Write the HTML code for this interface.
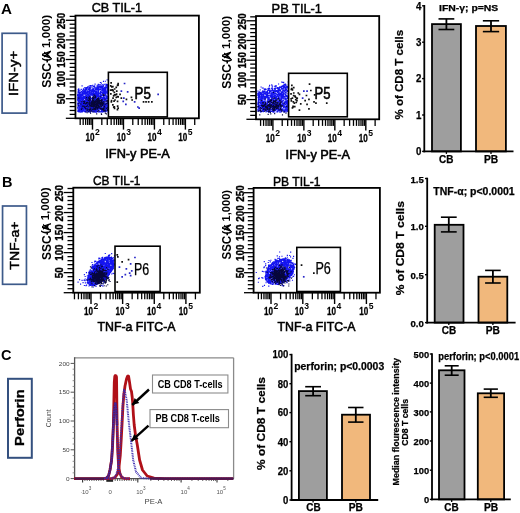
<!DOCTYPE html>
<html><head><meta charset="utf-8"><style>
html,body{margin:0;padding:0;background:#fff;}
body{width:520px;height:513px;overflow:hidden;}
svg{display:block;font-family:"Liberation Sans", sans-serif;filter:blur(0.3px);}
</style></head><body>
<svg width="520" height="513" viewBox="0 0 520 513">
<rect width="520" height="513" fill="#fff"/>
<text x="1.0" y="14.0" font-size="14" font-weight="bold" text-anchor="start" fill="#000" textLength="11" lengthAdjust="spacingAndGlyphs">A</text>
<text x="2.0" y="186.6" font-size="14" font-weight="bold" text-anchor="start" fill="#000" textLength="10.5" lengthAdjust="spacingAndGlyphs">B</text>
<text x="1.0" y="360.3" font-size="14" font-weight="bold" text-anchor="start" fill="#000" textLength="10.5" lengthAdjust="spacingAndGlyphs">C</text>
<rect x="2.10" y="33.30" width="24.50" height="79.80" stroke="#3d5a8a" stroke-width="1.7" fill="none"/>
<text transform="translate(18.1,73.4) rotate(-90)" x="0" y="0" font-size="12.6" font-weight="normal" text-anchor="middle" fill="#000" textLength="45.0" lengthAdjust="spacingAndGlyphs" stroke="#000" stroke-width="0.45">IFN-y+</text>
<rect x="2.55" y="206.00" width="23.90" height="78.30" stroke="#3d5a8a" stroke-width="1.7" fill="none"/>
<text transform="translate(19.3,245.6) rotate(-90)" x="0" y="0" font-size="12.6" font-weight="normal" text-anchor="middle" fill="#000" textLength="48.3" lengthAdjust="spacingAndGlyphs" stroke="#000" stroke-width="0.45">TNF-a+</text>
<rect x="8.00" y="378.80" width="23.80" height="79.00" stroke="#34507f" stroke-width="2" fill="none"/>
<text transform="translate(24.2,417.6) rotate(-90)" x="0" y="0" font-size="13.4" font-weight="bold" text-anchor="middle" fill="#000" textLength="56.6" lengthAdjust="spacingAndGlyphs" stroke="#000" stroke-width="0.3">Perforin</text>
<path d="M81.1 109.3h1.15M100.5 94.5h1.15M92.3 100.3h1.15M97.1 107.4h1.15M79.9 94.3h1.15M102.7 98.4h1.15M100.5 88.5h1.15M90.7 106.3h1.15M84.0 111.1h1.15M104.8 88.1h1.15M77.8 104.0h1.15M105.9 96.6h1.15M83.7 101.0h1.15M77.9 98.3h1.15M90.5 101.5h1.15M84.2 97.2h1.15M83.7 101.7h1.15M85.9 92.7h1.15M102.8 101.4h1.15M96.8 93.7h1.15M107.6 108.6h1.15M80.7 99.8h1.15M99.2 105.4h1.15M105.8 97.7h1.15M102.6 104.2h1.15M86.3 103.9h1.15M104.2 108.4h1.15M92.6 103.3h1.15M78.1 98.6h1.15M101.6 98.1h1.15M82.3 103.6h1.15M98.7 104.6h1.15M88.5 100.6h1.15M92.7 107.4h1.15M93.0 99.0h1.15M92.1 91.3h1.15M78.3 106.9h1.15M107.3 101.8h1.15M89.1 95.0h1.15M92.5 111.8h1.15M100.7 101.2h1.15M103.5 93.4h1.15M92.8 111.1h1.15M94.8 100.2h1.15M85.3 103.2h1.15M106.5 87.1h1.15M101.1 107.9h1.15M104.3 105.8h1.15M101.9 100.6h1.15M94.3 99.5h1.15M78.7 109.8h1.15M94.6 94.4h1.15M92.5 101.0h1.15M88.0 98.8h1.15M93.6 103.9h1.15M95.9 100.0h1.15M77.9 98.4h1.15M82.5 104.3h1.15M103.5 107.2h1.15M101.6 107.8h1.15M84.9 109.1h1.15M97.7 91.1h1.15M77.5 94.7h1.15M100.3 94.4h1.15M80.4 105.2h1.15M87.6 93.2h1.15M81.9 103.3h1.15M82.2 98.4h1.15M98.9 99.5h1.15M86.9 101.6h1.15M77.7 101.3h1.15M90.0 95.2h1.15M80.3 110.3h1.15M92.7 95.0h1.15M95.7 108.1h1.15M77.6 94.7h1.15M81.5 106.9h1.15M81.9 106.6h1.15M97.9 101.7h1.15M83.8 111.7h1.15M101.6 100.6h1.15M83.9 105.4h1.15M89.2 103.4h1.15M86.9 104.7h1.15M78.8 99.5h1.15M106.8 109.0h1.15M86.4 109.3h1.15M86.6 111.0h1.15M99.9 98.4h1.15M84.8 92.7h1.15M104.1 88.5h1.15M102.2 111.3h1.15M94.6 93.8h1.15M103.7 111.5h1.15M98.7 100.8h1.15M88.6 98.7h1.15M83.3 105.9h1.15M90.3 95.2h1.15M80.2 106.0h1.15M86.1 102.2h1.15M87.0 109.6h1.15M104.7 87.8h1.15M83.2 99.3h1.15M107.4 106.6h1.15M87.4 96.2h1.15M97.8 108.4h1.15M105.7 95.7h1.15M104.2 104.5h1.15M91.9 111.9h1.15M84.2 106.8h1.15M79.6 97.0h1.15M105.1 92.6h1.15M100.4 102.7h1.15M102.9 96.8h1.15M87.5 97.8h1.15M103.7 102.5h1.15M106.4 109.3h1.15M81.2 103.8h1.15M80.2 94.5h1.15M79.3 109.7h1.15M101.3 108.1h1.15M87.5 104.4h1.15M101.1 97.3h1.15M94.6 95.0h1.15M79.5 98.8h1.15M104.4 101.4h1.15M105.5 98.6h1.15M85.5 108.0h1.15M102.5 88.3h1.15M97.6 91.3h1.15M80.5 110.0h1.15M78.2 98.5h1.15M107.4 97.4h1.15M80.6 96.8h1.15M84.4 107.2h1.15M80.2 110.5h1.15M88.7 111.6h1.15M105.0 94.6h1.15M84.8 101.9h1.15M80.1 105.8h1.15M78.2 94.4h1.15M107.3 94.2h1.15M95.4 99.9h1.15M86.6 93.3h1.15M105.1 111.4h1.15M106.9 89.6h1.15M83.6 104.8h1.15M107.2 100.5h1.15M98.2 104.4h1.15M85.0 103.2h1.15M86.5 97.1h1.15M79.5 99.0h1.15M107.3 98.1h1.15M97.1 104.0h1.15M106.0 96.9h1.15M86.4 98.7h1.15M86.8 109.1h1.15M104.5 94.9h1.15M87.3 102.9h1.15M94.8 103.2h1.15M84.5 93.0h1.15M84.5 94.0h1.15M94.0 91.7h1.15M79.3 105.5h1.15M86.0 108.0h1.15M92.2 109.2h1.15M81.7 102.8h1.15M101.5 90.1h1.15M106.2 91.3h1.15M100.9 111.8h1.15M102.3 95.7h1.15M80.3 103.2h1.15M105.3 94.5h1.15M104.5 90.9h1.15M105.0 88.1h1.15M86.7 110.2h1.15M101.8 109.9h1.15M102.9 106.0h1.15M98.2 93.2h1.15M90.3 94.4h1.15M99.0 104.4h1.15M84.8 93.8h1.15M106.7 107.3h1.15M93.9 102.1h1.15M103.2 98.8h1.15M89.2 98.4h1.15M84.9 93.0h1.15M96.9 98.9h1.15M94.6 91.4h1.15M87.9 94.6h1.15M80.9 98.4h1.15M102.5 97.6h1.15M89.4 104.1h1.15M84.2 92.9h1.15M93.3 101.3h1.15M97.0 99.4h1.15M98.1 106.0h1.15M84.3 102.3h1.15M91.7 95.6h1.15M89.7 103.0h1.15M104.9 110.1h1.15M85.5 105.2h1.15M78.5 95.5h1.15M92.8 109.5h1.15M81.9 107.8h1.15M104.2 95.2h1.15M98.3 108.7h1.15M88.4 106.0h1.15M99.7 102.7h1.15M103.4 109.6h1.15M106.6 101.3h1.15M82.4 97.9h1.15M83.7 103.8h1.15M100.3 89.7h1.15M98.0 105.7h1.15M87.7 102.3h1.15M82.1 107.1h1.15M78.3 111.8h1.15M101.9 103.2h1.15M85.2 110.5h1.15M106.6 90.4h1.15M100.9 108.4h1.15M97.3 105.3h1.15M90.7 110.6h1.15M106.9 96.5h1.15M101.7 98.6h1.15M82.1 99.4h1.15M80.9 110.5h1.15M106.6 89.9h1.15M95.5 98.9h1.15M80.6 99.1h1.15M84.6 107.3h1.15M77.1 97.9h1.15M90.5 91.5h1.15M96.3 103.3h1.15M102.7 92.9h1.15M85.8 103.1h1.15M85.4 104.0h1.15M84.7 106.0h1.15M101.4 107.6h1.15M107.0 100.6h1.15M92.1 109.1h1.15M100.7 102.0h1.15M88.8 97.4h1.15M80.3 108.6h1.15M80.6 107.5h1.15M93.8 111.4h1.15M100.4 111.5h1.15M81.2 102.8h1.15M94.6 96.9h1.15M92.5 98.3h1.15M93.3 90.4h1.15M90.6 100.5h1.15M86.4 100.1h1.15M101.1 104.6h1.15M92.2 104.6h1.15M88.6 95.8h1.15M77.1 99.4h1.15M95.4 109.5h1.15M102.5 100.3h1.15M107.4 98.4h1.15M102.7 97.8h1.15M99.9 111.9h1.15M86.4 95.5h1.15M96.1 101.6h1.15M88.1 91.8h1.15M89.0 100.3h1.15M89.5 109.3h1.15M95.0 106.2h1.15M104.7 105.9h1.15M92.2 106.7h1.15M96.7 104.2h1.15M96.4 98.8h1.15M96.4 103.9h1.15M105.9 106.7h1.15M103.1 106.5h1.15M102.1 102.7h1.15M87.8 97.2h1.15M98.8 109.2h1.15M93.8 93.6h1.15M102.7 99.7h1.15M91.4 91.8h1.15M92.7 106.6h1.15M90.0 98.6h1.15M97.2 89.8h1.15M92.6 111.0h1.15M98.3 98.3h1.15M98.2 103.0h1.15M83.4 96.9h1.15M104.3 94.1h1.15M79.3 109.1h1.15M93.1 98.4h1.15M92.8 106.5h1.15M82.2 105.6h1.15M99.0 107.9h1.15M85.3 104.5h1.15M84.1 103.6h1.15M82.3 108.2h1.15M103.7 95.7h1.15M83.8 111.5h1.15M98.8 108.5h1.15M77.9 110.4h1.15M96.2 96.7h1.15M90.3 107.2h1.15M101.2 92.8h1.15M96.3 93.3h1.15M107.0 98.1h1.15M105.1 105.4h1.15M95.7 95.6h1.15M93.2 93.4h1.15M81.3 106.9h1.15M88.1 107.1h1.15M84.4 106.7h1.15M99.1 96.0h1.15M80.3 101.0h1.15M92.2 92.8h1.15M82.8 94.1h1.15M95.4 109.7h1.15M83.7 93.5h1.15M98.7 107.9h1.15M106.7 102.4h1.15M87.5 108.9h1.15M80.6 106.5h1.15M79.9 101.2h1.15M92.2 98.8h1.15M82.2 97.6h1.15M102.3 99.2h1.15M94.9 94.6h1.15M99.0 96.6h1.15M95.3 110.2h1.15M101.6 108.8h1.15M86.8 99.7h1.15M94.9 110.4h1.15M89.3 109.7h1.15M100.4 92.1h1.15M105.1 87.6h1.15M81.5 105.9h1.15M78.8 101.0h1.15M81.0 102.2h1.15M102.9 109.9h1.15M78.1 95.4h1.15M102.9 88.9h1.15M85.4 94.7h1.15M79.8 94.4h1.15M96.6 106.4h1.15M98.2 108.6h1.15M97.4 98.2h1.15M96.4 111.5h1.15M96.8 95.0h1.15M78.9 111.0h1.15M95.2 97.7h1.15M95.6 102.3h1.15M93.1 91.7h1.15M87.9 100.2h1.15M83.1 109.9h1.15M90.1 105.1h1.15M99.0 106.2h1.15M99.2 106.4h1.15M84.7 111.7h1.15M81.7 110.6h1.15M103.3 108.6h1.15M78.6 95.8h1.15M102.0 99.4h1.15M88.4 111.9h1.15M78.2 103.8h1.15M90.7 93.7h1.15M89.2 106.1h1.15M104.2 88.1h1.15M93.2 92.3h1.15M101.7 90.2h1.15M78.1 101.2h1.15M99.6 96.1h1.15M81.0 108.3h1.15M101.9 108.7h1.15M86.4 100.7h1.15M84.6 103.5h1.15M87.2 98.8h1.15M101.1 111.1h1.15M95.0 92.2h1.15M97.1 99.6h1.15M107.4 105.0h1.15M102.7 104.9h1.15M93.5 109.9h1.15M102.6 95.0h1.15M81.8 100.3h1.15M93.0 92.5h1.15M87.6 103.5h1.15M78.3 108.9h1.15M97.1 96.5h1.15M86.2 99.2h1.15M87.0 107.1h1.15M92.4 101.9h1.15M81.6 110.6h1.15M87.0 98.6h1.15M79.1 111.8h1.15M91.8 110.3h1.15M105.6 111.4h1.15M102.1 110.4h1.15M105.4 107.2h1.15M81.1 103.3h1.15M94.7 112.0h1.15M101.1 105.1h1.15M100.0 97.1h1.15M106.0 103.2h1.15M89.4 101.0h1.15M107.2 100.3h1.15M82.2 96.0h1.15M98.2 102.1h1.15M104.9 91.9h1.15M89.7 106.5h1.15M78.5 96.0h1.15M93.8 96.0h1.15M80.3 98.5h1.15M96.5 101.4h1.15M79.4 95.3h1.15M103.2 103.5h1.15M82.3 109.6h1.15M77.7 100.9h1.15M103.1 105.1h1.15M85.7 110.0h1.15M95.4 109.2h1.15M104.5 98.0h1.15M97.8 101.7h1.15M106.1 107.1h1.15M99.4 107.8h1.15M83.2 107.3h1.15M100.7 100.6h1.15M92.0 99.4h1.15M104.2 107.1h1.15M95.0 90.8h1.15M103.2 99.0h1.15M82.8 98.8h1.15M98.3 89.2h1.15M80.7 99.2h1.15M104.3 105.9h1.15M106.9 100.6h1.15M94.6 102.2h1.15M93.2 102.2h1.15M102.2 111.0h1.15M89.6 104.5h1.15M86.5 98.2h1.15M92.6 103.2h1.15M93.9 111.7h1.15M82.0 105.3h1.15M94.4 98.2h1.15M89.4 110.9h1.15M104.6 104.0h1.15M104.7 110.3h1.15M103.1 97.1h1.15M91.3 107.8h1.15M88.5 107.0h1.15M91.8 97.9h1.15M91.0 93.4h1.15M87.9 100.2h1.15M77.6 97.5h1.15M85.0 109.4h1.15M95.2 96.3h1.15M92.8 106.5h1.15M98.3 99.1h1.15M100.9 99.9h1.15M99.0 100.3h1.15M106.9 105.0h1.15M79.8 96.2h1.15M106.8 92.6h1.15M77.8 98.9h1.15M91.8 111.1h1.15M89.3 106.4h1.15M102.7 90.1h1.15M95.8 112.1h1.15M93.9 101.9h1.15M87.7 111.1h1.15M106.9 89.4h1.15M94.0 99.4h1.15M97.7 91.9h1.15M85.2 98.0h1.15M91.8 107.7h1.15M103.4 107.0h1.15M97.8 91.2h1.15M89.0 105.3h1.15M86.1 102.4h1.15M104.9 90.2h1.15M103.3 90.3h1.15M88.9 110.2h1.15M83.2 103.0h1.15M89.8 109.8h1.15M107.6 94.0h1.15M92.2 109.9h1.15M93.8 94.9h1.15M100.4 96.5h1.15M92.0 90.9h1.15M107.5 103.4h1.15M105.5 111.4h1.15M85.2 103.1h1.15M90.6 107.1h1.15M102.9 93.4h1.15M85.5 106.4h1.15M89.7 94.0h1.15M83.0 103.8h1.15M95.4 111.3h1.15M93.4 103.6h1.15M81.6 101.2h1.15M85.6 106.1h1.15M85.2 96.7h1.15M88.3 101.3h1.15M87.4 104.2h1.15M82.6 109.9h1.15M98.4 101.4h1.15M78.8 100.0h1.15M98.3 104.0h1.15M102.0 109.6h1.15M86.7 102.0h1.15M87.2 94.5h1.15M81.3 98.3h1.15M79.7 103.7h1.15M98.7 102.0h1.15M98.1 94.3h1.15M83.1 103.9h1.15M104.2 97.9h1.15M77.1 94.9h1.15M86.4 104.5h1.15M79.6 98.0h1.15M98.0 111.8h1.15M87.5 104.1h1.15M93.0 90.9h1.15M87.2 94.8h1.15M84.7 107.7h1.15M98.0 90.1h1.15M79.4 107.2h1.15M80.2 99.6h1.15M85.3 93.4h1.15M78.0 96.8h1.15M89.3 110.8h1.15M96.7 95.0h1.15M97.9 95.4h1.15M92.9 97.4h1.15M106.2 95.9h1.15M101.7 103.6h1.15M103.0 102.6h1.15M103.8 97.6h1.15M97.9 103.4h1.15M93.3 102.7h1.15M93.5 98.9h1.15M104.7 103.1h1.15M93.9 91.4h1.15M92.7 94.3h1.15M83.6 101.3h1.15M93.8 95.7h1.15M85.3 102.9h1.15M91.6 99.4h1.15M80.2 100.6h1.15M97.2 101.8h1.15M93.8 108.7h1.15M99.3 104.8h1.15M77.9 99.8h1.15M98.0 92.7h1.15M105.1 90.8h1.15M104.1 92.9h1.15M102.9 108.5h1.15M87.3 109.9h1.15M81.9 109.3h1.15M88.8 100.6h1.15M80.6 104.8h1.15M85.3 105.6h1.15M101.6 102.7h1.15M77.3 111.3h1.15M105.3 103.3h1.15M88.7 103.1h1.15M104.2 98.8h1.15M101.0 102.6h1.15M90.0 110.8h1.15M89.6 103.9h1.15M78.6 102.6h1.15M78.2 106.9h1.15M77.0 95.3h1.15M80.4 96.3h1.15M92.6 98.2h1.15M85.3 111.9h1.15M105.0 103.6h1.15M101.7 107.8h1.15M84.6 108.4h1.15M84.4 103.6h1.15M88.0 95.0h1.15M100.9 110.2h1.15M86.7 109.8h1.15M87.7 105.2h1.15M78.7 102.0h1.15M88.6 97.6h1.15M102.1 98.7h1.15M98.5 103.7h1.15M93.0 91.6h1.15M97.7 109.7h1.15M82.3 105.4h1.15M92.0 98.0h1.15M98.9 111.6h1.15M77.7 110.3h1.15M88.8 108.7h1.15M82.4 106.8h1.15M80.1 100.0h1.15M106.9 103.5h1.15M101.2 99.3h1.15M91.5 101.3h1.15M100.8 105.6h1.15M83.0 101.5h1.15M93.7 102.8h1.15M105.5 108.2h1.15M81.6 100.4h1.15M80.4 94.2h1.15M79.3 97.3h1.15M100.6 104.3h1.15M101.6 95.1h1.15M81.8 111.6h1.15M102.4 110.9h1.15M77.6 101.5h1.15M96.5 106.2h1.15M105.1 100.7h1.15M89.0 91.6h1.15M101.8 111.7h1.15M104.9 103.8h1.15M87.5 96.7h1.15M100.9 110.6h1.15M106.6 91.3h1.15M95.0 101.3h1.15M90.2 107.9h1.15M105.8 105.3h1.15M98.6 105.0h1.15M97.1 101.6h1.15M84.6 107.9h1.15M80.7 105.6h1.15M88.9 103.1h1.15M96.8 100.3h1.15M107.1 92.8h1.15M77.4 111.4h1.15M86.6 97.7h1.15M89.8 103.7h1.15M107.4 104.7h1.15M86.8 102.8h1.15M90.8 101.6h1.15M89.9 94.7h1.15M89.2 99.5h1.15M83.2 108.7h1.15M88.1 94.8h1.15M94.5 108.7h1.15M101.0 103.2h1.15M99.5 96.6h1.15M81.4 98.2h1.15M87.8 97.5h1.15M91.4 94.0h1.15M81.0 98.2h1.15M83.1 108.4h1.15M93.6 94.6h1.15M90.2 109.5h1.15M94.8 102.3h1.15M89.1 95.5h1.15M96.3 91.3h1.15M101.2 89.7h1.15M100.0 97.6h1.15M98.0 102.7h1.15M81.0 103.6h1.15M79.3 98.4h1.15M88.8 97.4h1.15M97.4 111.9h1.15M88.0 108.9h1.15M83.9 106.5h1.15M87.7 102.7h1.15M79.7 109.0h1.15M83.4 101.8h1.15M85.9 108.4h1.15M95.3 103.6h1.15M100.2 94.6h1.15M78.8 109.1h1.15M86.7 108.4h1.15M106.5 102.8h1.15M80.2 109.5h1.15M96.5 95.1h1.15M83.4 102.7h1.15M80.7 110.4h1.15M98.8 108.0h1.15M88.8 110.6h1.15M81.1 106.9h1.15M84.8 92.6h1.15M80.7 97.3h1.15M100.5 97.4h1.15M91.8 103.9h1.15M85.2 105.0h1.15M97.7 110.4h1.15M92.5 109.0h1.15M106.8 106.3h1.15M90.0 96.9h1.15M80.0 109.1h1.15M81.0 104.0h1.15M91.0 91.9h1.15M83.6 108.8h1.15M93.6 110.5h1.15M105.0 89.6h1.15M97.9 90.1h1.15M90.0 100.5h1.15M106.5 102.0h1.15M82.9 102.8h1.15M93.1 94.7h1.15M88.1 109.7h1.15M107.2 106.5h1.15M79.0 110.5h1.15M91.1 108.6h1.15M82.4 96.0h1.15M104.9 94.4h1.15M78.3 103.2h1.15M107.5 108.0h1.15M89.2 112.0h1.15M101.5 108.4h1.15M96.9 98.4h1.15M104.9 99.0h1.15M105.8 100.9h1.15M105.0 99.2h1.15M90.1 103.5h1.15M86.8 95.0h1.15M95.2 108.8h1.15M85.6 109.5h1.15M101.2 106.8h1.15M89.8 112.1h1.15M101.4 102.0h1.15M80.5 104.3h1.15M77.4 110.4h1.15M87.4 99.4h1.15M94.0 104.2h1.15M94.9 100.7h1.15M96.5 108.7h1.15M90.7 101.6h1.15M102.0 88.2h1.15M81.9 99.4h1.15M83.6 110.2h1.15M81.6 95.4h1.15M86.8 102.3h1.15M102.3 112.1h1.15M103.2 102.6h1.15M78.2 95.4h1.15M96.4 108.1h1.15M85.2 111.6h1.15M94.0 102.8h1.15M96.1 91.3h1.15M82.2 111.0h1.15M85.2 94.1h1.15M85.7 106.7h1.15M85.1 96.6h1.15M85.5 101.9h1.15M99.7 95.8h1.15M103.9 111.6h1.15M102.3 89.8h1.15M86.7 110.7h1.15M103.5 91.0h1.15M90.6 98.7h1.15M100.0 89.3h1.15M86.7 107.1h1.15M104.3 88.5h1.15M95.1 104.7h1.15M103.9 98.0h1.15M107.0 91.8h1.15M80.5 96.1h1.15M95.1 92.6h1.15M85.2 96.3h1.15M78.7 111.5h1.15M87.3 111.4h1.15M99.3 93.9h1.15M105.7 87.3h1.15M107.2 87.5h1.15M84.8 103.4h1.15M77.3 108.0h1.15M79.6 108.8h1.15M78.1 103.7h1.15M83.5 98.5h1.15M92.1 98.6h1.15M89.1 105.0h1.15M83.0 96.5h1.15M98.1 96.0h1.15M105.7 97.8h1.15M91.6 91.3h1.15M77.6 96.3h1.15M96.3 104.6h1.15M106.3 97.9h1.15M98.8 96.9h1.15M79.3 101.6h1.15M98.6 107.6h1.15M106.3 107.9h1.15M94.4 102.2h1.15M92.4 100.9h1.15M98.0 102.4h1.15M103.4 98.7h1.15M91.5 108.6h1.15M97.8 101.2h1.15M94.4 107.9h1.15M95.7 95.5h1.15M86.6 104.2h1.15M78.4 102.4h1.15M104.5 93.2h1.15M90.7 105.8h1.15M105.5 104.6h1.15M96.3 98.2h1.15M90.5 104.6h1.15M88.0 107.8h1.15M77.3 107.8h1.15M99.9 95.9h1.15M77.5 100.4h1.15M95.1 107.4h1.15M103.8 92.7h1.15M79.5 96.1h1.15M107.5 103.1h1.15M81.0 106.4h1.15M106.6 102.3h1.15M84.2 111.4h1.15M98.6 93.2h1.15M100.6 100.4h1.15M94.7 98.1h1.15M86.0 100.6h1.15M93.2 100.4h1.15M103.7 89.5h1.15M83.1 111.0h1.15M95.7 103.6h1.15M96.4 95.0h1.15M89.2 95.8h1.15M81.7 112.0h1.15M99.9 109.3h1.15M77.0 107.0h1.15M86.5 102.1h1.15M97.8 89.9h1.15M88.4 103.0h1.15M103.9 100.2h1.15M86.8 104.2h1.15M95.0 96.4h1.15M93.9 96.3h1.15M77.3 100.0h1.15M79.7 102.9h1.15M92.4 109.4h1.15M100.0 106.3h1.15M107.5 93.4h1.15M88.5 96.3h1.15M80.2 103.2h1.15M92.7 93.3h1.15M105.4 111.6h1.15M79.1 94.1h1.15M78.9 107.3h1.15M103.3 89.4h1.15M77.3 104.0h1.15M87.2 92.3h1.15M77.3 98.2h1.15M83.2 98.6h1.15M94.0 95.7h1.15M84.2 96.8h1.15M104.3 93.4h1.15M94.1 100.1h1.15M87.2 100.2h1.15M77.5 97.7h1.15M96.7 106.8h1.15M83.7 96.2h1.15M104.9 89.8h1.15M101.5 109.3h1.15M81.5 109.0h1.15M81.6 94.2h1.15M85.8 99.1h1.15M95.2 99.7h1.15M101.4 104.1h1.15M80.7 97.4h1.15M100.0 91.3h1.15M106.3 107.4h1.15M83.8 98.4h1.15M84.8 100.9h1.15M84.7 93.2h1.15M84.8 96.4h1.15M87.8 101.0h1.15M103.9 103.8h1.15M96.0 109.1h1.15M88.9 100.3h1.15M84.5 108.9h1.15M104.0 110.0h1.15M95.6 92.3h1.15M79.2 108.5h1.15M104.3 100.6h1.15M105.4 110.4h1.15M100.2 97.3h1.15M91.1 98.4h1.15M89.2 101.2h1.15M77.5 96.7h1.15M82.2 104.0h1.15M103.8 105.1h1.15M81.6 102.0h1.15M96.3 92.6h1.15M79.5 105.1h1.15M84.3 105.3h1.15M82.3 109.4h1.15M86.5 100.7h1.15M93.9 109.7h1.15M105.2 108.3h1.15M98.1 90.7h1.15M82.8 103.3h1.15M107.3 105.2h1.15M82.9 99.9h1.15M106.6 99.7h1.15M103.8 108.7h1.15M101.1 103.3h1.15M97.5 97.1h1.15M80.7 111.2h1.15M78.0 99.2h1.15M95.9 111.4h1.15M83.5 97.7h1.15M103.1 95.8h1.15M89.4 98.8h1.15M78.5 111.1h1.15M98.5 89.2h1.15M80.0 96.3h1.15M88.4 109.9h1.15M81.3 97.7h1.15M86.6 102.3h1.15M104.8 100.7h1.15M104.8 100.8h1.15M90.3 109.5h1.15M94.9 100.5h1.15M92.8 98.2h1.15M90.3 92.7h1.15M83.3 107.6h1.15M81.1 97.4h1.15M82.0 100.1h1.15M78.5 100.7h1.15M95.8 104.9h1.15M103.7 89.8h1.15M96.8 93.9h1.15M87.5 103.5h1.15M102.8 104.2h1.15M107.3 87.1h1.15M86.7 101.7h1.15M78.1 95.2h1.15M88.3 103.1h1.15M81.2 94.8h1.15M86.8 107.0h1.15M94.5 112.1h1.15M95.6 109.7h1.15M94.6 100.7h1.15M89.8 92.7h1.15M78.9 106.0h1.15M103.5 88.2h1.15M82.6 99.4h1.15M86.6 108.8h1.15M84.8 98.6h1.15M92.0 111.1h1.15M86.1 104.9h1.15M78.5 101.9h1.15M105.6 92.6h1.15M88.0 105.1h1.15M94.4 102.8h1.15M95.7 104.9h1.15M86.9 99.1h1.15M89.2 102.3h1.15M94.5 109.4h1.15M89.2 100.7h1.15M102.6 111.5h1.15M84.5 106.9h1.15M84.6 107.1h1.15M78.2 103.3h1.15M94.6 105.5h1.15M105.2 107.1h1.15M94.3 101.1h1.15M77.4 104.3h1.15M94.3 106.5h1.15M82.1 104.4h1.15M78.6 107.2h1.15M102.3 98.6h1.15M98.2 104.4h1.15M86.4 93.9h1.15M100.3 97.0h1.15M82.0 101.6h1.15M102.7 111.1h1.15M94.5 111.5h1.15M82.3 102.5h1.15M77.3 98.6h1.15M104.0 89.0h1.15M97.2 101.0h1.15M107.4 112.0h1.15M80.8 98.5h1.15M107.5 95.1h1.15M82.6 110.5h1.15M96.0 96.6h1.15M94.1 99.6h1.15M91.1 102.7h1.15M82.2 104.9h1.15M106.4 101.9h1.15M101.3 95.0h1.15M81.8 93.5h1.15M107.2 89.8h1.15M88.7 105.0h1.15M99.6 103.2h1.15M90.5 108.3h1.15M90.6 108.7h1.15M78.7 107.2h1.15M80.0 100.9h1.15M90.7 94.9h1.15M90.8 109.1h1.15M78.1 97.8h1.15M107.0 98.2h1.15M89.0 110.4h1.15M100.9 92.5h1.15M95.4 93.8h1.15M100.9 101.6h1.15M101.6 89.7h1.15M105.6 92.9h1.15M103.2 98.6h1.15M104.4 90.0h1.15M78.7 102.6h1.15M105.7 98.8h1.15M92.6 94.1h1.15M93.7 99.6h1.15M104.3 105.8h1.15M91.7 93.9h1.15M81.5 111.6h1.15M95.8 94.7h1.15M102.0 93.3h1.15M91.0 109.6h1.15M80.2 95.6h1.15M78.6 96.9h1.15M88.5 98.2h1.15M85.6 92.6h1.15M92.0 100.3h1.15M99.8 95.8h1.15M94.9 96.9h1.15M100.2 92.7h1.15M92.1 100.3h1.15M91.1 102.4h1.15M93.5 97.2h1.15M102.4 111.0h1.15M94.2 104.1h1.15M99.3 96.3h1.15M95.2 100.2h1.15M91.9 99.2h1.15M93.5 95.1h1.15M84.4 96.6h1.15M95.3 95.3h1.15M101.0 109.9h1.15M100.4 96.3h1.15M106.0 95.7h1.15M88.1 103.9h1.15M97.3 98.6h1.15M101.2 108.7h1.15M85.9 96.7h1.15M89.2 105.9h1.15M97.6 93.2h1.15M89.0 110.1h1.15M106.6 102.2h1.15M101.0 108.4h1.15M83.8 94.1h1.15M95.8 98.3h1.15M98.9 95.7h1.15M90.4 108.1h1.15M79.9 101.3h1.15M81.7 103.4h1.15M99.6 111.9h1.15M100.2 92.0h1.15M90.5 102.5h1.15M96.6 105.4h1.15M107.0 110.7h1.15M83.4 96.0h1.15M106.9 90.9h1.15M106.8 89.9h1.15M95.0 92.8h1.15M81.1 99.7h1.15M101.4 105.0h1.15M86.8 94.8h1.15M88.0 95.3h1.15M84.2 102.4h1.15M92.1 110.5h1.15M79.8 103.6h1.15M94.4 93.2h1.15M88.1 94.5h1.15M104.5 96.1h1.15M79.0 102.7h1.15M93.3 109.7h1.15M99.1 93.6h1.15M105.0 87.4h1.15M98.5 90.0h1.15M102.2 92.6h1.15M101.6 107.7h1.15M100.8 91.0h1.15M89.3 93.6h1.15M99.1 112.0h1.15M93.1 104.6h1.15M97.5 92.5h1.15M88.4 98.8h1.15M100.1 98.3h1.15M88.3 102.9h1.15M83.3 94.2h1.15M84.3 93.1h1.15M97.6 99.7h1.15M96.0 102.4h1.15M78.7 108.8h1.15M102.2 88.2h1.15M90.2 107.7h1.15M89.8 109.2h1.15M98.4 104.3h1.15M104.9 106.7h1.15M95.0 90.9h1.15M91.0 105.6h1.15M93.1 103.1h1.15M87.8 108.9h1.15M84.6 105.1h1.15M90.5 94.2h1.15M77.6 96.7h1.15M85.9 101.7h1.15M77.8 95.6h1.15M101.5 111.7h1.15M90.3 101.0h1.15M95.6 91.9h1.15M93.6 105.0h1.15M106.1 103.2h1.15M93.8 99.2h1.15M105.1 100.3h1.15M91.7 106.5h1.15M90.5 92.5h1.15M95.2 109.2h1.15M88.4 93.6h1.15M80.3 110.4h1.15M80.4 105.8h1.15M79.7 103.3h1.15M105.1 93.1h1.15M86.5 104.4h1.15M94.7 102.4h1.15M89.1 92.3h1.15M95.3 96.0h1.15M96.1 99.5h1.15M85.3 112.1h1.15M86.9 111.6h1.15M91.7 102.2h1.15M85.3 95.9h1.15M98.7 99.5h1.15M95.0 94.0h1.15M92.7 104.8h1.15M100.4 104.3h1.15M89.7 105.6h1.15M95.4 100.5h1.15M96.4 96.5h1.15M78.9 96.7h1.15M107.0 109.5h1.15M102.5 94.2h1.15M102.8 107.1h1.15M93.7 96.9h1.15M80.3 112.1h1.15M90.7 106.5h1.15M105.0 100.8h1.15M80.9 111.7h1.15M93.6 107.1h1.15M96.2 91.1h1.15M91.2 91.1h1.15M85.2 111.4h1.15M98.3 102.1h1.15M80.5 106.4h1.15M95.6 104.0h1.15M98.2 110.5h1.15M90.8 103.9h1.15M93.3 103.2h1.15M97.9 93.5h1.15M78.7 96.2h1.15M78.3 104.2h1.15M86.4 107.9h1.15M82.0 96.1h1.15M103.7 89.8h1.15M87.9 105.8h1.15M94.3 96.0h1.15M81.1 104.3h1.15M84.6 109.4h1.15M85.2 110.9h1.15M77.7 105.3h1.15M85.7 101.7h1.15M90.4 108.1h1.15M82.7 107.7h1.15M78.0 105.7h1.15M102.4 98.4h1.15M103.2 96.4h1.15M87.9 110.4h1.15M107.5 106.8h1.15M84.1 111.1h1.15M88.3 109.5h1.15M86.9 96.4h1.15M84.9 106.1h1.15M107.2 100.0h1.15M80.3 106.4h1.15M104.7 106.8h1.15M77.1 100.1h1.15M100.9 105.1h1.15M101.6 104.7h1.15M88.7 92.3h1.15M100.7 99.3h1.15M103.6 90.9h1.15M103.4 103.5h1.15M104.3 104.8h1.15M90.4 102.0h1.15M80.0 98.2h1.15M94.7 93.9h1.15M88.0 104.9h1.15M95.3 109.8h1.15M90.3 102.8h1.15M90.0 107.0h1.15M96.3 110.9h1.15M81.4 95.8h1.15M86.0 104.5h1.15M96.7 94.0h1.15M85.4 104.2h1.15M85.1 108.8h1.15M80.3 108.2h1.15M81.7 106.8h1.15M101.1 110.8h1.15M104.8 88.0h1.15M97.4 110.1h1.15M100.7 99.2h1.15M100.1 95.3h1.15M101.7 97.9h1.15M106.9 87.5h1.15M94.9 92.8h1.15M100.6 111.5h1.15M92.2 108.8h1.15M84.2 93.3h1.15M101.7 98.0h1.15M79.6 106.2h1.15M104.8 89.4h1.15M95.8 97.5h1.15M78.3 95.5h1.15M78.4 99.7h1.15M86.5 102.9h1.15M96.1 108.8h1.15M103.4 91.9h1.15M96.3 109.4h1.15M84.7 104.4h1.15M107.4 102.8h1.15M98.6 96.2h1.15M107.6 107.9h1.15M86.9 98.1h1.15M77.1 103.0h1.15M103.9 106.9h1.15M81.5 97.9h1.15M82.0 98.2h1.15M83.2 96.1h1.15M94.0 110.3h1.15M103.3 102.9h1.15M86.7 110.3h1.15M83.5 93.6h1.15M83.7 108.1h1.15M98.6 96.2h1.15M83.8 105.2h1.15M92.8 107.7h1.15M90.7 92.8h1.15M79.2 98.2h1.15M93.1 106.0h1.15M94.1 90.3h1.15M106.4 98.5h1.15M93.6 94.5h1.15M84.5 96.8h1.15M95.7 110.1h1.15M85.1 99.4h1.15M85.9 92.9h1.15M77.3 108.3h1.15M107.1 87.8h1.15M79.4 102.2h1.15M86.4 97.1h1.15M103.8 92.4h1.15M83.0 110.4h1.15M96.2 105.1h1.15M97.6 89.8h1.15M107.1 87.5h1.15M84.0 102.0h1.15M102.8 110.9h1.15M77.3 96.9h1.15M77.5 96.9h1.15M105.1 89.4h1.15M93.6 94.5h1.15M77.2 99.5h1.15M85.0 103.2h1.15M103.9 100.6h1.15M93.4 96.4h1.15M82.5 102.3h1.15M89.1 110.1h1.15M83.4 93.4h1.15M78.6 99.9h1.15M83.7 100.5h1.15M104.1 105.5h1.15M95.3 108.4h1.15M104.1 89.1h1.15M98.2 92.1h1.15M89.7 99.4h1.15M85.4 93.3h1.15M83.0 106.6h1.15M106.5 109.9h1.15M77.7 104.5h1.15M82.9 103.0h1.15M93.4 93.9h1.15M79.7 102.7h1.15M78.6 109.3h1.15M104.4 87.8h1.15M101.7 108.3h1.15M78.2 104.8h1.15M91.6 94.5h1.15M102.2 101.7h1.15M102.0 110.6h1.15M106.9 103.6h1.15M103.9 89.2h1.15M87.4 101.5h1.15M92.8 98.5h1.15M102.2 102.1h1.15M103.1 98.6h1.15M106.0 96.0h1.15M107.6 101.1h1.15M88.6 104.4h1.15M80.3 106.4h1.15M95.5 107.8h1.15M79.3 101.6h1.15M95.1 91.2h1.15M100.5 109.8h1.15M96.3 106.8h1.15M106.1 98.5h1.15M92.8 109.7h1.15M97.8 95.5h1.15M95.2 107.0h1.15M103.0 91.0h1.15M82.1 106.3h1.15M99.1 105.9h1.15M92.1 98.9h1.15M106.6 93.3h1.15M85.8 92.8h1.15M79.6 105.3h1.15M97.4 94.3h1.15M99.8 92.7h1.15M88.5 104.7h1.15M100.9 99.1h1.15M101.9 99.5h1.15M97.4 108.4h1.15M94.3 102.5h1.15M105.7 88.0h1.15M77.6 95.1h1.15M86.6 102.9h1.15M96.0 105.0h1.15M77.5 109.9h1.15M84.3 111.5h1.15M87.7 109.0h1.15M99.0 89.4h1.15M92.8 99.0h1.15M107.6 92.6h1.15M89.2 95.0h1.15M77.1 104.0h1.15M96.1 93.3h1.15M102.8 93.3h1.15M105.9 104.0h1.15M106.9 97.9h1.15M102.8 102.6h1.15M99.0 98.4h1.15M92.8 96.4h1.15M87.4 110.7h1.15M79.4 109.1h1.15M100.1 92.4h1.15M90.3 108.7h1.15M92.7 101.5h1.15M92.5 94.3h1.15M107.5 105.8h1.15M85.8 99.2h1.15M98.8 109.2h1.15M94.0 96.5h1.15M88.1 102.9h1.15M104.3 104.9h1.15M83.9 93.2h1.15M97.2 95.3h1.15M104.0 91.5h1.15M84.8 92.9h1.15M102.3 90.7h1.15M81.7 100.6h1.15M82.3 95.0h1.15M93.9 104.6h1.15M101.2 89.7h1.15M78.6 102.7h1.15M99.8 93.5h1.15M95.3 92.3h1.15M104.7 109.0h1.15M105.8 96.8h1.15M79.5 108.8h1.15M90.6 98.4h1.15M90.2 106.1h1.15M99.4 99.0h1.15M85.2 95.4h1.15M78.6 111.5h1.15M106.8 88.5h1.15M95.3 111.6h1.15M94.7 111.5h1.15M81.5 106.9h1.15M102.9 90.6h1.15M83.3 111.1h1.15M84.2 104.7h1.15M105.1 105.0h1.15M100.8 95.5h1.15M103.2 91.2h1.15M89.3 101.5h1.15M98.7 89.7h1.15M79.3 100.7h1.15M81.8 110.5h1.15M90.7 103.5h1.15M90.1 109.2h1.15M105.5 109.7h1.15M79.5 105.1h1.15M100.9 110.2h1.15M94.1 100.5h1.15M82.4 93.3h1.15M77.7 99.3h1.15M99.2 98.2h1.15M93.7 96.2h1.15M107.0 110.2h1.15M85.1 100.0h1.15M80.2 101.0h1.15M84.4 106.8h1.15M86.6 105.9h1.15M77.8 107.0h1.15M96.6 96.1h1.15M100.7 108.9h1.15M104.9 104.6h1.15M90.5 103.4h1.15M100.5 96.0h1.15M104.2 106.9h1.15M98.4 106.6h1.15M78.6 108.8h1.15M90.8 105.5h1.15M97.0 99.0h1.15M99.7 108.8h1.15M105.2 106.6h1.15M95.3 106.9h1.15M87.7 100.0h1.15M78.3 110.9h1.15M101.9 100.5h1.15M95.9 108.2h1.15M82.1 104.0h1.15M99.3 102.4h1.15M107.1 93.3h1.15M97.9 107.1h1.15M89.0 110.9h1.15M89.7 94.3h1.15M82.2 100.7h1.15M107.4 110.0h1.15M104.7 103.8h1.15M92.5 104.4h1.15M95.6 111.2h1.15M89.1 99.6h1.15M99.5 107.6h1.15M99.8 92.4h1.15M96.5 95.6h1.15M85.4 97.4h1.15M77.3 96.6h1.15M97.7 107.5h1.15M80.3 111.2h1.15M91.3 107.5h1.15M78.3 95.7h1.15M102.1 90.4h1.15M78.2 106.0h1.15M78.3 101.7h1.15M102.1 90.8h1.15M103.0 110.0h1.15M107.0 102.4h1.15M102.3 91.9h1.15M94.7 109.4h1.15M103.7 91.9h1.15M102.5 97.6h1.15M92.8 107.8h1.15M97.6 96.7h1.15M103.4 110.5h1.15M101.9 89.3h1.15M77.5 104.7h1.15M80.1 95.4h1.15M103.8 88.8h1.15M85.7 98.4h1.15M105.7 110.8h1.15M101.2 99.2h1.15M80.6 111.5h1.15M83.9 105.2h1.15M101.0 100.5h1.15M104.3 110.7h1.15M88.3 106.2h1.15M79.9 101.7h1.15M97.7 95.5h1.15M88.5 107.2h1.15M83.5 110.7h1.15M81.3 97.6h1.15M95.9 94.8h1.15M102.9 96.6h1.15M80.9 106.0h1.15M90.2 104.3h1.15M80.4 94.7h1.15M86.1 102.5h1.15M83.1 97.0h1.15M102.8 93.8h1.15M87.7 109.6h1.15M81.3 107.8h1.15M79.8 108.5h1.15M85.5 96.7h1.15M90.1 94.2h1.15M97.5 87.4h1.15M101.6 84.5h1.15M82.0 92.5h1.15M87.1 86.7h1.15M100.0 87.1h1.15M83.8 92.2h1.15M105.4 84.1h1.15M77.5 92.3h1.15M77.5 89.8h1.15M98.5 87.1h1.15M85.0 91.6h1.15M98.2 88.5h1.15M98.2 85.6h1.15M82.8 89.3h1.15M106.6 84.6h1.15M87.2 90.9h1.15M101.5 86.2h1.15M98.3 85.9h1.15M106.1 87.0h1.15M87.9 89.5h1.15M79.3 92.2h1.15M83.9 87.7h1.15M91.5 89.5h1.15M77.9 92.5h1.15M95.3 88.2h1.15M100.2 88.0h1.15M100.8 83.1h1.15M90.0 90.0h1.15M96.1 88.1h1.15M95.1 89.2h1.15M102.9 81.4h1.15M92.2 89.6h1.15M89.6 90.0h1.15M104.8 81.2h1.15M97.3 88.8h1.15M94.2 87.8h1.15M78.1 92.8h1.15M84.7 87.9h1.15M97.0 88.9h1.15M87.3 90.5h1.15M86.9 91.6h1.15M105.3 84.8h1.15M94.7 87.8h1.15M85.9 92.2h1.15M101.6 87.4h1.15M88.9 90.1h1.15M97.7 84.3h1.15M92.2 88.7h1.15M82.2 92.6h1.15M95.0 89.4h1.15M106.9 85.4h1.15M86.4 89.0h1.15M89.8 88.2h1.15M98.6 86.5h1.15M81.0 91.5h1.15M87.9 91.6h1.15M90.4 90.3h1.15M78.0 91.0h1.15M77.6 92.8h1.15M101.9 87.5h1.15M100.0 87.3h1.15M83.5 89.2h1.15M101.4 87.8h1.15M78.2 92.6h1.15M89.0 87.4h1.15M97.3 88.1h1.15M88.7 85.9h1.15M87.3 89.2h1.15M83.3 91.3h1.15M92.7 86.2h1.15M89.5 88.7h1.15M97.2 89.0h1.15M106.2 85.0h1.15M107.4 85.6h1.15M96.7 89.4h1.15M97.9 88.2h1.15M85.7 87.6h1.15M85.0 89.2h1.15M100.3 86.5h1.15M98.4 88.2h1.15M78.7 91.9h1.15M82.4 93.1h1.15M78.3 92.3h1.15M89.3 88.1h1.15M77.1 94.3h1.15M88.8 90.2h1.15M98.5 88.0h1.15M79.2 93.2h1.15M96.7 85.3h1.15M93.3 90.0h1.15M89.5 89.4h1.15M77.6 91.5h1.15M96.0 89.6h1.15M106.7 86.4h1.15M105.3 86.4h1.15M89.2 90.0h1.15M79.8 93.0h1.15M90.9 85.7h1.15M97.5 87.8h1.15M82.9 88.8h1.15M84.6 89.7h1.15M86.0 91.9h1.15M81.5 85.9h1.15M96.5 86.6h1.15M92.4 87.1h1.15M83.7 90.6h1.15M77.7 91.7h1.15M83.7 91.6h1.15M82.0 91.1h1.15M96.9 87.3h1.15M84.9 90.8h1.15M96.6 86.1h1.15M103.6 84.3h1.15M99.2 86.6h1.15M103.2 86.9h1.15M89.5 88.9h1.15M85.8 89.3h1.15M85.6 90.3h1.15M81.7 90.8h1.15M94.9 89.3h1.15M85.0 91.7h1.15M100.9 86.9h1.15M78.2 88.9h1.15M87.4 87.6h1.15M95.9 89.5h1.15M101.2 85.9h1.15M90.0 85.6h1.15M88.3 89.1h1.15M83.0 91.0h1.15M90.3 86.6h1.15M79.5 90.2h1.15M99.4 87.1h1.15M94.5 84.1h1.15M98.7 84.9h1.15M78.6 90.2h1.15M95.7 88.2h1.15M98.2 87.8h1.15M88.8 90.7h1.15M80.0 92.0h1.15M87.7 86.7h1.15M103.7 87.5h1.15M88.7 88.2h1.15M82.7 91.8h1.15M92.5 88.5h1.15M80.7 89.3h1.15M107.0 86.5h1.15M85.8 92.2h1.15M102.6 85.6h1.15M97.9 88.3h1.15M80.9 92.8h1.15M85.3 88.8h1.15M102.0 86.4h1.15M100.5 87.6h1.15M95.5 89.2h1.15M103.1 85.1h1.15M82.3 90.2h1.15M83.3 91.6h1.15M98.0 89.1h1.15M95.9 87.9h1.15M106.6 79.9h1.15M107.5 84.5h1.15M100.1 86.1h1.15M79.4 92.7h1.15M93.3 88.8h1.15M90.4 87.8h1.15M94.1 86.9h1.15M105.6 85.5h1.15M94.1 85.8h1.15M99.8 84.7h1.15M88.3 88.3h1.15M89.1 90.2h1.15M97.6 88.3h1.15M105.3 87.2h1.15M107.5 84.6h1.15M97.4 86.9h1.15M91.4 89.7h1.15M83.2 91.8h1.15M91.7 90.4h1.15M95.8 87.8h1.15M85.7 91.7h1.15M84.0 91.7h1.15M90.1 90.0h1.15M92.2 85.4h1.15M78.9 92.8h1.15M86.5 87.9h1.15M86.2 92.1h1.15M100.4 88.1h1.15M87.0 91.9h1.15M92.6 89.2h1.15M99.8 82.5h1.15M77.5 92.3h1.15M92.3 87.1h1.15M90.1 90.8h1.15M105.6 84.7h1.15M106.7 85.2h1.15M93.0 86.5h1.15M106.7 86.7h1.15M97.1 87.7h1.15M78.1 89.2h1.15" stroke="#1414f0" stroke-width="1.15" fill="none"/>
<path d="M97.0 102.4h1.15M97.2 102.1h1.15M98.0 106.4h1.15M85.0 103.9h1.15M92.5 104.0h1.15M106.7 101.7h1.15M93.8 104.9h1.15M80.9 109.3h1.15M98.8 103.4h1.15M100.8 113.9h1.15M89.7 109.1h1.15M106.0 101.0h1.15M98.0 99.1h1.15M96.7 101.5h1.15M98.7 102.6h1.15M103.0 108.6h1.15M105.9 103.7h1.15M93.0 102.9h1.15M91.0 103.7h1.15M88.5 103.1h1.15M100.2 107.7h1.15M97.7 98.3h1.15M104.7 111.0h1.15M100.6 102.6h1.15M99.2 103.7h1.15M84.9 108.3h1.15M100.6 106.0h1.15M99.5 104.2h1.15M87.4 109.7h1.15M93.0 102.9h1.15M98.2 97.9h1.15M93.6 106.3h1.15M93.5 95.2h1.15M96.1 107.4h1.15M86.6 112.7h1.15M96.2 104.3h1.15M98.0 107.9h1.15M96.7 103.9h1.15M97.3 99.6h1.15M94.0 101.3h1.15M95.8 103.8h1.15M101.7 103.8h1.15M93.3 111.9h1.15M88.6 104.1h1.15M92.7 107.8h1.15M95.1 108.7h1.15M90.3 105.2h1.15M98.7 104.2h1.15M97.0 98.2h1.15M98.3 103.1h1.15M107.2 100.5h1.15M85.5 111.7h1.15M107.5 103.3h1.15M82.7 101.4h1.15M97.0 105.7h1.15M101.4 108.6h1.15M99.1 103.5h1.15M103.8 110.1h1.15M97.4 102.7h1.15M100.1 104.7h1.15M94.9 104.5h1.15M102.5 109.8h1.15M101.6 105.7h1.15M92.9 98.2h1.15M93.7 106.0h1.15M89.5 105.7h1.15M89.9 105.1h1.15M77.6 105.7h1.15M99.7 104.2h1.15M99.5 100.4h1.15M95.6 102.6h1.15M95.5 104.1h1.15M96.1 101.3h1.15M92.2 97.4h1.15M93.4 94.7h1.15M97.2 111.4h1.15M91.9 102.4h1.15M95.6 105.7h1.15M99.8 102.1h1.15M93.1 105.7h1.15M97.7 99.5h1.15M98.3 110.6h1.15M83.8 102.5h1.15M93.1 100.2h1.15M86.5 110.4h1.15M96.3 105.7h1.15M101.3 99.6h1.15M103.0 101.7h1.15M101.9 104.1h1.15M103.9 106.3h1.15M94.9 107.9h1.15M91.1 106.6h1.15M86.3 103.5h1.15M107.4 107.5h1.15M88.9 109.2h1.15M93.1 105.6h1.15M92.8 106.5h1.15M91.8 109.4h1.15M93.2 101.8h1.15M92.5 99.0h1.15M99.5 108.3h1.15M104.0 106.0h1.15M94.1 109.1h1.15M104.4 101.8h1.15M87.1 102.3h1.15M95.1 108.3h1.15M102.1 105.6h1.15M102.5 103.2h1.15M94.5 95.9h1.15M91.9 103.3h1.15M102.7 103.8h1.15M92.9 104.7h1.15M92.9 96.8h1.15M90.9 103.6h1.15M93.9 101.7h1.15M92.2 106.4h1.15M85.7 103.1h1.15M91.4 103.3h1.15M95.4 106.7h1.15M78.3 103.4h1.15M87.8 97.8h1.15M96.2 104.5h1.15M90.5 103.3h1.15M89.8 109.4h1.15M106.1 108.4h1.15M87.6 106.7h1.15M97.2 104.4h1.15M94.2 103.1h1.15M91.3 101.6h1.15M90.0 113.1h1.15M98.6 101.6h1.15M90.9 106.2h1.15M106.7 110.5h1.15M89.0 99.2h1.15M91.1 105.3h1.15M91.7 102.0h1.15M99.4 103.5h1.15M91.3 111.3h1.15M86.9 105.1h1.15M94.0 101.5h1.15M92.4 104.4h1.15M93.4 98.9h1.15M96.5 107.1h1.15M85.8 97.4h1.15M85.1 108.6h1.15M94.4 101.4h1.15M96.0 103.8h1.15M94.1 108.5h1.15M100.6 102.7h1.15M103.0 107.9h1.15M93.4 102.4h1.15M92.6 100.6h1.15M81.4 108.4h1.15M103.8 95.0h1.15M93.1 100.5h1.15M92.5 105.6h1.15M102.1 106.0h1.15M99.6 108.3h1.15M96.8 108.4h1.15M100.8 101.5h1.15M99.9 102.6h1.15M101.7 108.5h1.15M86.2 106.4h1.15M88.9 102.1h1.15M92.0 106.1h1.15M99.4 103.9h1.15M81.7 106.0h1.15M102.5 94.2h1.15M91.2 101.9h1.15M96.6 103.0h1.15M101.6 102.6h1.15M89.3 96.7h1.15M83.0 103.2h1.15M99.1 100.2h1.15M99.2 102.6h1.15M100.6 109.0h1.15M98.0 100.6h1.15M101.8 104.8h1.15M95.4 105.5h1.15M99.5 108.5h1.15M86.6 108.7h1.15M96.7 109.2h1.15M94.4 107.2h1.15M101.3 109.1h1.15M93.1 109.6h1.15M91.9 99.6h1.15M89.8 99.2h1.15M104.2 107.8h1.15M83.1 103.3h1.15M96.7 104.9h1.15M91.6 101.5h1.15M100.5 103.8h1.15M89.3 105.1h1.15M90.8 103.1h1.15M100.0 103.3h1.15M88.7 110.0h1.15M96.4 103.5h1.15M101.3 103.4h1.15M88.8 109.9h1.15M95.8 104.9h1.15M96.2 103.9h1.15M89.5 100.3h1.15M84.3 107.5h1.15M95.6 103.3h1.15M85.5 99.0h1.15M92.4 105.3h1.15M93.9 103.8h1.15M89.3 107.1h1.15M96.9 109.0h1.15M98.4 100.3h1.15M90.9 103.4h1.15M102.3 104.3h1.15M95.0 109.4h1.15M100.8 106.5h1.15M83.7 103.4h1.15M103.3 111.1h1.15M100.2 96.7h1.15M97.4 103.4h1.15M89.4 108.0h1.15M90.3 108.9h1.15M98.0 102.2h1.15M89.6 111.1h1.15M93.7 105.4h1.15M94.9 100.9h1.15M92.9 103.4h1.15M84.1 101.3h1.15M89.2 105.3h1.15M96.0 99.5h1.15M91.0 104.4h1.15M89.7 97.6h1.15M100.6 104.1h1.15M92.9 102.3h1.15M97.2 102.5h1.15M95.3 108.3h1.15M104.1 110.4h1.15M88.5 103.9h1.15M86.7 100.0h1.15M86.0 102.6h1.15M92.1 100.4h1.15M94.4 106.0h1.15M91.7 100.9h1.15M100.0 103.2h1.15M96.4 100.1h1.15M98.6 107.2h1.15M88.2 100.0h1.15M92.3 106.3h1.15M99.8 108.3h1.15M89.0 96.7h1.15M89.2 104.3h1.15M97.8 98.9h1.15M94.6 102.7h1.15M97.9 100.7h1.15M93.8 102.8h1.15M96.6 104.1h1.15M97.5 104.8h1.15M100.3 100.4h1.15M86.1 106.5h1.15M91.8 101.0h1.15M102.8 95.3h1.15M89.9 106.0h1.15M84.1 107.4h1.15M92.0 104.1h1.15M104.5 104.4h1.15M101.6 109.3h1.15M91.4 102.5h1.15M103.8 106.4h1.15M104.8 113.1h1.15M89.2 103.8h1.15M98.0 99.1h1.15M88.8 98.4h1.15M93.1 104.4h1.15M105.8 113.9h1.15M94.0 103.5h1.15M96.8 105.5h1.15M94.6 109.6h1.15M102.6 101.9h1.15M80.3 104.1h1.15M104.5 110.0h1.15M92.0 101.9h1.15M95.4 101.7h1.15M89.0 101.8h1.15M106.9 109.7h1.15M97.1 107.5h1.15M91.6 101.8h1.15M99.5 105.9h1.15M86.6 108.9h1.15M80.9 101.7h1.15M102.8 109.5h1.15M94.1 105.7h1.15M95.6 100.0h1.15M93.1 102.7h1.15M101.4 103.2h1.15M95.8 104.0h1.15M93.0 108.2h1.15M92.0 106.0h1.15M103.1 103.5h1.15M102.3 102.3h1.15M97.1 98.8h1.15M101.5 108.6h1.15M94.8 98.0h1.15M93.0 104.1h1.15M103.2 95.3h1.15M96.8 104.5h1.15M85.3 106.7h1.15M83.6 106.3h1.15M101.4 100.6h1.15M88.0 100.4h1.15M92.0 105.9h1.15M99.3 102.5h1.15M98.6 100.0h1.15M94.2 97.4h1.15M104.2 99.2h1.15M89.2 110.4h1.15M101.3 100.1h1.15M101.0 114.5h1.15M96.9 100.5h1.15M91.1 110.7h1.15M91.6 101.0h1.15M89.7 97.6h1.15M90.4 102.2h1.15M98.0 98.4h1.15M99.4 101.7h1.15M104.3 101.9h1.15M95.0 96.8h1.15M83.1 106.1h1.15M93.1 103.3h1.15M95.2 106.6h1.15M99.0 106.9h1.15M78.3 98.1h1.15M83.8 102.1h1.15M97.9 100.9h1.15M91.9 98.1h1.15M88.0 111.7h1.15M95.7 103.7h1.15M98.9 101.1h1.15M97.2 103.7h1.15M99.3 100.3h1.15M93.7 108.4h1.15M98.5 100.6h1.15M82.0 106.2h1.15M97.5 101.8h1.15M88.4 103.8h1.15M96.6 106.5h1.15M98.0 105.6h1.15M90.6 105.4h1.15M94.6 102.4h1.15M96.1 113.8h1.15M91.3 103.0h1.15M95.5 103.4h1.15" stroke="#06063a" stroke-width="1.15" fill="none"/>
<path d="M123.7 83.5h1.7M120.5 91.1h1.7M126.8 91.8h1.7M123.0 98.1h1.7M122.4 101.3h1.7M125.0 104.4h1.7M133.8 101.8h1.7M137.0 107.0h1.7M138.3 108.2h1.7M157.3 94.3h1.7" stroke="#2828c8" stroke-width="1.7" fill="none"/>
<path d="M110.3 82.8h1.7M111.6 89.8h1.7M113.5 92.4h1.7M115.4 87.3h1.7M116.7 85.4h1.7M114.8 94.8h1.7M112.2 98.1h1.7M114.2 100.0h1.7M116.7 101.3h1.7M113.5 106.8h1.7M117.3 108.2h1.7M120.5 98.1h1.7M125.6 99.4h1.7M130.6 97.4h1.7M131.3 100.0h1.7M119.2 94.3h1.7M117.3 96.8h1.7M110.0 93.8h1.7M110.5 101.8h1.7M111.0 86.8h1.7M112.0 104.8h1.7M142.7 101.8h1.7M145.2 101.8h1.7M147.8 101.8h1.7M151.0 101.8h1.7M112.0 86.7h1.7M112.8 95.9h1.7M116.7 96.7h1.7M116.6 109.7h1.7M109.9 85.8h1.7M115.9 91.1h1.7M113.2 101.2h1.7M112.9 107.1h1.7M109.8 90.2h1.7M110.1 90.1h1.7M117.3 83.7h1.7M113.8 89.0h1.7M115.4 87.4h1.7M115.4 97.4h1.7M117.1 85.1h1.7M113.7 108.3h1.7M113.7 94.8h1.7M116.8 106.1h1.7M115.7 94.2h1.7M112.2 90.7h1.7M117.2 85.0h1.7M110.7 100.6h1.7" stroke="#101010" stroke-width="1.7" fill="none"/>
<rect x="75.45" y="15.6" width="123.45" height="102.70" fill="none" stroke="#000" stroke-width="1.8"/>
<line x1="65.85" y1="118.30" x2="75.45" y2="118.30" stroke="#000" stroke-width="1.3"/>
<line x1="69.65" y1="114.38" x2="75.45" y2="114.38" stroke="#000" stroke-width="1.3"/>
<line x1="69.65" y1="110.46" x2="75.45" y2="110.46" stroke="#000" stroke-width="1.3"/>
<line x1="69.65" y1="106.54" x2="75.45" y2="106.54" stroke="#000" stroke-width="1.3"/>
<line x1="69.65" y1="102.62" x2="75.45" y2="102.62" stroke="#000" stroke-width="1.3"/>
<line x1="65.85" y1="98.70" x2="75.45" y2="98.70" stroke="#000" stroke-width="1.3"/>
<line x1="69.65" y1="94.78" x2="75.45" y2="94.78" stroke="#000" stroke-width="1.3"/>
<line x1="69.65" y1="90.86" x2="75.45" y2="90.86" stroke="#000" stroke-width="1.3"/>
<line x1="69.65" y1="86.94" x2="75.45" y2="86.94" stroke="#000" stroke-width="1.3"/>
<line x1="69.65" y1="83.02" x2="75.45" y2="83.02" stroke="#000" stroke-width="1.3"/>
<line x1="65.85" y1="79.10" x2="75.45" y2="79.10" stroke="#000" stroke-width="1.3"/>
<line x1="69.65" y1="75.18" x2="75.45" y2="75.18" stroke="#000" stroke-width="1.3"/>
<line x1="69.65" y1="71.26" x2="75.45" y2="71.26" stroke="#000" stroke-width="1.3"/>
<line x1="69.65" y1="67.34" x2="75.45" y2="67.34" stroke="#000" stroke-width="1.3"/>
<line x1="69.65" y1="63.42" x2="75.45" y2="63.42" stroke="#000" stroke-width="1.3"/>
<line x1="65.85" y1="59.50" x2="75.45" y2="59.50" stroke="#000" stroke-width="1.3"/>
<line x1="69.65" y1="55.58" x2="75.45" y2="55.58" stroke="#000" stroke-width="1.3"/>
<line x1="69.65" y1="51.66" x2="75.45" y2="51.66" stroke="#000" stroke-width="1.3"/>
<line x1="69.65" y1="47.74" x2="75.45" y2="47.74" stroke="#000" stroke-width="1.3"/>
<line x1="69.65" y1="43.82" x2="75.45" y2="43.82" stroke="#000" stroke-width="1.3"/>
<line x1="65.85" y1="39.90" x2="75.45" y2="39.90" stroke="#000" stroke-width="1.3"/>
<line x1="69.65" y1="35.98" x2="75.45" y2="35.98" stroke="#000" stroke-width="1.3"/>
<line x1="69.65" y1="32.06" x2="75.45" y2="32.06" stroke="#000" stroke-width="1.3"/>
<line x1="69.65" y1="28.14" x2="75.45" y2="28.14" stroke="#000" stroke-width="1.3"/>
<line x1="69.65" y1="24.22" x2="75.45" y2="24.22" stroke="#000" stroke-width="1.3"/>
<line x1="65.85" y1="20.30" x2="75.45" y2="20.30" stroke="#000" stroke-width="1.3"/>
<line x1="69.65" y1="16.38" x2="75.45" y2="16.38" stroke="#000" stroke-width="1.3"/>
<text transform="translate(65.45,98.70076335877863) rotate(-90)" x="0" y="0" font-size="10.3" font-weight="bold" text-anchor="middle" fill="#000" textLength="11" lengthAdjust="spacingAndGlyphs" stroke="#000" stroke-width="0.35">50</text>
<text transform="translate(65.45,79.10152671755725) rotate(-90)" x="0" y="0" font-size="10.3" font-weight="bold" text-anchor="middle" fill="#000" textLength="16.4" lengthAdjust="spacingAndGlyphs" stroke="#000" stroke-width="0.35">100</text>
<text transform="translate(65.45,59.502290076335875) rotate(-90)" x="0" y="0" font-size="10.3" font-weight="bold" text-anchor="middle" fill="#000" textLength="16.4" lengthAdjust="spacingAndGlyphs" stroke="#000" stroke-width="0.35">150</text>
<text transform="translate(65.45,40.7030534351145) rotate(-90)" x="0" y="0" font-size="10.3" font-weight="bold" text-anchor="middle" fill="#000" textLength="16.4" lengthAdjust="spacingAndGlyphs" stroke="#000" stroke-width="0.35">200</text>
<text transform="translate(65.45,21.103816793893134) rotate(-90)" x="0" y="0" font-size="10.3" font-weight="bold" text-anchor="middle" fill="#000" textLength="16.4" lengthAdjust="spacingAndGlyphs" stroke="#000" stroke-width="0.35">250</text>
<text transform="translate(51.3,87.8) rotate(-90)" x="0" y="0" font-size="12.0" font-weight="bold" text-anchor="start" fill="#000" textLength="37.49" lengthAdjust="spacingAndGlyphs">SSC-A</text>
<text transform="translate(50.099999999999994,15) rotate(-90)" x="0" y="0" font-size="10.0" font-weight="bold" text-anchor="end" fill="#000" textLength="46.59" lengthAdjust="spacingAndGlyphs">(x 1,000)</text>
<line x1="80.18" y1="118.30" x2="80.18" y2="124.90" stroke="#000" stroke-width="1.3"/>
<line x1="83.18" y1="118.30" x2="83.18" y2="124.90" stroke="#000" stroke-width="1.3"/>
<line x1="85.63" y1="118.30" x2="85.63" y2="124.90" stroke="#000" stroke-width="1.3"/>
<line x1="87.70" y1="118.30" x2="87.70" y2="124.90" stroke="#000" stroke-width="1.3"/>
<line x1="89.50" y1="118.30" x2="89.50" y2="124.90" stroke="#000" stroke-width="1.3"/>
<line x1="91.08" y1="118.30" x2="91.08" y2="124.90" stroke="#000" stroke-width="1.3"/>
<line x1="92.50" y1="118.30" x2="92.50" y2="129.60" stroke="#000" stroke-width="1.4"/>
<line x1="101.82" y1="118.30" x2="101.82" y2="124.90" stroke="#000" stroke-width="1.3"/>
<line x1="107.27" y1="118.30" x2="107.27" y2="124.90" stroke="#000" stroke-width="1.3"/>
<line x1="111.14" y1="118.30" x2="111.14" y2="124.90" stroke="#000" stroke-width="1.3"/>
<line x1="114.14" y1="118.30" x2="114.14" y2="124.90" stroke="#000" stroke-width="1.3"/>
<line x1="116.60" y1="118.30" x2="116.60" y2="124.90" stroke="#000" stroke-width="1.3"/>
<line x1="118.67" y1="118.30" x2="118.67" y2="124.90" stroke="#000" stroke-width="1.3"/>
<line x1="120.47" y1="118.30" x2="120.47" y2="124.90" stroke="#000" stroke-width="1.3"/>
<line x1="122.05" y1="118.30" x2="122.05" y2="124.90" stroke="#000" stroke-width="1.3"/>
<line x1="123.47" y1="118.30" x2="123.47" y2="129.60" stroke="#000" stroke-width="1.4"/>
<line x1="132.79" y1="118.30" x2="132.79" y2="124.90" stroke="#000" stroke-width="1.3"/>
<line x1="138.24" y1="118.30" x2="138.24" y2="124.90" stroke="#000" stroke-width="1.3"/>
<line x1="142.11" y1="118.30" x2="142.11" y2="124.90" stroke="#000" stroke-width="1.3"/>
<line x1="145.11" y1="118.30" x2="145.11" y2="124.90" stroke="#000" stroke-width="1.3"/>
<line x1="147.56" y1="118.30" x2="147.56" y2="124.90" stroke="#000" stroke-width="1.3"/>
<line x1="149.64" y1="118.30" x2="149.64" y2="124.90" stroke="#000" stroke-width="1.3"/>
<line x1="151.43" y1="118.30" x2="151.43" y2="124.90" stroke="#000" stroke-width="1.3"/>
<line x1="153.02" y1="118.30" x2="153.02" y2="124.90" stroke="#000" stroke-width="1.3"/>
<line x1="154.43" y1="118.30" x2="154.43" y2="129.60" stroke="#000" stroke-width="1.4"/>
<line x1="163.76" y1="118.30" x2="163.76" y2="124.90" stroke="#000" stroke-width="1.3"/>
<line x1="169.21" y1="118.30" x2="169.21" y2="124.90" stroke="#000" stroke-width="1.3"/>
<line x1="173.08" y1="118.30" x2="173.08" y2="124.90" stroke="#000" stroke-width="1.3"/>
<line x1="176.08" y1="118.30" x2="176.08" y2="124.90" stroke="#000" stroke-width="1.3"/>
<line x1="178.53" y1="118.30" x2="178.53" y2="124.90" stroke="#000" stroke-width="1.3"/>
<line x1="180.60" y1="118.30" x2="180.60" y2="124.90" stroke="#000" stroke-width="1.3"/>
<line x1="182.40" y1="118.30" x2="182.40" y2="124.90" stroke="#000" stroke-width="1.3"/>
<line x1="183.98" y1="118.30" x2="183.98" y2="124.90" stroke="#000" stroke-width="1.3"/>
<line x1="185.40" y1="118.30" x2="185.40" y2="129.60" stroke="#000" stroke-width="1.4"/>
<line x1="194.72" y1="118.30" x2="194.72" y2="124.90" stroke="#000" stroke-width="1.3"/>
<text x="94.4" y="140.9" font-size="10.4" font-weight="bold" text-anchor="end" fill="#000" textLength="9.0" lengthAdjust="spacingAndGlyphs" stroke="#000" stroke-width="0.3">10</text>
<text x="94.9" y="134.7" font-size="8.4" font-weight="bold" text-anchor="start" fill="#000" textLength="4.8" lengthAdjust="spacingAndGlyphs">2</text>
<text x="125.80000000000001" y="140.9" font-size="10.4" font-weight="bold" text-anchor="end" fill="#000" textLength="9.0" lengthAdjust="spacingAndGlyphs" stroke="#000" stroke-width="0.3">10</text>
<text x="126.30000000000001" y="134.7" font-size="8.4" font-weight="bold" text-anchor="start" fill="#000" textLength="4.8" lengthAdjust="spacingAndGlyphs">3</text>
<text x="156.4" y="140.9" font-size="10.4" font-weight="bold" text-anchor="end" fill="#000" textLength="9.0" lengthAdjust="spacingAndGlyphs" stroke="#000" stroke-width="0.3">10</text>
<text x="156.9" y="134.7" font-size="8.4" font-weight="bold" text-anchor="start" fill="#000" textLength="4.8" lengthAdjust="spacingAndGlyphs">4</text>
<text x="187.3" y="140.9" font-size="10.4" font-weight="bold" text-anchor="end" fill="#000" textLength="9.0" lengthAdjust="spacingAndGlyphs" stroke="#000" stroke-width="0.3">10</text>
<text x="187.8" y="134.7" font-size="8.4" font-weight="bold" text-anchor="start" fill="#000" textLength="4.8" lengthAdjust="spacingAndGlyphs">5</text>
<text x="91.7" y="12.2" font-size="12.8" font-weight="normal" text-anchor="start" fill="#000" textLength="50.4" lengthAdjust="spacingAndGlyphs" stroke="#000" stroke-width="0.45">CB TIL-1</text>
<text x="105.3" y="158.2" font-size="12.4" font-weight="normal" text-anchor="start" fill="#000" textLength="64.5" lengthAdjust="spacingAndGlyphs" stroke="#000" stroke-width="0.55">IFN-y PE-A</text>
<rect x="108.4" y="72.3" width="58.90" height="44.60" fill="none" stroke="#000" stroke-width="1.6"/>
<text x="134.6" y="98.7" font-size="16.2" font-weight="normal" text-anchor="start" fill="#000" textLength="16.3" lengthAdjust="spacingAndGlyphs" stroke="#000" stroke-width="0.6">P5</text>
<path d="M286.4 110.9h1.15M258.7 95.7h1.15M282.7 105.9h1.15M277.6 96.5h1.15M275.7 103.5h1.15M274.9 93.7h1.15M270.3 99.5h1.15M279.3 112.1h1.15M286.2 100.9h1.15M270.7 96.9h1.15M258.1 94.8h1.15M271.3 97.8h1.15M268.7 110.0h1.15M273.2 102.7h1.15M264.3 93.3h1.15M267.0 94.9h1.15M272.7 112.1h1.15M277.8 93.6h1.15M284.5 107.2h1.15M279.6 110.0h1.15M280.5 107.3h1.15M267.9 111.8h1.15M286.6 91.4h1.15M280.2 105.6h1.15M271.2 102.3h1.15M272.1 110.6h1.15M272.4 108.6h1.15M267.9 109.8h1.15M284.7 99.1h1.15M274.5 110.4h1.15M279.3 100.4h1.15M263.8 99.2h1.15M278.5 93.1h1.15M285.0 94.3h1.15M285.1 95.3h1.15M286.5 104.9h1.15M272.5 101.9h1.15M277.1 102.9h1.15M266.6 96.4h1.15M272.8 110.8h1.15M276.2 91.6h1.15M282.3 105.7h1.15M285.0 92.4h1.15M279.9 90.4h1.15M277.1 95.8h1.15M264.0 109.8h1.15M260.3 103.4h1.15M283.3 94.0h1.15M263.5 109.9h1.15M270.0 106.3h1.15M258.0 100.8h1.15M262.3 106.0h1.15M259.6 111.3h1.15M257.8 107.4h1.15M257.7 99.0h1.15M282.1 92.2h1.15M262.7 106.3h1.15M268.9 92.6h1.15M287.5 90.9h1.15M258.1 100.5h1.15M275.9 106.5h1.15M260.5 99.9h1.15M257.9 102.3h1.15M280.6 106.1h1.15M284.8 106.2h1.15M283.6 105.1h1.15M271.6 95.8h1.15M277.4 96.8h1.15M260.1 102.0h1.15M283.9 91.1h1.15M275.0 98.8h1.15M272.9 93.8h1.15M286.6 93.8h1.15M275.7 99.3h1.15M257.6 104.3h1.15M261.3 94.6h1.15M258.0 97.2h1.15M260.0 105.5h1.15M272.7 111.8h1.15M285.8 112.0h1.15M264.2 101.4h1.15M264.7 104.2h1.15M276.2 107.7h1.15M278.9 95.1h1.15M270.0 102.3h1.15M269.6 93.8h1.15M279.3 94.7h1.15M260.1 97.2h1.15M264.1 97.0h1.15M273.0 100.7h1.15M266.5 105.0h1.15M263.5 110.4h1.15M286.7 105.4h1.15M270.4 102.0h1.15M274.9 91.3h1.15M269.9 102.3h1.15M262.6 95.0h1.15M281.7 97.2h1.15M273.0 110.5h1.15M275.8 96.4h1.15M287.3 96.5h1.15M257.6 106.6h1.15M260.1 99.4h1.15M282.9 104.3h1.15M257.5 102.5h1.15M269.6 101.5h1.15M263.4 104.3h1.15M259.3 99.2h1.15M268.5 110.9h1.15M259.4 107.7h1.15M262.9 104.0h1.15M269.1 101.2h1.15M280.2 98.1h1.15M260.7 95.9h1.15M259.5 109.4h1.15M276.7 111.3h1.15M278.3 89.9h1.15M277.3 107.2h1.15M279.3 100.6h1.15M268.0 101.2h1.15M281.6 94.9h1.15M273.2 100.9h1.15M286.4 107.3h1.15M285.7 108.1h1.15M266.1 96.9h1.15M272.1 96.4h1.15M270.2 105.5h1.15M285.3 102.0h1.15M282.2 90.7h1.15M268.0 112.1h1.15M261.5 101.3h1.15M259.1 95.6h1.15M284.6 111.9h1.15M277.0 92.6h1.15M266.1 96.9h1.15M277.7 105.0h1.15M270.5 102.2h1.15M260.5 103.7h1.15M286.3 106.1h1.15M260.0 103.3h1.15M279.0 95.1h1.15M284.6 99.1h1.15M278.7 98.5h1.15M287.7 106.7h1.15M274.7 93.4h1.15M270.6 91.9h1.15M275.3 109.6h1.15M262.6 102.9h1.15M271.9 99.5h1.15M278.9 110.7h1.15M278.7 100.1h1.15M286.6 95.6h1.15M280.0 104.3h1.15M280.5 108.7h1.15M263.9 104.9h1.15M269.4 105.3h1.15M287.1 103.1h1.15M257.4 102.7h1.15M278.9 109.5h1.15M277.0 108.0h1.15M257.5 111.2h1.15M279.5 103.1h1.15M284.9 109.4h1.15M260.1 108.8h1.15M280.6 93.5h1.15M279.9 102.6h1.15M262.9 108.4h1.15M261.2 105.0h1.15M270.4 96.6h1.15M274.4 100.5h1.15M263.3 111.5h1.15M259.2 94.1h1.15M272.0 108.7h1.15M277.3 106.6h1.15M271.9 105.3h1.15M267.3 97.4h1.15M272.5 91.4h1.15M259.5 107.7h1.15M262.3 107.5h1.15M281.2 98.2h1.15M277.8 107.4h1.15M283.6 91.3h1.15M262.0 100.5h1.15M271.3 97.3h1.15M257.3 104.4h1.15M286.8 96.4h1.15M273.6 98.8h1.15M270.6 109.5h1.15M266.5 105.2h1.15M271.9 102.4h1.15M285.2 89.6h1.15M282.4 95.6h1.15M276.9 107.6h1.15M277.1 98.5h1.15M282.9 90.5h1.15M276.5 98.6h1.15M273.3 109.0h1.15M281.6 103.4h1.15M266.5 96.9h1.15M271.1 96.0h1.15M265.5 111.3h1.15M260.4 108.8h1.15M268.7 99.2h1.15M266.8 93.7h1.15M271.1 94.6h1.15M270.6 97.4h1.15M284.6 110.3h1.15M270.6 104.6h1.15M285.6 95.6h1.15M260.1 98.2h1.15M262.8 106.1h1.15M268.5 99.0h1.15M281.5 94.1h1.15M281.9 103.5h1.15M269.3 108.5h1.15M267.5 109.7h1.15M285.5 100.0h1.15M278.3 111.0h1.15M279.9 106.4h1.15M283.8 110.6h1.15M280.2 111.7h1.15M266.0 104.7h1.15M277.7 97.9h1.15M269.2 95.2h1.15M286.5 96.2h1.15M271.7 109.9h1.15M262.7 111.4h1.15M260.9 94.1h1.15M267.8 99.2h1.15M285.3 109.3h1.15M280.5 99.0h1.15M273.7 95.6h1.15M282.7 97.6h1.15M265.8 105.0h1.15M261.6 99.4h1.15M285.5 90.0h1.15M261.4 97.3h1.15M264.7 100.9h1.15M264.7 99.4h1.15M264.6 97.4h1.15M275.8 97.5h1.15M268.5 107.4h1.15M258.9 96.7h1.15M283.2 98.5h1.15M281.0 91.8h1.15M273.1 108.8h1.15M267.4 107.5h1.15M275.8 98.7h1.15M287.7 96.9h1.15M271.6 104.1h1.15M266.8 108.9h1.15M275.4 103.1h1.15M273.6 111.8h1.15M287.5 108.2h1.15M271.0 99.8h1.15M273.2 91.6h1.15M260.3 112.1h1.15M260.9 111.0h1.15M277.9 110.2h1.15M259.4 99.6h1.15M281.6 88.8h1.15M260.3 100.2h1.15M262.3 96.1h1.15M277.6 91.6h1.15M286.9 103.4h1.15M258.5 110.4h1.15M264.4 102.1h1.15M274.2 93.4h1.15M272.5 92.1h1.15M263.1 110.6h1.15M282.3 100.8h1.15M278.0 109.3h1.15M261.3 102.7h1.15M261.1 95.8h1.15M260.3 97.7h1.15M258.6 98.0h1.15M268.7 104.5h1.15M283.4 109.9h1.15M279.1 100.8h1.15M285.2 91.7h1.15M260.2 108.8h1.15M276.3 94.6h1.15M268.6 97.8h1.15M270.3 100.3h1.15M269.3 108.0h1.15M282.0 101.8h1.15M271.6 97.0h1.15M280.6 111.9h1.15M264.1 106.4h1.15M278.5 104.4h1.15M257.9 104.2h1.15M263.2 96.8h1.15M274.9 104.4h1.15M276.3 106.4h1.15M278.6 100.2h1.15M258.5 108.1h1.15M282.4 108.3h1.15M275.4 90.9h1.15M263.0 95.2h1.15M276.6 102.0h1.15M262.7 111.3h1.15M287.1 109.7h1.15M271.3 97.2h1.15M263.4 108.8h1.15M278.6 95.7h1.15M284.8 101.7h1.15M269.7 100.1h1.15M279.2 99.6h1.15M277.3 92.4h1.15M278.6 95.5h1.15M285.0 93.0h1.15M267.3 102.9h1.15M269.1 102.4h1.15M285.5 92.6h1.15M280.8 105.0h1.15M281.2 99.2h1.15M271.0 98.4h1.15M271.6 96.4h1.15M262.9 102.2h1.15M262.9 102.1h1.15M274.7 97.1h1.15M262.2 104.7h1.15M283.5 93.5h1.15M276.0 104.6h1.15M284.3 104.5h1.15M266.5 96.4h1.15M282.8 95.4h1.15M257.4 109.9h1.15M263.1 99.1h1.15M266.8 97.3h1.15M279.3 97.0h1.15M270.6 100.0h1.15M282.7 88.8h1.15M274.9 93.1h1.15M261.6 104.8h1.15M268.6 93.1h1.15M275.1 110.3h1.15M276.9 100.9h1.15M281.7 110.2h1.15M261.7 99.0h1.15M286.7 110.3h1.15M263.2 106.5h1.15M283.9 102.3h1.15M278.6 101.3h1.15M264.2 96.9h1.15M258.9 106.1h1.15M261.3 105.1h1.15M269.1 100.6h1.15M286.9 97.0h1.15M271.6 99.1h1.15M263.6 97.3h1.15M273.4 108.2h1.15M259.8 111.2h1.15M277.8 90.7h1.15M278.8 98.5h1.15M272.9 92.9h1.15M272.7 101.9h1.15M281.1 102.3h1.15M278.7 106.1h1.15M263.8 93.4h1.15M271.7 93.7h1.15M261.4 99.5h1.15M273.6 103.9h1.15M276.9 110.9h1.15M260.1 104.1h1.15M259.7 106.2h1.15M270.5 94.2h1.15M266.6 105.4h1.15M271.6 111.0h1.15M267.9 98.8h1.15M285.4 102.5h1.15M260.3 108.2h1.15M268.2 111.1h1.15M276.6 107.8h1.15M284.6 100.2h1.15M286.8 88.0h1.15M267.5 108.9h1.15M257.3 106.4h1.15M287.8 105.0h1.15M283.6 90.0h1.15M273.6 103.7h1.15M270.4 100.1h1.15M281.3 92.5h1.15M258.4 104.9h1.15M286.8 107.9h1.15M277.7 96.2h1.15M284.9 88.8h1.15M264.6 108.1h1.15M284.6 97.7h1.15M285.0 90.5h1.15M275.4 91.6h1.15M264.2 96.5h1.15M272.4 96.8h1.15M277.1 90.9h1.15M272.9 102.0h1.15M269.4 110.4h1.15M260.9 101.5h1.15M271.2 99.0h1.15M287.0 101.5h1.15M272.9 100.1h1.15M270.5 111.2h1.15M281.6 103.9h1.15M262.0 104.5h1.15M260.9 100.1h1.15M257.7 106.9h1.15M287.1 103.1h1.15M274.5 95.8h1.15M270.6 101.0h1.15M270.0 97.0h1.15M263.8 107.4h1.15M286.3 107.8h1.15M276.1 90.5h1.15M266.3 109.0h1.15M287.0 100.9h1.15M274.5 105.3h1.15M264.6 106.6h1.15M268.2 109.1h1.15M271.2 105.1h1.15M274.1 102.0h1.15M271.2 111.2h1.15M280.2 98.7h1.15M272.6 110.0h1.15M280.0 104.1h1.15M286.5 90.3h1.15M275.4 103.9h1.15M271.0 111.4h1.15M286.8 97.0h1.15M276.0 107.0h1.15M278.4 97.6h1.15M281.6 96.8h1.15M261.5 105.9h1.15M277.0 98.9h1.15M272.4 111.9h1.15M281.9 98.1h1.15M285.1 101.7h1.15M269.5 104.9h1.15M281.1 109.7h1.15M277.6 104.6h1.15M269.3 92.4h1.15M271.0 93.6h1.15M286.0 96.4h1.15M275.6 106.3h1.15M262.5 109.0h1.15M267.0 93.7h1.15M275.5 99.0h1.15M285.3 98.6h1.15M259.9 94.2h1.15M257.9 103.1h1.15M279.0 90.4h1.15M267.2 101.7h1.15M284.6 111.5h1.15M284.0 103.4h1.15M274.7 95.1h1.15M275.9 93.7h1.15M266.3 108.8h1.15M274.5 106.2h1.15M271.3 97.0h1.15M272.5 103.1h1.15M264.4 109.2h1.15M287.2 91.7h1.15M264.5 108.5h1.15M279.2 94.3h1.15M275.0 95.4h1.15M283.6 102.2h1.15M272.7 94.2h1.15M269.5 101.3h1.15M268.1 95.5h1.15M263.1 106.5h1.15M285.5 108.3h1.15M275.9 107.5h1.15M261.1 97.5h1.15M278.7 89.3h1.15M259.6 108.1h1.15M263.1 96.6h1.15M269.2 108.8h1.15M257.3 110.0h1.15M266.4 103.6h1.15M271.6 93.6h1.15M286.5 91.7h1.15M281.8 109.3h1.15M271.0 111.3h1.15M258.9 96.8h1.15M271.9 92.5h1.15M281.9 101.0h1.15M281.6 95.3h1.15M257.8 110.2h1.15M263.4 101.0h1.15M260.9 104.5h1.15M271.3 95.3h1.15M258.2 100.3h1.15M281.1 92.3h1.15M264.0 104.8h1.15M276.6 107.8h1.15M276.9 108.8h1.15M261.8 110.7h1.15M257.9 96.5h1.15M260.2 108.0h1.15M272.5 110.5h1.15M287.0 111.0h1.15M275.9 97.8h1.15M286.5 105.5h1.15M263.0 103.7h1.15M257.6 94.7h1.15M276.7 105.9h1.15M283.5 106.2h1.15M261.2 107.3h1.15M287.2 104.1h1.15M271.8 97.2h1.15M259.0 105.4h1.15M286.6 90.2h1.15M282.3 109.7h1.15M267.8 109.1h1.15M261.8 99.0h1.15M274.4 109.5h1.15M273.5 92.5h1.15M285.6 101.6h1.15M281.0 94.1h1.15M267.3 93.9h1.15M262.8 101.5h1.15M269.7 105.1h1.15M282.7 96.3h1.15M285.5 103.7h1.15M267.6 95.7h1.15M286.4 103.7h1.15M258.3 106.5h1.15M268.6 100.3h1.15M280.6 94.0h1.15M265.3 103.2h1.15M284.9 89.9h1.15M282.7 105.5h1.15M262.5 105.8h1.15M276.1 105.7h1.15M273.5 97.3h1.15M272.5 95.9h1.15M271.0 99.7h1.15M260.3 98.0h1.15M267.6 99.9h1.15M274.3 106.6h1.15M265.0 103.5h1.15M267.4 96.6h1.15M261.3 111.4h1.15M285.7 108.0h1.15M262.3 96.1h1.15M260.2 99.3h1.15M270.1 91.5h1.15M270.0 105.7h1.15M282.7 92.8h1.15M268.7 98.1h1.15M261.8 98.4h1.15M265.2 97.6h1.15M264.2 102.8h1.15M282.0 95.8h1.15M269.8 101.5h1.15M282.9 106.6h1.15M287.4 91.5h1.15M281.8 95.5h1.15M274.8 101.8h1.15M274.7 97.3h1.15M259.2 94.2h1.15M285.6 109.4h1.15M271.2 93.0h1.15M282.8 100.3h1.15M271.5 104.5h1.15M261.9 97.5h1.15M282.1 105.9h1.15M287.3 98.0h1.15M286.9 109.4h1.15M272.6 109.9h1.15M262.0 94.7h1.15M282.1 91.8h1.15M272.9 106.5h1.15M277.9 94.5h1.15M281.2 89.7h1.15M274.3 109.9h1.15M273.8 97.0h1.15M287.7 105.3h1.15M281.4 109.7h1.15M285.8 101.7h1.15M282.4 100.3h1.15M264.9 98.1h1.15M265.1 93.1h1.15M276.1 98.8h1.15M285.0 89.0h1.15M281.1 93.3h1.15M267.0 98.0h1.15M286.5 103.4h1.15M271.4 95.0h1.15M258.5 100.8h1.15M287.0 98.3h1.15M277.8 109.5h1.15M258.5 100.0h1.15M269.9 96.1h1.15M268.8 105.7h1.15M261.1 106.5h1.15M266.1 105.4h1.15M262.3 108.2h1.15M269.9 108.7h1.15M286.8 101.8h1.15M257.7 100.9h1.15M287.1 103.5h1.15M280.4 100.0h1.15M286.0 109.9h1.15M275.9 103.1h1.15M260.2 93.9h1.15M263.3 106.8h1.15M283.1 106.7h1.15M284.3 88.7h1.15M257.9 98.9h1.15M257.6 104.8h1.15M285.6 109.7h1.15M260.3 106.0h1.15M277.7 104.4h1.15M269.7 96.4h1.15M284.3 109.8h1.15M279.1 101.7h1.15M258.0 99.3h1.15M264.4 97.5h1.15M263.7 105.8h1.15M277.9 93.5h1.15M284.8 87.8h1.15M286.4 101.8h1.15M276.9 96.1h1.15M278.3 109.4h1.15M263.3 95.6h1.15M281.3 94.5h1.15M260.3 102.8h1.15M262.8 97.2h1.15M265.7 94.1h1.15M282.2 101.9h1.15M277.1 96.2h1.15M280.9 111.3h1.15M287.8 88.1h1.15M266.6 94.0h1.15M271.6 104.9h1.15M275.7 97.9h1.15M286.7 102.8h1.15M287.7 97.8h1.15M276.9 92.0h1.15M273.5 104.5h1.15M264.2 104.9h1.15M261.1 102.2h1.15M275.7 100.7h1.15M261.7 97.0h1.15M268.5 105.1h1.15M270.3 95.5h1.15M267.4 98.3h1.15M261.2 104.5h1.15M271.5 97.9h1.15M258.4 96.3h1.15M266.0 108.0h1.15M285.8 106.2h1.15M263.4 109.1h1.15M258.0 96.3h1.15M260.4 104.1h1.15M275.3 103.9h1.15M286.2 106.1h1.15M279.9 93.0h1.15M285.0 110.2h1.15M282.5 90.3h1.15M279.0 101.1h1.15M273.5 96.3h1.15M280.8 107.7h1.15M280.7 95.9h1.15M279.7 91.1h1.15M278.0 90.2h1.15M277.1 111.8h1.15M271.4 104.7h1.15M275.1 108.7h1.15M286.9 107.6h1.15M267.2 93.5h1.15M284.5 94.7h1.15M280.4 109.0h1.15M262.2 97.0h1.15M270.0 108.9h1.15M283.2 112.0h1.15M265.4 104.8h1.15M283.9 97.1h1.15M275.1 95.1h1.15M283.4 98.8h1.15M272.0 104.9h1.15M266.8 108.4h1.15M271.1 100.2h1.15M279.4 104.5h1.15M278.9 109.3h1.15M281.9 98.2h1.15M276.8 109.1h1.15M258.7 106.0h1.15M273.2 99.3h1.15M260.7 99.0h1.15M280.1 109.5h1.15M287.4 106.0h1.15M284.1 108.0h1.15M262.1 106.3h1.15M283.8 106.2h1.15M265.5 106.3h1.15M269.0 100.5h1.15M279.5 104.7h1.15M261.2 105.5h1.15M258.8 97.9h1.15M282.4 110.1h1.15M264.8 107.6h1.15M262.6 102.7h1.15M267.7 93.7h1.15M270.3 102.8h1.15M283.2 90.7h1.15M265.9 92.5h1.15M263.4 98.1h1.15M282.3 110.7h1.15M263.6 102.2h1.15M273.1 101.2h1.15M286.5 110.9h1.15M258.2 101.6h1.15M273.3 104.6h1.15M273.3 108.3h1.15M260.0 102.3h1.15M282.6 92.4h1.15M262.3 104.9h1.15M261.5 103.7h1.15M260.8 97.1h1.15M267.3 107.8h1.15M275.8 103.5h1.15M276.3 98.7h1.15M287.1 102.1h1.15M276.4 91.4h1.15M264.7 104.1h1.15M286.4 104.8h1.15M258.7 108.7h1.15M263.5 104.4h1.15M262.9 94.3h1.15M280.8 100.1h1.15M275.6 105.6h1.15M275.3 99.3h1.15M266.9 102.8h1.15M264.6 97.8h1.15M282.0 96.6h1.15M279.2 104.8h1.15M271.3 107.7h1.15M267.2 92.2h1.15M283.1 106.2h1.15M279.7 110.3h1.15M269.6 100.3h1.15M275.9 109.3h1.15M265.7 107.4h1.15M286.5 93.7h1.15M257.5 97.3h1.15M276.9 94.6h1.15M286.2 89.7h1.15M284.6 96.5h1.15M285.3 96.0h1.15M260.4 106.2h1.15M266.2 111.0h1.15M282.3 94.5h1.15M272.1 102.6h1.15M280.8 95.0h1.15M274.4 101.7h1.15M275.1 102.4h1.15M270.3 99.4h1.15M269.2 112.1h1.15M273.1 92.9h1.15M269.1 107.4h1.15M278.0 91.3h1.15M269.7 100.8h1.15M283.0 94.6h1.15M285.2 107.6h1.15M257.6 103.3h1.15M273.4 104.2h1.15M284.3 92.8h1.15M282.5 88.6h1.15M282.7 94.6h1.15M257.8 108.8h1.15M286.9 103.7h1.15M281.0 98.0h1.15M264.6 105.6h1.15M281.9 94.9h1.15M268.6 97.3h1.15M265.2 109.6h1.15M257.2 94.9h1.15M262.7 108.1h1.15M274.6 106.9h1.15M278.4 109.6h1.15M275.1 90.7h1.15M260.2 101.4h1.15M260.6 99.4h1.15M265.5 111.8h1.15M286.7 104.1h1.15M270.0 100.0h1.15M259.2 102.3h1.15M261.4 103.4h1.15M282.1 98.0h1.15M278.8 107.9h1.15M285.2 98.2h1.15M264.3 110.0h1.15M272.4 96.7h1.15M278.0 109.1h1.15M287.3 96.6h1.15M265.2 97.5h1.15M266.2 96.7h1.15M285.3 103.2h1.15M258.5 95.9h1.15M262.7 111.6h1.15M267.5 108.3h1.15M263.9 96.7h1.15M286.0 89.4h1.15M272.4 102.1h1.15M267.4 107.3h1.15M283.3 93.7h1.15M266.3 102.0h1.15M271.8 104.4h1.15M280.8 96.7h1.15M286.0 98.8h1.15M257.9 101.9h1.15M273.3 94.5h1.15M284.1 102.4h1.15M273.0 96.8h1.15M261.1 98.7h1.15M276.8 105.1h1.15M278.0 90.2h1.15M281.0 105.0h1.15M278.0 101.3h1.15M283.3 111.3h1.15M275.0 99.7h1.15M273.7 107.9h1.15M277.8 107.1h1.15M266.5 104.2h1.15M264.3 104.0h1.15M257.5 103.9h1.15M279.4 110.1h1.15M271.9 109.5h1.15M263.2 93.3h1.15M274.0 97.9h1.15M269.2 103.9h1.15M280.3 109.0h1.15M267.0 103.8h1.15M276.4 105.1h1.15M275.0 100.4h1.15M281.9 89.0h1.15M281.2 92.6h1.15M262.6 105.9h1.15M271.0 98.4h1.15M259.4 94.9h1.15M265.2 94.5h1.15M278.5 93.9h1.15M268.7 100.3h1.15M278.7 108.0h1.15M276.5 94.7h1.15M261.2 104.0h1.15M268.3 106.6h1.15M263.7 106.2h1.15M268.0 97.6h1.15M262.6 107.5h1.15M272.5 102.4h1.15M282.6 89.0h1.15M273.8 97.6h1.15M264.5 108.8h1.15M264.5 100.7h1.15M270.4 94.2h1.15M266.5 92.3h1.15M272.4 104.2h1.15M287.8 111.2h1.15M267.2 111.4h1.15M260.2 96.5h1.15M273.3 105.3h1.15M275.3 90.9h1.15M269.6 101.7h1.15M268.9 107.3h1.15M279.9 91.0h1.15M271.3 105.8h1.15M281.3 104.3h1.15M287.1 105.7h1.15M269.1 108.8h1.15M275.9 103.2h1.15M275.3 106.7h1.15M278.8 99.8h1.15M281.3 98.6h1.15M279.8 110.2h1.15M273.3 93.8h1.15M284.9 93.0h1.15M263.5 93.9h1.15M269.9 99.7h1.15M282.2 92.5h1.15M268.6 107.5h1.15M257.7 101.7h1.15M261.6 107.9h1.15M266.2 95.1h1.15M260.5 97.6h1.15M278.7 92.0h1.15M258.2 98.6h1.15M258.3 107.4h1.15M280.4 101.3h1.15M267.3 92.9h1.15M279.0 94.8h1.15M273.9 111.9h1.15M264.4 106.1h1.15M270.5 102.4h1.15M269.5 106.0h1.15M273.0 91.4h1.15M282.3 94.1h1.15M267.8 101.6h1.15M275.3 106.8h1.15M260.7 100.8h1.15M276.1 100.4h1.15M264.5 108.2h1.15M286.7 103.4h1.15M273.5 93.9h1.15M271.7 107.6h1.15M266.7 100.9h1.15M270.8 97.7h1.15M276.0 96.5h1.15M285.4 108.2h1.15M266.5 93.6h1.15M257.7 108.9h1.15M270.0 93.9h1.15M258.5 108.2h1.15M263.3 110.7h1.15M268.0 104.6h1.15M267.7 105.2h1.15M261.3 98.5h1.15M260.8 94.8h1.15M274.3 112.0h1.15M257.2 110.0h1.15M265.8 95.6h1.15M258.0 100.6h1.15M259.7 103.0h1.15M271.1 94.7h1.15M284.2 102.1h1.15M280.4 94.5h1.15M279.2 105.2h1.15M280.8 93.1h1.15M286.2 98.7h1.15M259.5 110.8h1.15M266.4 110.1h1.15M263.4 94.4h1.15M272.8 102.5h1.15M277.8 104.0h1.15M268.1 107.3h1.15M272.9 93.8h1.15M275.0 97.9h1.15M273.8 93.9h1.15M264.8 97.8h1.15M277.4 90.1h1.15M269.8 99.8h1.15M283.9 91.0h1.15M272.8 108.1h1.15M269.6 111.3h1.15M264.8 102.3h1.15M266.4 97.9h1.15M259.2 108.1h1.15M277.1 108.5h1.15M271.7 94.9h1.15M277.3 110.7h1.15M274.2 96.1h1.15M273.1 109.0h1.15M282.2 103.3h1.15M279.8 89.8h1.15M261.2 93.8h1.15M270.9 101.5h1.15M257.5 109.0h1.15M273.9 106.3h1.15M286.8 106.3h1.15M280.0 103.8h1.15M273.2 107.2h1.15M281.1 95.7h1.15M281.8 92.1h1.15M273.4 110.5h1.15M263.7 110.1h1.15M271.9 106.4h1.15M261.7 94.4h1.15M264.7 104.3h1.15M284.5 101.6h1.15M273.1 98.8h1.15M272.4 106.1h1.15M283.7 96.4h1.15M277.8 97.4h1.15M264.8 93.7h1.15M269.5 104.1h1.15M272.7 100.4h1.15M280.7 99.4h1.15M278.3 102.1h1.15M286.3 95.7h1.15M270.6 107.3h1.15M266.1 108.1h1.15M267.0 95.2h1.15M273.8 102.6h1.15M266.4 97.7h1.15M287.7 99.7h1.15M278.9 98.9h1.15M273.9 96.7h1.15M262.2 109.0h1.15M278.0 96.4h1.15M269.5 103.1h1.15M259.0 105.2h1.15M287.6 104.3h1.15M271.4 93.6h1.15M273.6 103.1h1.15M278.5 109.5h1.15M265.3 94.6h1.15M286.9 100.6h1.15M284.3 102.6h1.15M284.8 102.5h1.15M279.4 103.7h1.15M286.4 106.0h1.15M287.0 97.6h1.15M263.3 96.9h1.15M271.1 102.9h1.15M278.2 100.0h1.15M286.7 97.4h1.15M257.3 103.8h1.15M277.3 95.1h1.15M279.9 93.6h1.15M284.8 98.7h1.15M286.3 102.6h1.15M279.3 93.9h1.15M284.1 111.9h1.15M261.6 104.3h1.15M261.9 109.9h1.15M283.6 110.0h1.15M280.7 97.9h1.15M276.5 91.1h1.15M260.3 104.0h1.15M279.8 95.8h1.15M257.4 95.3h1.15M267.2 99.6h1.15M284.9 104.6h1.15M284.2 106.3h1.15M278.6 106.8h1.15M263.8 107.5h1.15M274.9 104.4h1.15M272.3 100.4h1.15M283.0 107.4h1.15M262.9 109.5h1.15M273.6 91.9h1.15M281.3 109.4h1.15M270.4 100.3h1.15M265.3 96.4h1.15M273.5 100.0h1.15M277.1 104.5h1.15M263.0 107.8h1.15M270.9 99.7h1.15M262.7 104.8h1.15M277.9 107.2h1.15M282.3 96.7h1.15M273.8 103.8h1.15M269.0 91.9h1.15M279.4 109.9h1.15M271.6 110.5h1.15M258.6 104.7h1.15M269.2 104.7h1.15M268.1 106.5h1.15M263.2 98.5h1.15M269.7 100.1h1.15M269.8 111.0h1.15M272.8 102.8h1.15M261.0 103.5h1.15M280.4 105.2h1.15M286.5 102.2h1.15M268.4 109.5h1.15M287.2 111.5h1.15M260.5 106.2h1.15M261.9 98.4h1.15M280.9 109.2h1.15M275.2 97.2h1.15M272.0 97.5h1.15M265.2 96.6h1.15M286.2 110.5h1.15M262.7 109.3h1.15M280.1 105.8h1.15M264.9 103.0h1.15M282.1 105.1h1.15M285.8 88.9h1.15M267.2 99.5h1.15M269.8 111.9h1.15M286.8 108.0h1.15M277.2 107.1h1.15M283.1 93.3h1.15M276.3 111.8h1.15M262.1 101.7h1.15M268.3 109.2h1.15M271.3 94.0h1.15M268.5 105.0h1.15M273.8 91.1h1.15M282.1 95.2h1.15M258.1 105.5h1.15M277.7 103.3h1.15M259.8 94.3h1.15M279.3 100.9h1.15M257.3 104.4h1.15M259.6 102.6h1.15M278.9 94.4h1.15M269.5 106.4h1.15M265.5 104.7h1.15M258.7 106.8h1.15M264.3 101.2h1.15M287.6 106.6h1.15M262.7 108.3h1.15M269.3 101.8h1.15M265.6 89.2h1.15M269.0 85.4h1.15M263.4 92.7h1.15M269.7 90.4h1.15M260.5 87.0h1.15M272.0 89.4h1.15M277.1 88.3h1.15M258.8 92.3h1.15M283.0 82.6h1.15M286.6 87.1h1.15M263.1 92.7h1.15M257.8 92.9h1.15M271.6 86.1h1.15M271.9 90.2h1.15M262.4 92.0h1.15M258.0 93.7h1.15M268.9 91.2h1.15M287.0 86.4h1.15M282.9 85.0h1.15M266.5 92.1h1.15M280.7 87.1h1.15M282.6 86.0h1.15M273.5 90.4h1.15M283.5 86.6h1.15M261.6 91.8h1.15M285.3 84.9h1.15M260.7 92.9h1.15M264.6 88.7h1.15M269.1 88.5h1.15M281.2 82.0h1.15M268.7 86.7h1.15M266.9 92.0h1.15M259.3 93.3h1.15M265.2 89.3h1.15M257.3 93.2h1.15M278.0 84.0h1.15M277.6 88.9h1.15M284.1 86.2h1.15M271.5 88.1h1.15M278.0 88.0h1.15M283.9 84.3h1.15M286.1 87.1h1.15M269.7 90.7h1.15M268.4 90.1h1.15M284.6 87.0h1.15M259.8 92.3h1.15M279.2 86.9h1.15M261.7 92.4h1.15M280.5 87.4h1.15M271.6 89.0h1.15M268.5 88.3h1.15M285.5 86.9h1.15M267.3 88.9h1.15M271.1 90.4h1.15M283.0 88.0h1.15M285.1 84.7h1.15M282.7 86.4h1.15M276.9 87.5h1.15M281.0 88.5h1.15M281.7 82.4h1.15M272.0 86.2h1.15M257.4 91.1h1.15M265.4 92.0h1.15M278.5 88.8h1.15M266.2 92.3h1.15M265.8 91.7h1.15M268.3 89.3h1.15M275.5 86.5h1.15M261.7 88.0h1.15M264.2 92.0h1.15M278.5 89.0h1.15M273.7 88.5h1.15M282.7 86.8h1.15M274.7 89.9h1.15M258.6 93.8h1.15M267.3 89.0h1.15M276.3 88.1h1.15M275.1 88.0h1.15M281.6 86.4h1.15M283.1 82.4h1.15M262.8 91.6h1.15M283.1 87.2h1.15M263.6 89.9h1.15M274.2 86.7h1.15M277.9 89.4h1.15M267.3 88.7h1.15M280.7 86.4h1.15M283.5 86.4h1.15M268.1 88.4h1.15M266.8 91.0h1.15M281.3 88.2h1.15M269.3 90.0h1.15M284.2 87.3h1.15M281.9 88.4h1.15M262.6 88.1h1.15M280.6 87.8h1.15M279.9 87.2h1.15M260.5 93.5h1.15M287.2 86.9h1.15M279.0 87.8h1.15M281.1 88.1h1.15M284.4 85.0h1.15M275.5 85.6h1.15M257.2 93.5h1.15M287.6 84.2h1.15M264.3 91.2h1.15M283.5 86.1h1.15M258.8 91.7h1.15M277.7 87.7h1.15M281.9 85.7h1.15M274.5 86.0h1.15M262.7 91.6h1.15M269.1 90.3h1.15M285.0 84.0h1.15M279.5 87.5h1.15M264.0 89.9h1.15M280.8 88.0h1.15M268.5 90.2h1.15M270.3 91.2h1.15M260.8 92.7h1.15M285.4 87.4h1.15M262.2 90.9h1.15M259.6 89.8h1.15M283.2 86.3h1.15M264.0 89.0h1.15M278.7 88.9h1.15M264.4 89.9h1.15M272.3 90.6h1.15M271.2 84.8h1.15M274.6 89.2h1.15M284.7 85.5h1.15M284.3 85.1h1.15M287.5 82.0h1.15M257.5 94.2h1.15M282.8 87.3h1.15M261.5 93.1h1.15M263.2 91.6h1.15M267.0 90.7h1.15M262.8 92.0h1.15M281.1 88.5h1.15M271.7 87.8h1.15M278.8 87.6h1.15M261.0 93.5h1.15M282.9 88.0h1.15M274.8 88.4h1.15M286.2 86.1h1.15M267.5 90.4h1.15M271.1 88.4h1.15M273.9 88.8h1.15" stroke="#1414f0" stroke-width="1.15" fill="none"/>
<path d="M268.7 108.5h1.15M259.8 107.5h1.15M280.8 101.9h1.15M274.1 113.6h1.15M269.1 108.5h1.15M268.0 105.9h1.15M283.6 111.8h1.15M266.8 107.0h1.15M268.2 105.2h1.15M265.5 110.7h1.15M267.8 111.0h1.15M268.8 111.3h1.15M269.4 101.1h1.15M266.5 106.2h1.15M277.2 108.1h1.15M264.0 111.2h1.15M273.1 106.6h1.15M266.8 109.4h1.15M270.3 100.6h1.15M270.9 107.0h1.15M269.4 104.1h1.15M273.0 100.8h1.15M276.7 103.4h1.15M262.0 106.8h1.15M281.0 109.8h1.15M262.7 102.6h1.15M275.8 106.8h1.15M274.4 108.1h1.15M259.9 111.0h1.15M262.8 106.5h1.15M265.1 107.3h1.15M279.9 107.8h1.15M266.6 105.8h1.15M271.0 104.9h1.15M277.0 102.7h1.15M274.9 102.0h1.15M276.0 108.5h1.15M272.7 109.9h1.15M280.9 105.9h1.15M273.3 101.3h1.15M265.3 109.8h1.15M257.7 111.2h1.15M276.7 103.5h1.15M272.6 103.1h1.15M279.7 103.3h1.15M280.3 105.6h1.15M264.2 109.0h1.15M275.5 107.7h1.15M278.8 103.9h1.15M261.3 105.3h1.15M273.6 106.8h1.15M266.0 107.4h1.15M262.9 106.4h1.15M275.7 107.0h1.15M275.3 100.2h1.15M269.6 104.8h1.15M269.5 104.3h1.15M272.3 108.2h1.15M277.0 105.3h1.15M269.9 107.1h1.15M261.0 108.6h1.15M267.2 108.6h1.15M273.9 106.9h1.15M280.5 109.8h1.15M275.3 102.4h1.15M265.2 104.0h1.15M269.3 103.3h1.15M264.9 110.1h1.15M259.2 114.9h1.15M271.0 105.6h1.15M258.0 106.2h1.15M274.1 109.0h1.15M258.5 103.0h1.15M281.3 106.1h1.15M279.9 108.3h1.15M279.6 103.7h1.15M276.2 106.0h1.15M257.3 106.9h1.15M266.5 106.6h1.15M270.8 99.9h1.15M280.0 105.1h1.15M272.5 98.4h1.15M271.6 106.5h1.15M274.9 101.1h1.15M279.6 100.7h1.15M274.7 107.5h1.15M275.9 102.0h1.15M274.2 98.1h1.15M275.9 105.8h1.15M275.2 106.7h1.15M260.0 110.6h1.15M272.5 109.6h1.15M268.0 102.3h1.15M275.3 107.0h1.15M285.4 113.2h1.15M269.9 107.7h1.15M274.7 106.0h1.15M264.7 103.2h1.15M262.0 102.8h1.15M274.2 110.0h1.15M267.1 106.8h1.15M272.5 111.0h1.15M272.9 102.8h1.15M277.8 98.3h1.15M268.9 106.6h1.15M275.4 104.4h1.15M277.5 105.4h1.15M263.9 105.6h1.15M276.5 107.0h1.15M277.4 107.7h1.15M277.7 108.7h1.15M274.8 101.2h1.15M272.8 102.2h1.15M274.4 101.1h1.15M277.4 99.3h1.15M264.3 99.0h1.15M286.1 106.3h1.15M263.3 105.9h1.15M271.6 108.6h1.15M265.2 104.4h1.15M276.9 105.7h1.15M281.9 114.8h1.15M279.7 108.6h1.15M273.0 92.5h1.15M270.0 100.0h1.15M260.8 100.5h1.15M275.3 102.1h1.15M279.3 104.6h1.15M266.4 107.1h1.15M265.1 102.5h1.15M268.2 109.2h1.15M259.6 109.1h1.15M272.8 106.5h1.15M262.8 105.4h1.15M277.9 106.3h1.15M273.9 107.2h1.15M271.2 104.9h1.15M273.0 109.5h1.15M275.9 100.1h1.15M263.3 105.2h1.15M274.0 101.5h1.15M272.5 101.9h1.15M281.4 111.1h1.15M272.9 110.0h1.15M267.6 101.9h1.15M269.5 106.5h1.15M268.6 106.1h1.15M264.2 104.6h1.15M276.5 107.0h1.15M266.1 106.5h1.15M276.2 104.7h1.15M272.6 106.0h1.15M277.4 107.0h1.15M278.0 106.2h1.15M275.5 104.3h1.15M268.7 101.4h1.15M274.2 108.9h1.15M277.9 106.0h1.15M273.6 106.6h1.15M264.9 106.5h1.15M272.5 107.4h1.15M267.6 114.3h1.15M276.4 104.9h1.15M278.4 106.2h1.15M274.7 103.9h1.15M277.8 105.4h1.15M270.7 107.0h1.15M269.3 109.8h1.15M269.4 108.9h1.15M269.7 101.5h1.15M273.5 106.3h1.15M273.6 103.9h1.15M263.2 108.9h1.15M278.8 104.9h1.15M270.9 100.7h1.15M273.3 101.8h1.15M272.7 109.9h1.15M268.3 104.2h1.15M264.9 103.5h1.15M265.5 108.3h1.15M266.9 108.1h1.15M276.7 105.3h1.15M270.4 105.6h1.15M267.9 111.7h1.15M261.1 105.4h1.15M279.5 102.8h1.15M283.3 103.4h1.15M273.5 110.3h1.15M280.2 106.3h1.15M279.6 102.3h1.15M277.4 102.6h1.15M271.8 103.1h1.15M270.4 107.0h1.15M278.6 110.0h1.15M279.9 109.2h1.15M269.8 112.3h1.15M272.9 105.4h1.15M262.5 103.2h1.15M269.6 105.8h1.15M260.9 105.6h1.15M267.2 105.3h1.15M269.6 105.4h1.15M273.6 108.4h1.15M264.8 106.0h1.15M270.2 113.8h1.15M274.1 106.8h1.15M270.9 102.5h1.15M279.1 100.4h1.15M261.8 105.4h1.15M263.1 109.5h1.15M280.0 104.7h1.15M261.1 111.3h1.15M281.9 105.8h1.15M275.5 104.8h1.15M269.0 104.3h1.15M258.6 110.7h1.15" stroke="#06063a" stroke-width="1.15" fill="none"/>
<path d="M303.0 91.1h1.7M306.2 91.1h1.7M301.8 98.1h1.7" stroke="#2828c8" stroke-width="1.7" fill="none"/>
<path d="M291.0 85.4h1.7M291.6 89.8h1.7M292.9 93.0h1.7M294.2 96.2h1.7M296.0 98.1h1.7M291.6 98.1h1.7M293.5 103.2h1.7M295.4 102.5h1.7M292.2 106.3h1.7M298.6 94.3h1.7M299.9 103.8h1.7M298.6 110.1h1.7M308.7 84.1h1.7M310.0 90.5h1.7M305.6 95.5h1.7M308.1 99.4h1.7M304.3 100.6h1.7M306.2 104.4h1.7M308.1 108.8h1.7M313.2 101.8h1.7M315.1 103.2h1.7M325.9 103.2h1.7M313.8 94.9h1.7M290.2 93.8h1.7M290.5 100.8h1.7M290.5 89.4h1.7M291.0 88.6h1.7M291.6 107.8h1.7M294.6 97.1h1.7M296.1 100.6h1.7M297.4 93.0h1.7M293.9 106.6h1.7M292.2 107.0h1.7M292.8 95.7h1.7M292.9 87.7h1.7M292.5 101.8h1.7M296.4 98.3h1.7M290.3 98.9h1.7M294.9 99.7h1.7" stroke="#101010" stroke-width="1.7" fill="none"/>
<rect x="256.0" y="16.05" width="123.20" height="103.25" fill="none" stroke="#000" stroke-width="1.8"/>
<line x1="246.40" y1="119.30" x2="256.00" y2="119.30" stroke="#000" stroke-width="1.3"/>
<line x1="250.20" y1="115.36" x2="256.00" y2="115.36" stroke="#000" stroke-width="1.3"/>
<line x1="250.20" y1="111.42" x2="256.00" y2="111.42" stroke="#000" stroke-width="1.3"/>
<line x1="250.20" y1="107.48" x2="256.00" y2="107.48" stroke="#000" stroke-width="1.3"/>
<line x1="250.20" y1="103.54" x2="256.00" y2="103.54" stroke="#000" stroke-width="1.3"/>
<line x1="246.40" y1="99.60" x2="256.00" y2="99.60" stroke="#000" stroke-width="1.3"/>
<line x1="250.20" y1="95.65" x2="256.00" y2="95.65" stroke="#000" stroke-width="1.3"/>
<line x1="250.20" y1="91.71" x2="256.00" y2="91.71" stroke="#000" stroke-width="1.3"/>
<line x1="250.20" y1="87.77" x2="256.00" y2="87.77" stroke="#000" stroke-width="1.3"/>
<line x1="250.20" y1="83.83" x2="256.00" y2="83.83" stroke="#000" stroke-width="1.3"/>
<line x1="246.40" y1="79.89" x2="256.00" y2="79.89" stroke="#000" stroke-width="1.3"/>
<line x1="250.20" y1="75.95" x2="256.00" y2="75.95" stroke="#000" stroke-width="1.3"/>
<line x1="250.20" y1="72.01" x2="256.00" y2="72.01" stroke="#000" stroke-width="1.3"/>
<line x1="250.20" y1="68.07" x2="256.00" y2="68.07" stroke="#000" stroke-width="1.3"/>
<line x1="250.20" y1="64.13" x2="256.00" y2="64.13" stroke="#000" stroke-width="1.3"/>
<line x1="246.40" y1="60.19" x2="256.00" y2="60.19" stroke="#000" stroke-width="1.3"/>
<line x1="250.20" y1="56.25" x2="256.00" y2="56.25" stroke="#000" stroke-width="1.3"/>
<line x1="250.20" y1="52.31" x2="256.00" y2="52.31" stroke="#000" stroke-width="1.3"/>
<line x1="250.20" y1="48.36" x2="256.00" y2="48.36" stroke="#000" stroke-width="1.3"/>
<line x1="250.20" y1="44.42" x2="256.00" y2="44.42" stroke="#000" stroke-width="1.3"/>
<line x1="246.40" y1="40.48" x2="256.00" y2="40.48" stroke="#000" stroke-width="1.3"/>
<line x1="250.20" y1="36.54" x2="256.00" y2="36.54" stroke="#000" stroke-width="1.3"/>
<line x1="250.20" y1="32.60" x2="256.00" y2="32.60" stroke="#000" stroke-width="1.3"/>
<line x1="250.20" y1="28.66" x2="256.00" y2="28.66" stroke="#000" stroke-width="1.3"/>
<line x1="250.20" y1="24.72" x2="256.00" y2="24.72" stroke="#000" stroke-width="1.3"/>
<line x1="246.40" y1="20.78" x2="256.00" y2="20.78" stroke="#000" stroke-width="1.3"/>
<line x1="250.20" y1="16.84" x2="256.00" y2="16.84" stroke="#000" stroke-width="1.3"/>
<text transform="translate(246.0,99.59580152671755) rotate(-90)" x="0" y="0" font-size="10.3" font-weight="bold" text-anchor="middle" fill="#000" textLength="11" lengthAdjust="spacingAndGlyphs" stroke="#000" stroke-width="0.35">50</text>
<text transform="translate(246.0,79.89160305343512) rotate(-90)" x="0" y="0" font-size="10.3" font-weight="bold" text-anchor="middle" fill="#000" textLength="16.4" lengthAdjust="spacingAndGlyphs" stroke="#000" stroke-width="0.35">100</text>
<text transform="translate(246.0,60.18740458015267) rotate(-90)" x="0" y="0" font-size="10.3" font-weight="bold" text-anchor="middle" fill="#000" textLength="16.4" lengthAdjust="spacingAndGlyphs" stroke="#000" stroke-width="0.35">150</text>
<text transform="translate(246.0,41.283206106870225) rotate(-90)" x="0" y="0" font-size="10.3" font-weight="bold" text-anchor="middle" fill="#000" textLength="16.4" lengthAdjust="spacingAndGlyphs" stroke="#000" stroke-width="0.35">200</text>
<text transform="translate(246.0,21.579007633587796) rotate(-90)" x="0" y="0" font-size="10.3" font-weight="bold" text-anchor="middle" fill="#000" textLength="16.4" lengthAdjust="spacingAndGlyphs" stroke="#000" stroke-width="0.35">250</text>
<text transform="translate(231.3,88.8) rotate(-90)" x="0" y="0" font-size="12.0" font-weight="bold" text-anchor="start" fill="#000" textLength="37.49" lengthAdjust="spacingAndGlyphs">SSC-A</text>
<text transform="translate(230.10000000000002,16) rotate(-90)" x="0" y="0" font-size="10.0" font-weight="bold" text-anchor="end" fill="#000" textLength="46.59" lengthAdjust="spacingAndGlyphs">(x 1,000)</text>
<line x1="260.58" y1="119.30" x2="260.58" y2="125.90" stroke="#000" stroke-width="1.3"/>
<line x1="263.58" y1="119.30" x2="263.58" y2="125.90" stroke="#000" stroke-width="1.3"/>
<line x1="266.03" y1="119.30" x2="266.03" y2="125.90" stroke="#000" stroke-width="1.3"/>
<line x1="268.10" y1="119.30" x2="268.10" y2="125.90" stroke="#000" stroke-width="1.3"/>
<line x1="269.90" y1="119.30" x2="269.90" y2="125.90" stroke="#000" stroke-width="1.3"/>
<line x1="271.48" y1="119.30" x2="271.48" y2="125.90" stroke="#000" stroke-width="1.3"/>
<line x1="272.90" y1="119.30" x2="272.90" y2="130.60" stroke="#000" stroke-width="1.4"/>
<line x1="282.22" y1="119.30" x2="282.22" y2="125.90" stroke="#000" stroke-width="1.3"/>
<line x1="287.67" y1="119.30" x2="287.67" y2="125.90" stroke="#000" stroke-width="1.3"/>
<line x1="291.54" y1="119.30" x2="291.54" y2="125.90" stroke="#000" stroke-width="1.3"/>
<line x1="294.54" y1="119.30" x2="294.54" y2="125.90" stroke="#000" stroke-width="1.3"/>
<line x1="297.00" y1="119.30" x2="297.00" y2="125.90" stroke="#000" stroke-width="1.3"/>
<line x1="299.07" y1="119.30" x2="299.07" y2="125.90" stroke="#000" stroke-width="1.3"/>
<line x1="300.87" y1="119.30" x2="300.87" y2="125.90" stroke="#000" stroke-width="1.3"/>
<line x1="302.45" y1="119.30" x2="302.45" y2="125.90" stroke="#000" stroke-width="1.3"/>
<line x1="303.87" y1="119.30" x2="303.87" y2="130.60" stroke="#000" stroke-width="1.4"/>
<line x1="313.19" y1="119.30" x2="313.19" y2="125.90" stroke="#000" stroke-width="1.3"/>
<line x1="318.64" y1="119.30" x2="318.64" y2="125.90" stroke="#000" stroke-width="1.3"/>
<line x1="322.51" y1="119.30" x2="322.51" y2="125.90" stroke="#000" stroke-width="1.3"/>
<line x1="325.51" y1="119.30" x2="325.51" y2="125.90" stroke="#000" stroke-width="1.3"/>
<line x1="327.96" y1="119.30" x2="327.96" y2="125.90" stroke="#000" stroke-width="1.3"/>
<line x1="330.04" y1="119.30" x2="330.04" y2="125.90" stroke="#000" stroke-width="1.3"/>
<line x1="331.83" y1="119.30" x2="331.83" y2="125.90" stroke="#000" stroke-width="1.3"/>
<line x1="333.42" y1="119.30" x2="333.42" y2="125.90" stroke="#000" stroke-width="1.3"/>
<line x1="334.83" y1="119.30" x2="334.83" y2="130.60" stroke="#000" stroke-width="1.4"/>
<line x1="344.16" y1="119.30" x2="344.16" y2="125.90" stroke="#000" stroke-width="1.3"/>
<line x1="349.61" y1="119.30" x2="349.61" y2="125.90" stroke="#000" stroke-width="1.3"/>
<line x1="353.48" y1="119.30" x2="353.48" y2="125.90" stroke="#000" stroke-width="1.3"/>
<line x1="356.48" y1="119.30" x2="356.48" y2="125.90" stroke="#000" stroke-width="1.3"/>
<line x1="358.93" y1="119.30" x2="358.93" y2="125.90" stroke="#000" stroke-width="1.3"/>
<line x1="361.00" y1="119.30" x2="361.00" y2="125.90" stroke="#000" stroke-width="1.3"/>
<line x1="362.80" y1="119.30" x2="362.80" y2="125.90" stroke="#000" stroke-width="1.3"/>
<line x1="364.38" y1="119.30" x2="364.38" y2="125.90" stroke="#000" stroke-width="1.3"/>
<line x1="365.80" y1="119.30" x2="365.80" y2="130.60" stroke="#000" stroke-width="1.4"/>
<line x1="375.12" y1="119.30" x2="375.12" y2="125.90" stroke="#000" stroke-width="1.3"/>
<text x="274.79999999999995" y="141.9" font-size="10.4" font-weight="bold" text-anchor="end" fill="#000" textLength="9.0" lengthAdjust="spacingAndGlyphs" stroke="#000" stroke-width="0.3">10</text>
<text x="275.29999999999995" y="135.7" font-size="8.4" font-weight="bold" text-anchor="start" fill="#000" textLength="4.8" lengthAdjust="spacingAndGlyphs">2</text>
<text x="306.2" y="141.9" font-size="10.4" font-weight="bold" text-anchor="end" fill="#000" textLength="9.0" lengthAdjust="spacingAndGlyphs" stroke="#000" stroke-width="0.3">10</text>
<text x="306.7" y="135.7" font-size="8.4" font-weight="bold" text-anchor="start" fill="#000" textLength="4.8" lengthAdjust="spacingAndGlyphs">3</text>
<text x="336.79999999999995" y="141.9" font-size="10.4" font-weight="bold" text-anchor="end" fill="#000" textLength="9.0" lengthAdjust="spacingAndGlyphs" stroke="#000" stroke-width="0.3">10</text>
<text x="337.29999999999995" y="135.7" font-size="8.4" font-weight="bold" text-anchor="start" fill="#000" textLength="4.8" lengthAdjust="spacingAndGlyphs">4</text>
<text x="367.7" y="141.9" font-size="10.4" font-weight="bold" text-anchor="end" fill="#000" textLength="9.0" lengthAdjust="spacingAndGlyphs" stroke="#000" stroke-width="0.3">10</text>
<text x="368.2" y="135.7" font-size="8.4" font-weight="bold" text-anchor="start" fill="#000" textLength="4.8" lengthAdjust="spacingAndGlyphs">5</text>
<text x="271.6" y="12.6" font-size="12.8" font-weight="normal" text-anchor="start" fill="#000" textLength="50.4" lengthAdjust="spacingAndGlyphs" stroke="#000" stroke-width="0.45">PB TIL-1</text>
<text x="285.6" y="158.6" font-size="12.4" font-weight="normal" text-anchor="start" fill="#000" textLength="64.5" lengthAdjust="spacingAndGlyphs" stroke="#000" stroke-width="0.55">IFN-y PE-A</text>
<rect x="288.6" y="73.3" width="58.70" height="43.50" fill="none" stroke="#000" stroke-width="1.6"/>
<text x="314.6" y="99.3" font-size="16.2" font-weight="normal" text-anchor="start" fill="#000" textLength="16.0" lengthAdjust="spacingAndGlyphs" stroke="#000" stroke-width="0.6">P5</text>
<path d="M93.4 276.4h1.15M91.6 275.2h1.15M111.0 263.5h1.15M100.1 269.7h1.15M104.0 273.5h1.15M89.2 285.1h1.15M89.8 283.8h1.15M110.0 268.9h1.15M102.7 260.4h1.15M94.8 267.2h1.15M111.4 263.1h1.15M87.9 277.8h1.15M107.3 264.6h1.15M89.8 284.1h1.15M103.7 259.4h1.15M106.5 258.8h1.15M98.5 264.8h1.15M105.8 261.4h1.15M113.0 264.3h1.15M103.3 272.3h1.15M91.4 285.3h1.15M101.9 279.0h1.15M96.5 281.0h1.15M91.8 275.9h1.15M104.9 260.1h1.15M106.8 259.1h1.15M111.0 258.6h1.15M109.8 269.8h1.15M109.8 257.9h1.15M86.8 280.0h1.15M107.9 273.4h1.15M87.3 279.3h1.15M107.4 265.9h1.15M110.9 258.6h1.15M99.3 268.1h1.15M108.0 269.3h1.15M97.2 266.9h1.15M112.7 260.8h1.15M110.7 262.5h1.15M99.8 281.1h1.15M110.7 258.1h1.15M108.7 261.7h1.15M107.8 266.2h1.15M110.3 262.0h1.15M97.0 277.5h1.15M109.6 269.3h1.15M100.7 268.3h1.15M105.7 263.1h1.15M96.0 284.1h1.15M91.2 279.4h1.15M88.9 277.0h1.15M89.9 275.1h1.15M87.8 283.6h1.15M94.3 268.7h1.15M101.2 275.9h1.15M87.1 283.2h1.15M109.4 261.7h1.15M91.0 276.6h1.15M98.1 271.9h1.15M111.0 263.1h1.15M91.6 282.3h1.15M98.3 281.6h1.15M93.7 266.8h1.15M102.1 269.6h1.15M108.6 259.4h1.15M95.0 278.3h1.15M100.6 279.7h1.15M100.8 277.5h1.15M91.6 275.6h1.15M97.7 278.6h1.15M111.6 260.6h1.15M94.2 267.4h1.15M104.8 273.2h1.15M106.7 275.7h1.15M96.2 277.4h1.15M111.5 265.3h1.15M99.7 277.8h1.15M91.9 284.3h1.15M110.8 270.1h1.15M92.7 272.7h1.15M90.9 284.6h1.15M106.4 268.6h1.15M107.7 271.8h1.15M100.8 260.2h1.15M101.8 274.7h1.15M88.5 274.2h1.15M98.7 282.3h1.15M101.1 274.4h1.15M104.4 278.1h1.15M95.7 279.6h1.15M95.6 280.4h1.15M111.8 268.9h1.15M100.6 270.1h1.15M111.0 258.3h1.15M106.4 261.6h1.15M108.3 274.7h1.15M100.6 260.7h1.15M89.4 281.1h1.15M99.4 277.7h1.15M106.6 266.6h1.15M102.7 278.0h1.15M112.3 261.2h1.15M90.1 269.9h1.15M105.6 257.4h1.15M86.8 279.4h1.15M99.2 270.4h1.15M101.0 275.2h1.15M89.3 280.9h1.15M105.7 261.7h1.15M99.1 280.7h1.15M101.5 264.4h1.15M97.3 265.1h1.15M106.1 272.0h1.15M99.3 263.1h1.15M98.7 267.2h1.15M98.1 261.2h1.15M111.4 259.4h1.15M102.4 260.6h1.15M101.1 272.8h1.15M93.1 277.3h1.15M92.9 280.2h1.15M110.9 259.5h1.15M103.1 269.9h1.15M104.9 267.8h1.15M102.2 258.3h1.15M96.4 274.9h1.15M100.7 277.2h1.15M92.5 272.9h1.15M97.8 281.1h1.15M100.0 276.2h1.15M95.2 274.7h1.15M96.2 282.8h1.15M103.2 271.0h1.15M91.6 275.2h1.15M96.1 283.3h1.15M88.0 275.7h1.15M97.5 280.0h1.15M93.0 269.6h1.15M93.3 270.3h1.15M104.7 275.0h1.15M92.4 270.1h1.15M97.9 275.0h1.15M102.9 262.1h1.15M96.2 284.3h1.15M96.9 262.3h1.15M94.6 278.3h1.15M99.5 267.3h1.15M104.1 259.7h1.15M89.5 272.1h1.15M88.1 279.4h1.15M95.5 273.6h1.15M100.9 270.8h1.15M112.0 261.4h1.15M104.2 268.9h1.15M110.5 271.0h1.15M100.2 269.2h1.15M100.5 266.7h1.15M100.6 261.2h1.15M86.4 279.5h1.15M112.0 260.9h1.15M88.9 282.2h1.15M111.6 265.6h1.15M107.5 258.5h1.15M100.1 273.9h1.15M100.0 262.4h1.15M105.5 271.0h1.15M93.2 273.9h1.15M95.2 283.3h1.15M96.5 279.7h1.15M95.6 279.6h1.15M96.5 274.9h1.15M93.0 285.3h1.15M110.5 269.5h1.15M94.9 265.6h1.15M89.4 281.3h1.15M91.1 273.4h1.15M111.9 268.4h1.15M97.9 269.2h1.15M87.6 283.0h1.15M94.1 268.8h1.15M102.2 274.3h1.15M93.8 274.7h1.15M104.4 273.7h1.15M108.2 259.1h1.15M94.7 269.9h1.15M101.4 262.8h1.15M104.0 276.8h1.15M106.1 265.4h1.15M96.8 280.7h1.15M98.8 276.5h1.15M97.4 266.5h1.15M104.5 266.0h1.15M90.4 276.0h1.15M100.4 262.9h1.15M87.5 280.3h1.15M94.0 268.6h1.15M94.4 284.3h1.15M108.8 258.9h1.15M105.5 274.1h1.15M95.7 269.4h1.15M108.4 259.3h1.15M106.6 276.1h1.15M102.6 274.1h1.15M95.8 270.1h1.15M105.6 257.9h1.15M101.6 264.4h1.15M95.6 279.2h1.15M111.9 264.1h1.15M100.1 267.4h1.15M98.7 278.1h1.15M91.3 271.4h1.15M100.0 272.1h1.15M92.3 280.1h1.15M93.6 274.8h1.15M94.8 284.8h1.15M109.9 267.0h1.15M93.8 271.8h1.15M101.7 266.4h1.15M113.2 264.1h1.15M96.2 284.3h1.15M94.7 265.2h1.15M93.8 271.3h1.15M98.4 262.7h1.15M96.8 267.7h1.15M88.7 271.8h1.15M110.0 266.7h1.15M98.5 280.1h1.15M90.5 271.2h1.15M108.3 271.2h1.15M89.4 274.7h1.15M102.2 265.1h1.15M110.8 266.9h1.15M112.4 267.7h1.15M95.0 269.0h1.15M89.3 279.0h1.15M91.9 282.6h1.15M106.4 270.9h1.15M97.6 270.2h1.15M88.2 280.7h1.15M97.7 282.3h1.15M97.6 278.2h1.15M112.7 260.7h1.15M104.8 275.3h1.15M98.0 282.4h1.15M96.4 279.3h1.15M96.4 265.3h1.15M101.0 263.6h1.15M101.7 273.7h1.15M104.3 269.2h1.15M92.7 267.4h1.15M104.6 271.4h1.15M95.4 267.5h1.15M94.0 265.6h1.15M109.7 268.7h1.15M106.6 271.8h1.15M89.9 277.9h1.15M103.0 273.8h1.15M111.8 260.7h1.15M104.8 258.5h1.15M95.4 284.6h1.15M89.6 277.3h1.15M108.9 260.0h1.15M102.1 279.3h1.15M89.3 283.8h1.15M93.6 267.8h1.15M99.8 270.7h1.15M90.3 282.0h1.15M92.6 281.4h1.15M94.2 276.3h1.15M97.6 273.6h1.15M92.5 282.7h1.15M107.7 260.3h1.15M112.3 267.2h1.15M88.1 275.6h1.15M99.4 274.0h1.15M106.7 266.9h1.15M106.1 260.4h1.15M102.1 263.4h1.15M110.9 267.6h1.15M87.2 277.5h1.15M91.3 268.0h1.15M98.9 281.7h1.15M107.6 258.0h1.15M91.8 284.5h1.15M89.9 283.0h1.15M104.5 267.4h1.15M102.8 271.6h1.15M95.1 276.4h1.15M88.7 280.6h1.15M91.8 272.9h1.15M94.2 278.9h1.15M94.6 283.5h1.15M102.6 265.0h1.15M97.2 282.4h1.15M91.9 278.3h1.15M106.6 274.1h1.15M100.5 271.2h1.15M111.3 268.1h1.15M107.0 272.0h1.15M105.3 270.7h1.15M107.5 270.4h1.15M102.3 270.0h1.15M95.1 276.6h1.15M103.2 268.1h1.15M95.5 280.7h1.15M111.5 262.2h1.15M96.3 280.1h1.15M101.7 268.8h1.15M106.5 267.6h1.15M108.2 270.1h1.15M98.8 281.0h1.15M104.8 267.4h1.15M103.9 278.0h1.15M90.6 283.7h1.15M102.3 280.7h1.15M102.7 274.8h1.15M88.1 275.2h1.15M108.1 266.6h1.15M108.9 259.4h1.15M109.6 261.1h1.15M102.4 269.7h1.15M105.6 266.4h1.15M97.1 271.6h1.15M109.5 272.8h1.15M89.0 284.8h1.15M106.6 258.1h1.15M113.0 259.9h1.15M92.4 274.7h1.15M113.5 263.3h1.15M101.0 264.2h1.15M98.2 275.8h1.15M93.5 271.1h1.15M111.0 270.6h1.15M93.3 267.0h1.15M87.4 280.6h1.15M97.1 283.8h1.15M105.2 273.9h1.15M89.9 283.3h1.15M106.1 270.6h1.15M88.3 276.7h1.15M95.8 282.9h1.15M108.6 269.4h1.15M111.0 260.8h1.15M96.0 266.4h1.15M111.4 265.1h1.15M100.7 265.0h1.15M103.5 260.0h1.15M91.0 284.5h1.15M92.6 266.6h1.15M97.9 278.9h1.15M98.4 274.9h1.15M113.4 264.6h1.15M110.3 266.4h1.15M96.4 271.9h1.15M106.7 265.8h1.15M95.0 272.3h1.15M109.7 261.4h1.15M105.1 264.3h1.15M93.5 275.7h1.15M97.4 265.5h1.15M97.3 264.0h1.15M107.9 271.6h1.15M105.9 267.4h1.15M112.4 265.6h1.15M101.6 268.9h1.15M102.5 264.8h1.15M96.9 275.2h1.15M100.0 265.6h1.15M89.9 273.8h1.15M103.3 259.3h1.15M91.9 275.1h1.15M109.1 267.0h1.15M87.3 277.9h1.15M108.7 273.2h1.15M92.3 281.5h1.15M111.9 263.6h1.15M93.2 279.1h1.15M96.3 273.9h1.15M93.3 283.5h1.15M89.0 276.4h1.15M99.1 277.0h1.15M99.4 283.0h1.15M109.1 265.6h1.15M105.6 270.4h1.15M92.0 267.1h1.15M110.9 258.3h1.15M106.6 259.7h1.15M94.5 281.7h1.15M106.1 257.1h1.15M88.7 284.4h1.15M94.2 283.7h1.15M107.6 256.6h1.15M104.6 263.2h1.15M105.9 267.9h1.15M102.5 279.2h1.15M90.7 273.8h1.15M98.6 269.9h1.15M95.5 278.7h1.15M95.8 267.9h1.15M103.1 278.9h1.15M100.8 274.2h1.15M108.9 265.5h1.15M97.8 268.3h1.15M109.3 259.4h1.15M104.1 257.5h1.15M107.4 270.0h1.15M94.2 279.0h1.15M90.2 279.1h1.15M101.3 263.4h1.15M94.4 278.7h1.15M98.3 261.3h1.15M103.9 274.1h1.15M111.4 259.6h1.15M95.2 275.3h1.15M108.7 270.1h1.15M102.2 271.6h1.15M90.7 283.5h1.15M96.3 262.3h1.15M113.3 259.7h1.15M105.5 265.7h1.15M99.4 279.1h1.15M96.9 273.5h1.15M100.4 274.3h1.15M98.9 266.1h1.15M103.7 275.6h1.15M98.3 274.1h1.15M90.9 271.5h1.15M98.4 261.1h1.15M106.5 269.1h1.15M97.1 263.1h1.15M100.2 262.7h1.15M103.1 277.4h1.15M105.3 266.0h1.15M104.7 259.7h1.15M89.8 284.5h1.15M106.7 259.2h1.15M87.6 277.2h1.15M91.7 279.0h1.15M104.6 271.2h1.15M109.9 260.0h1.15M95.0 281.7h1.15M94.1 279.6h1.15M91.2 284.0h1.15M112.1 268.8h1.15M92.7 277.9h1.15M101.3 262.9h1.15M107.6 257.9h1.15M110.4 261.9h1.15M89.6 279.1h1.15M102.9 277.0h1.15M105.9 258.9h1.15M96.2 271.4h1.15M92.2 278.7h1.15M109.7 257.6h1.15M108.3 272.1h1.15M110.7 271.1h1.15M100.0 263.9h1.15M102.8 275.5h1.15M109.0 257.0h1.15M96.9 279.0h1.15M107.0 268.7h1.15M105.7 264.2h1.15M102.3 272.3h1.15M106.2 267.2h1.15M94.8 267.0h1.15M87.9 275.1h1.15M111.3 259.4h1.15M105.5 263.5h1.15M101.4 273.1h1.15M103.6 276.3h1.15M110.1 263.1h1.15M104.9 264.1h1.15M102.5 265.6h1.15M105.0 265.4h1.15M89.6 273.6h1.15M105.2 267.2h1.15M109.9 270.7h1.15M99.8 266.1h1.15M112.8 261.1h1.15M86.9 282.4h1.15M108.5 267.1h1.15M107.3 262.6h1.15M107.0 268.7h1.15M105.1 269.2h1.15M104.3 262.5h1.15M102.9 271.4h1.15M111.8 258.2h1.15M106.8 276.8h1.15M105.8 262.5h1.15M93.1 269.6h1.15M107.3 264.2h1.15M96.0 267.6h1.15M87.7 279.4h1.15M90.8 278.8h1.15M91.1 278.7h1.15M109.2 272.7h1.15M106.6 259.9h1.15M110.3 271.0h1.15M101.0 259.1h1.15M102.2 274.1h1.15M106.2 266.4h1.15M93.3 285.3h1.15M112.7 265.6h1.15M100.4 269.5h1.15M110.6 259.1h1.15M89.1 281.0h1.15M112.1 264.4h1.15M93.3 281.7h1.15M94.7 273.8h1.15M92.9 278.4h1.15M100.5 277.8h1.15M91.7 275.2h1.15M108.6 256.7h1.15M100.6 259.9h1.15M106.0 263.6h1.15M106.9 268.4h1.15M94.4 267.8h1.15M92.6 272.9h1.15M105.7 263.6h1.15M92.4 280.4h1.15M102.9 261.1h1.15M86.8 282.9h1.15M91.0 274.8h1.15M97.9 274.9h1.15M96.0 263.4h1.15M100.6 267.9h1.15M107.1 262.5h1.15M105.5 272.9h1.15M103.5 260.8h1.15M102.2 262.3h1.15M97.6 282.2h1.15M93.2 278.2h1.15M97.6 279.6h1.15M103.3 260.1h1.15M109.7 268.7h1.15M98.3 277.4h1.15M110.1 268.2h1.15M100.2 274.3h1.15M107.1 264.8h1.15M105.6 260.4h1.15M94.5 267.4h1.15M100.7 260.0h1.15M91.3 284.9h1.15M111.1 266.7h1.15M96.0 284.0h1.15M103.6 261.4h1.15M105.7 271.5h1.15M87.5 277.5h1.15M103.9 267.6h1.15M107.5 263.5h1.15M110.0 271.3h1.15M97.3 278.4h1.15M93.9 281.5h1.15M90.4 272.6h1.15M109.1 266.3h1.15M89.5 270.1h1.15M97.4 275.3h1.15M110.3 259.4h1.15M103.2 267.8h1.15M94.6 281.1h1.15M99.8 260.2h1.15M95.7 279.4h1.15M103.7 260.5h1.15M97.6 277.4h1.15M96.2 272.1h1.15M101.4 268.7h1.15M89.9 277.6h1.15M102.3 272.4h1.15M101.7 262.2h1.15M102.8 277.6h1.15M88.0 272.8h1.15M107.2 272.5h1.15M103.3 263.3h1.15M95.1 275.3h1.15M98.2 281.2h1.15M106.0 258.4h1.15M93.1 266.3h1.15M106.2 266.6h1.15M100.9 278.1h1.15M101.6 265.1h1.15M99.8 265.8h1.15M113.0 265.8h1.15M94.4 284.7h1.15M105.0 271.3h1.15M97.6 273.6h1.15M101.2 263.2h1.15M112.6 261.8h1.15M96.7 280.0h1.15M102.8 273.7h1.15M94.7 270.4h1.15M108.0 267.5h1.15M95.7 277.9h1.15M105.2 275.4h1.15M107.6 273.7h1.15M88.8 276.2h1.15M97.3 268.5h1.15M91.5 278.1h1.15M89.8 274.7h1.15M109.2 264.3h1.15M102.4 259.5h1.15M90.2 277.1h1.15M103.1 263.7h1.15M107.2 274.2h1.15M110.5 258.7h1.15M107.1 263.2h1.15M107.8 271.0h1.15M99.2 281.4h1.15M88.1 278.2h1.15M95.7 275.0h1.15M89.6 283.9h1.15M102.2 261.4h1.15M92.0 280.1h1.15M99.7 262.4h1.15M106.2 267.7h1.15M88.0 280.2h1.15M103.0 263.3h1.15M87.2 281.6h1.15M100.7 259.1h1.15M102.8 279.1h1.15M98.8 271.1h1.15M98.3 282.0h1.15M90.4 277.6h1.15M94.9 270.3h1.15M96.3 281.5h1.15M95.4 274.5h1.15M95.2 268.8h1.15M97.7 277.0h1.15M97.0 277.4h1.15M110.4 266.2h1.15M97.3 274.3h1.15M94.4 276.9h1.15M105.6 268.2h1.15M105.7 260.4h1.15M88.0 282.7h1.15M108.8 265.0h1.15M100.6 276.8h1.15M113.1 265.6h1.15M89.1 284.6h1.15M103.7 275.8h1.15M110.7 271.6h1.15M90.4 280.7h1.15M103.8 272.8h1.15M96.8 261.9h1.15M105.4 258.8h1.15M96.9 270.4h1.15M107.3 274.6h1.15M107.5 261.6h1.15M96.8 267.0h1.15M95.2 271.6h1.15M93.4 277.7h1.15M102.2 262.8h1.15M89.3 282.3h1.15M93.3 283.1h1.15M105.4 277.1h1.15M89.7 277.1h1.15M108.5 264.3h1.15M94.7 272.6h1.15M97.3 267.9h1.15M107.0 260.9h1.15M92.4 267.2h1.15M108.3 264.4h1.15M94.8 266.8h1.15M109.5 273.0h1.15M104.5 265.6h1.15M90.0 282.9h1.15M110.8 268.6h1.15M91.3 271.9h1.15M109.4 269.7h1.15M95.1 272.9h1.15M112.2 267.5h1.15M101.2 270.4h1.15M95.3 283.5h1.15M108.1 262.0h1.15M104.3 276.7h1.15M110.3 260.1h1.15M94.6 270.2h1.15M105.5 266.3h1.15M100.0 279.4h1.15M113.6 264.3h1.15M95.4 283.6h1.15M91.6 284.1h1.15M100.1 280.5h1.15M95.4 277.9h1.15M98.7 282.2h1.15M96.5 278.0h1.15M100.3 274.5h1.15M89.7 279.3h1.15M102.6 278.2h1.15M102.1 269.2h1.15M106.0 271.9h1.15M104.0 276.6h1.15M88.0 277.1h1.15M93.8 267.1h1.15M94.2 281.6h1.15M107.7 265.6h1.15M89.1 282.8h1.15M102.5 266.5h1.15M89.8 275.0h1.15M108.8 267.8h1.15M111.8 269.9h1.15M107.4 263.1h1.15M95.7 275.7h1.15M104.7 275.2h1.15M93.1 285.0h1.15M98.8 272.6h1.15M99.3 270.9h1.15M106.1 257.7h1.15M97.5 271.2h1.15M93.9 278.8h1.15M101.1 276.7h1.15M95.1 272.9h1.15M103.1 266.8h1.15M102.2 268.1h1.15M106.1 267.4h1.15M88.5 281.2h1.15M88.9 282.3h1.15M111.1 264.4h1.15M89.5 281.5h1.15M112.3 258.4h1.15M97.0 271.2h1.15M92.6 285.0h1.15M88.3 279.5h1.15M93.4 279.9h1.15M110.3 261.9h1.15M95.9 268.2h1.15M94.4 278.2h1.15M98.7 277.7h1.15M94.3 266.5h1.15M89.1 284.7h1.15M99.7 276.5h1.15M101.8 272.3h1.15M89.6 275.8h1.15M105.5 271.1h1.15M103.5 271.0h1.15M104.4 275.7h1.15M87.0 280.2h1.15M95.1 279.5h1.15M98.4 270.1h1.15M97.3 282.6h1.15M104.1 277.8h1.15M103.8 273.1h1.15M93.9 274.0h1.15M93.4 267.7h1.15M98.3 268.7h1.15M97.0 280.6h1.15M94.0 281.4h1.15M97.5 277.4h1.15M92.7 268.6h1.15M109.9 272.3h1.15M97.7 261.7h1.15M109.6 259.4h1.15M98.3 268.0h1.15M112.7 266.1h1.15M107.3 259.9h1.15M101.3 264.1h1.15M91.8 284.9h1.15M103.5 272.3h1.15M92.9 284.3h1.15M94.8 279.2h1.15M106.0 277.3h1.15M101.3 269.1h1.15M97.2 278.9h1.15M104.0 279.6h1.15M101.5 267.0h1.15M104.3 272.9h1.15M107.9 275.3h1.15M99.6 282.4h1.15M105.0 272.8h1.15M89.8 278.4h1.15M92.1 279.2h1.15M100.4 264.5h1.15M93.9 264.9h1.15M112.6 262.7h1.15M104.9 272.1h1.15M104.2 265.5h1.15M106.8 257.3h1.15M110.1 266.8h1.15M109.0 264.4h1.15M105.1 278.1h1.15M105.0 263.3h1.15M103.5 264.6h1.15M93.3 271.9h1.15M101.9 266.4h1.15M99.1 279.0h1.15M88.8 277.2h1.15M106.7 268.6h1.15M110.0 261.9h1.15M98.7 282.7h1.15M100.0 275.9h1.15M100.3 274.8h1.15M95.1 281.7h1.15M101.9 276.4h1.15M97.0 265.2h1.15M96.6 266.1h1.15M109.3 267.3h1.15M100.7 265.9h1.15M96.8 280.7h1.15M101.1 262.1h1.15M98.2 279.2h1.15M107.7 263.4h1.15M91.7 281.3h1.15M93.1 281.2h1.15M93.8 268.9h1.15M104.9 265.1h1.15M101.1 266.6h1.15M98.8 267.1h1.15M107.1 266.6h1.15M100.7 262.1h1.15M103.9 258.5h1.15M113.6 260.8h1.15M108.4 267.1h1.15M91.5 283.6h1.15M97.6 262.8h1.15M88.7 271.4h1.15M87.2 281.1h1.15M101.5 267.1h1.15M104.2 268.6h1.15M103.8 278.9h1.15M110.8 261.4h1.15M95.8 269.6h1.15M97.5 273.5h1.15M108.9 274.0h1.15M94.1 266.4h1.15M95.8 265.2h1.15M110.7 260.6h1.15M94.1 276.1h1.15M108.8 274.3h1.15M110.1 267.5h1.15M91.4 284.4h1.15M91.5 271.8h1.15M97.0 269.5h1.15M102.4 259.4h1.15M104.1 273.6h1.15M102.4 265.3h1.15M96.5 280.4h1.15M92.7 269.9h1.15M99.6 277.9h1.15M96.1 263.9h1.15M107.6 266.2h1.15M92.2 266.8h1.15M95.0 282.1h1.15M91.8 285.3h1.15M106.4 267.8h1.15M91.8 275.2h1.15M105.7 262.4h1.15M91.8 282.6h1.15M88.8 276.7h1.15M90.5 281.6h1.15M91.4 280.8h1.15M109.6 272.0h1.15M102.3 279.8h1.15M112.8 262.7h1.15M93.6 281.2h1.15M108.4 272.8h1.15M106.7 268.9h1.15M89.6 277.7h1.15M100.3 271.1h1.15M104.5 264.7h1.15M90.6 277.6h1.15M93.5 272.1h1.15M89.5 271.8h1.15M99.7 271.6h1.15M109.5 263.4h1.15M100.7 280.9h1.15M92.8 273.8h1.15M90.7 281.2h1.15M88.0 282.5h1.15M108.1 265.4h1.15M97.7 280.9h1.15M98.8 280.3h1.15M101.1 270.1h1.15M105.5 268.1h1.15M87.1 278.9h1.15M95.4 269.7h1.15M111.0 263.2h1.15M107.1 274.8h1.15M112.8 267.6h1.15M103.6 274.3h1.15M99.2 260.8h1.15M109.6 268.9h1.15M93.5 269.8h1.15M101.8 267.6h1.15M107.7 257.8h1.15M88.7 275.8h1.15M105.2 278.5h1.15M107.4 268.2h1.15M98.9 266.9h1.15M97.8 269.3h1.15M102.7 262.4h1.15M90.6 270.6h1.15M112.5 260.9h1.15M98.2 278.0h1.15M92.4 271.7h1.15M93.1 266.1h1.15M90.1 269.7h1.15M92.5 278.7h1.15M99.0 261.7h1.15M98.6 278.9h1.15M106.4 274.4h1.15M111.5 258.7h1.15M90.6 282.1h1.15M93.9 275.2h1.15M107.1 261.3h1.15M86.9 278.7h1.15M104.4 258.1h1.15M100.0 266.4h1.15M110.8 258.8h1.15M95.3 283.4h1.15M94.4 272.2h1.15M97.2 268.0h1.15M99.8 262.4h1.15M101.3 277.1h1.15M88.6 272.6h1.15M91.5 277.2h1.15M91.6 273.3h1.15M102.7 277.5h1.15M104.8 257.3h1.15M103.8 278.4h1.15M96.5 269.1h1.15M88.7 273.4h1.15M96.0 269.4h1.15M97.2 280.9h1.15M92.7 282.1h1.15M94.8 266.0h1.15M113.5 265.0h1.15M107.1 260.1h1.15M88.7 278.0h1.15M112.3 260.3h1.15M88.1 275.6h1.15M101.2 279.2h1.15M110.5 267.2h1.15M104.3 276.0h1.15M98.0 261.2h1.15M95.7 266.6h1.15M91.9 278.6h1.15M101.0 265.8h1.15M94.9 265.0h1.15M99.8 267.9h1.15M98.5 272.1h1.15M109.7 264.1h1.15M103.3 262.0h1.15M101.0 279.6h1.15M97.9 282.7h1.15M94.2 284.6h1.15M103.0 267.2h1.15M101.7 272.8h1.15M111.9 266.0h1.15M102.0 261.4h1.15M98.7 280.8h1.15M99.8 261.1h1.15M89.9 274.7h1.15M96.2 279.2h1.15M110.9 257.1h1.15M100.4 271.1h1.15M98.5 266.6h1.15M105.2 270.6h1.15M110.3 270.1h1.15M90.1 285.3h1.15M99.3 260.5h1.15M98.3 267.0h1.15M105.6 273.5h1.15M97.9 270.6h1.15M101.6 278.7h1.15M109.3 272.4h1.15M109.3 265.7h1.15M102.9 262.8h1.15M108.8 269.3h1.15M93.8 272.7h1.15M102.7 263.7h1.15M100.9 267.8h1.15M99.6 262.2h1.15M108.3 265.5h1.15M94.5 273.1h1.15M102.2 270.1h1.15M103.8 258.9h1.15M100.7 259.9h1.15M103.0 260.9h1.15M88.5 279.6h1.15M108.6 263.2h1.15M102.0 272.9h1.15M109.1 267.5h1.15M86.3 279.8h1.15M104.7 258.9h1.15M102.4 264.4h1.15M105.1 278.5h1.15M99.1 267.6h1.15M97.6 261.8h1.15M91.2 275.5h1.15M102.6 272.7h1.15M95.5 267.4h1.15M102.4 266.7h1.15M101.9 268.6h1.15M99.6 265.7h1.15M109.0 258.1h1.15M93.1 269.9h1.15M100.2 264.7h1.15M101.6 266.5h1.15M110.7 263.5h1.15M101.0 281.7h1.15M101.5 272.9h1.15M100.7 272.5h1.15M109.9 259.6h1.15M101.8 260.8h1.15M91.7 268.3h1.15M104.0 275.0h1.15M94.6 275.3h1.15M96.7 268.7h1.15M92.1 276.0h1.15M90.2 274.6h1.15M102.4 273.7h1.15M107.7 273.5h1.15M108.6 259.5h1.15M106.5 262.2h1.15M107.3 259.7h1.15M95.4 266.5h1.15M108.5 272.2h1.15M90.0 277.2h1.15M91.7 272.4h1.15M97.2 262.0h1.15M111.5 268.1h1.15M88.9 275.1h1.15M112.0 258.4h1.15M104.6 265.3h1.15M94.1 269.7h1.15M95.5 282.0h1.15M90.8 277.6h1.15M86.7 282.6h1.15M101.9 280.1h1.15M88.4 276.7h1.15M103.8 259.2h1.15M103.0 267.1h1.15M104.5 276.5h1.15M109.4 266.1h1.15M100.4 265.2h1.15M102.8 259.8h1.15M105.5 268.5h1.15M92.5 279.3h1.15M102.2 279.3h1.15M88.0 278.2h1.15M98.1 266.2h1.15M96.2 273.2h1.15M105.9 266.3h1.15M91.0 279.6h1.15M96.8 281.8h1.15M96.3 262.6h1.15M104.9 266.0h1.15M93.2 285.2h1.15M103.7 271.0h1.15M109.5 270.8h1.15M93.1 271.3h1.15M92.6 272.5h1.15M97.0 261.9h1.15M89.4 275.0h1.15M92.8 273.1h1.15M88.8 277.6h1.15M95.5 266.7h1.15M95.8 269.7h1.15M113.3 259.7h1.15M105.8 264.2h1.15M99.7 267.9h1.15M110.6 264.0h1.15M110.0 260.9h1.15M102.1 280.3h1.15M105.6 257.4h1.15M97.7 276.4h1.15M97.7 268.4h1.15M104.3 268.3h1.15M100.9 266.6h1.15M100.2 276.7h1.15M90.8 278.1h1.15M106.1 261.8h1.15M93.5 279.2h1.15M106.6 276.3h1.15M100.3 266.0h1.15M103.0 263.1h1.15M96.5 283.4h1.15M108.0 267.1h1.15M91.4 284.6h1.15M106.6 270.9h1.15M101.9 264.6h1.15M95.0 274.8h1.15M89.7 280.8h1.15M95.8 281.1h1.15M99.7 266.2h1.15M86.9 280.3h1.15M103.5 263.8h1.15M105.2 270.7h1.15M100.2 261.7h1.15M110.3 266.3h1.15M112.2 268.9h1.15M106.9 263.1h1.15M94.5 265.2h1.15M100.6 267.6h1.15M108.0 263.0h1.15M107.4 258.2h1.15M97.8 274.2h1.15M99.7 282.3h1.15M97.7 266.4h1.15M108.1 262.3h1.15M102.4 259.0h1.15M108.7 272.2h1.15M88.5 278.3h1.15M90.3 277.7h1.15M105.6 271.9h1.15M96.8 283.9h1.15M103.6 266.5h1.15M91.9 271.4h1.15M107.3 269.4h1.15M100.3 264.2h1.15M103.7 263.5h1.15M103.2 263.2h1.15M96.1 277.2h1.15M104.5 270.0h1.15M97.7 280.7h1.15M106.6 273.5h1.15M100.3 277.4h1.15M113.2 263.0h1.15M101.5 262.8h1.15M104.6 276.1h1.15M113.7 264.7h1.15M104.8 266.5h1.15M101.8 262.4h1.15M102.0 275.8h1.15M112.4 263.2h1.15M98.4 271.3h1.15M96.1 274.6h1.15M94.8 273.7h1.15M90.9 284.3h1.15M93.0 273.7h1.15M111.6 262.6h1.15M98.0 277.8h1.15M103.3 276.8h1.15M105.0 276.4h1.15M98.1 283.2h1.15M106.6 267.0h1.15M103.2 272.2h1.15M93.1 284.7h1.15M106.8 261.6h1.15M94.7 263.8h1.15M100.0 276.7h1.15M104.2 275.9h1.15M105.5 272.8h1.15M96.7 268.1h1.15M92.7 282.3h1.15M90.7 275.2h1.15M110.8 261.0h1.15M90.4 284.1h1.15M105.9 262.7h1.15M98.3 282.1h1.15M98.6 273.3h1.15M97.3 280.1h1.15M95.6 273.8h1.15M97.1 267.5h1.15M102.2 277.9h1.15M91.4 284.2h1.15M101.2 273.5h1.15M98.1 274.4h1.15M108.6 257.3h1.15M110.0 269.1h1.15M104.8 272.1h1.15M92.1 273.4h1.15M98.2 273.1h1.15M92.1 272.2h1.15M94.7 284.0h1.15M103.8 277.2h1.15M91.2 273.8h1.15M97.1 274.0h1.15M107.8 271.3h1.15M99.8 265.4h1.15M106.2 271.7h1.15M93.0 277.6h1.15M98.7 279.1h1.15M105.1 272.9h1.15M90.2 276.1h1.15M95.9 273.4h1.15M106.3 263.4h1.15M112.8 266.8h1.15M98.8 281.5h1.15M101.4 266.5h1.15M96.6 262.5h1.15M109.0 260.0h1.15M91.5 271.4h1.15M102.2 260.5h1.15M101.9 280.5h1.15M93.8 276.0h1.15M98.3 280.9h1.15M101.6 259.3h1.15M88.9 280.6h1.15M108.6 272.2h1.15M111.9 266.8h1.15M87.3 275.8h1.15M105.6 271.6h1.15M91.9 282.1h1.15M111.5 265.1h1.15M92.3 284.7h1.15M95.1 267.6h1.15M92.7 282.3h1.15M94.3 278.7h1.15M101.1 272.2h1.15M112.2 266.2h1.15M83.8 285.5h1.15M101.1 285.5h1.15M94.1 261.9h1.15M102.3 286.1h1.15M86.7 276.0h1.15M95.4 286.4h1.15M81.5 280.3h1.15M94.8 261.3h1.15M113.7 273.7h1.15M107.7 276.2h1.15M94.4 261.0h1.15M95.2 261.2h1.15M102.9 281.5h1.15M88.4 286.0h1.15M103.9 282.2h1.15M113.9 255.9h1.15M92.3 264.9h1.15M99.2 258.4h1.15M107.9 255.3h1.15M105.0 279.3h1.15M107.7 277.9h1.15M83.8 280.1h1.15M111.1 253.6h1.15M108.9 255.5h1.15M98.4 258.0h1.15M84.6 276.5h1.15M92.9 287.0h1.15M104.4 279.4h1.15M107.8 278.3h1.15M112.8 268.7h1.15M83.4 280.2h1.15M101.4 257.6h1.15M102.7 283.8h1.15M104.7 253.5h1.15M91.4 267.0h1.15M84.7 279.0h1.15M112.6 257.6h1.15M102.1 257.3h1.15M83.8 274.6h1.15M91.4 266.0h1.15M109.2 254.7h1.15M91.9 264.5h1.15M98.3 258.8h1.15M112.6 273.4h1.15M91.4 262.5h1.15M113.6 260.0h1.15M111.2 274.0h1.15M91.5 266.1h1.15M84.8 282.8h1.15M85.4 285.6h1.15M85.9 272.6h1.15M77.5 282.1h1.15M80.0 284.1h1.15M82.5 282.6h1.15M84.5 280.6h1.15M79.0 279.6h1.15M86.0 285.1h1.15" stroke="#1414f0" stroke-width="1.15" fill="none"/>
<path d="M96.3 278.0h1.15M105.2 274.6h1.15M93.8 275.3h1.15M95.9 274.3h1.15M103.2 278.8h1.15M100.0 275.5h1.15M102.5 276.1h1.15M105.7 276.5h1.15M98.1 279.3h1.15M107.4 269.4h1.15M100.4 271.6h1.15M91.4 274.7h1.15M102.0 269.8h1.15M96.6 283.9h1.15M103.8 275.1h1.15M101.2 276.7h1.15M95.9 273.2h1.15M103.7 273.7h1.15M97.7 274.4h1.15M92.0 275.6h1.15M106.3 272.3h1.15M98.1 281.3h1.15M100.3 276.3h1.15M100.9 277.7h1.15M98.1 273.1h1.15M96.4 269.3h1.15M98.9 275.5h1.15M95.7 269.9h1.15M96.0 268.9h1.15M100.9 271.5h1.15M102.0 272.8h1.15M101.2 278.6h1.15M102.0 275.1h1.15M90.1 278.0h1.15M95.6 270.1h1.15M93.6 277.5h1.15M101.0 277.8h1.15M101.3 280.7h1.15M96.9 276.3h1.15M97.2 275.2h1.15M97.8 277.2h1.15M96.2 276.9h1.15M102.2 275.2h1.15M100.7 272.8h1.15M94.8 283.4h1.15M97.7 281.3h1.15M89.9 266.7h1.15M98.1 275.3h1.15M88.5 279.3h1.15M101.0 273.5h1.15M100.8 278.9h1.15M98.6 274.1h1.15M101.1 274.6h1.15M96.1 270.9h1.15M98.7 281.4h1.15M96.2 274.3h1.15M92.7 275.5h1.15M101.8 275.7h1.15M100.8 280.8h1.15M94.5 273.9h1.15M100.9 275.2h1.15M93.8 276.3h1.15M100.0 280.7h1.15M94.6 277.7h1.15M100.3 265.0h1.15M101.4 276.0h1.15M91.4 283.6h1.15M100.1 277.4h1.15M108.3 280.6h1.15M94.0 276.4h1.15M105.6 281.4h1.15M104.9 276.3h1.15M103.1 273.9h1.15M97.5 278.9h1.15M97.7 278.7h1.15M97.6 277.5h1.15M107.2 278.7h1.15M103.0 270.6h1.15M95.8 280.1h1.15M91.4 274.7h1.15M96.8 281.1h1.15M90.8 274.2h1.15M98.3 276.8h1.15M91.3 281.3h1.15M101.2 281.6h1.15M100.7 278.9h1.15M97.1 275.3h1.15M93.1 278.1h1.15M93.1 280.9h1.15M100.4 273.9h1.15M99.0 269.9h1.15M93.9 273.5h1.15M92.2 273.9h1.15M97.3 273.6h1.15M94.6 271.5h1.15M89.8 278.6h1.15M96.4 281.2h1.15M93.3 274.3h1.15M101.0 282.0h1.15M102.4 279.9h1.15M92.3 278.4h1.15M106.1 267.6h1.15M99.7 285.3h1.15M93.6 277.4h1.15M106.5 278.6h1.15M99.0 279.8h1.15M97.5 279.3h1.15M97.7 279.8h1.15M94.6 275.8h1.15M98.9 267.3h1.15M102.2 275.0h1.15M95.7 270.6h1.15M97.8 272.6h1.15M101.0 282.9h1.15M96.3 273.5h1.15M97.7 275.3h1.15M100.4 268.2h1.15M100.5 276.2h1.15M95.9 270.1h1.15M102.1 280.8h1.15M99.6 279.2h1.15M101.9 277.1h1.15M101.8 272.3h1.15M101.7 266.4h1.15M103.2 282.9h1.15M103.3 273.1h1.15M97.2 278.7h1.15M94.7 278.0h1.15M98.1 282.6h1.15M96.4 274.3h1.15M100.8 280.7h1.15M97.0 270.8h1.15M92.8 270.0h1.15M98.7 272.3h1.15M98.3 270.7h1.15M97.1 278.6h1.15M93.7 281.0h1.15M98.5 273.2h1.15M96.9 276.2h1.15M94.8 274.1h1.15M99.4 268.7h1.15M108.8 279.9h1.15M103.6 285.7h1.15M101.5 276.3h1.15M97.9 278.7h1.15M104.5 273.0h1.15M105.9 275.0h1.15M93.9 281.9h1.15M96.2 279.4h1.15M92.7 279.4h1.15M96.3 281.3h1.15M91.7 273.6h1.15M94.2 277.4h1.15M94.1 275.1h1.15M98.3 274.7h1.15M99.0 277.6h1.15M91.5 280.6h1.15M93.7 273.2h1.15M105.7 273.6h1.15M97.7 279.3h1.15M95.6 275.9h1.15M97.1 275.7h1.15M93.3 280.6h1.15M98.4 278.8h1.15M98.5 274.0h1.15M103.2 273.4h1.15M102.5 273.4h1.15M95.3 276.8h1.15M108.2 280.1h1.15M98.8 278.2h1.15M103.3 274.5h1.15M90.3 272.2h1.15M98.1 273.5h1.15M97.2 282.3h1.15M97.2 274.0h1.15M98.5 281.3h1.15M105.6 279.2h1.15M97.2 274.7h1.15M93.6 274.0h1.15M102.3 278.8h1.15M99.7 272.3h1.15M98.1 273.7h1.15M104.7 276.5h1.15M97.9 276.4h1.15M98.3 276.8h1.15M96.1 277.5h1.15M98.6 280.0h1.15M100.6 279.1h1.15M96.2 276.5h1.15M89.0 273.0h1.15M96.6 266.8h1.15M103.3 280.3h1.15M99.1 285.9h1.15M91.8 276.7h1.15M98.9 274.5h1.15M104.7 280.9h1.15M100.4 272.7h1.15M99.4 276.7h1.15M100.5 270.7h1.15M94.1 280.9h1.15M98.7 276.1h1.15M98.2 265.5h1.15M104.4 270.5h1.15M93.2 278.6h1.15M104.1 281.2h1.15M96.2 273.1h1.15M101.0 277.3h1.15M90.8 281.8h1.15M90.2 278.0h1.15M99.7 279.4h1.15M98.8 279.9h1.15M99.6 272.9h1.15M95.8 282.0h1.15M90.4 279.3h1.15M95.8 269.5h1.15M94.7 278.3h1.15M86.6 280.1h1.15M103.6 274.8h1.15M96.9 276.6h1.15M102.1 272.3h1.15M96.3 277.8h1.15M92.0 277.7h1.15M98.1 279.7h1.15M93.6 276.2h1.15M100.0 276.6h1.15M93.9 281.0h1.15M97.9 277.1h1.15M98.6 279.2h1.15M98.8 273.7h1.15M101.9 276.2h1.15M98.8 277.3h1.15M93.4 276.8h1.15M99.7 270.7h1.15M97.2 276.2h1.15M101.3 275.2h1.15M98.8 279.0h1.15M93.3 273.5h1.15M97.2 279.4h1.15M104.1 276.9h1.15M98.0 274.6h1.15M98.9 283.2h1.15M97.9 274.5h1.15M105.2 276.1h1.15M97.7 273.1h1.15M102.9 275.7h1.15M90.7 267.9h1.15M99.8 274.4h1.15M100.5 278.6h1.15M104.9 282.3h1.15M93.9 275.4h1.15M95.2 280.0h1.15M92.3 279.1h1.15M91.2 280.6h1.15M103.3 269.9h1.15M98.5 274.1h1.15M91.4 280.2h1.15M95.1 280.7h1.15M100.4 283.8h1.15M96.5 279.9h1.15M99.2 275.0h1.15M102.9 276.8h1.15M96.6 277.2h1.15M92.9 280.9h1.15M105.6 270.5h1.15M99.0 275.1h1.15M95.5 279.8h1.15M105.7 277.8h1.15M97.2 283.4h1.15M97.0 273.8h1.15M96.0 280.2h1.15M98.7 277.1h1.15M95.8 277.9h1.15M98.3 283.6h1.15M98.3 272.5h1.15M105.5 277.6h1.15M98.3 278.4h1.15M98.6 267.9h1.15M98.3 281.6h1.15M102.4 273.4h1.15M97.1 278.5h1.15M107.2 278.0h1.15M99.5 274.2h1.15M96.8 274.5h1.15M98.4 272.7h1.15M96.8 271.9h1.15M103.2 279.1h1.15M97.8 275.6h1.15M101.7 277.3h1.15M96.5 265.8h1.15M90.6 279.2h1.15M97.7 273.5h1.15M90.9 279.2h1.15M93.5 277.1h1.15M98.1 274.3h1.15M93.6 277.8h1.15M92.6 274.0h1.15M97.9 281.1h1.15M96.6 277.0h1.15M100.9 266.7h1.15M94.5 275.1h1.15M95.4 279.8h1.15M96.2 278.9h1.15M102.3 275.4h1.15M99.9 282.3h1.15M102.4 276.7h1.15M91.3 273.8h1.15M98.1 277.8h1.15M99.1 276.5h1.15M94.1 278.9h1.15M102.4 276.3h1.15M98.7 279.8h1.15M96.8 278.2h1.15M102.6 273.7h1.15M98.2 273.4h1.15M93.9 268.9h1.15M99.8 286.5h1.15M97.0 282.8h1.15M102.9 275.0h1.15M102.3 274.9h1.15M89.7 280.1h1.15M97.4 275.8h1.15M101.6 280.6h1.15M97.7 277.7h1.15M100.0 273.3h1.15M101.8 274.4h1.15M100.3 280.4h1.15M102.7 268.9h1.15M95.5 275.4h1.15M95.3 276.0h1.15M98.2 276.9h1.15M108.2 277.6h1.15M98.8 273.6h1.15M97.6 275.8h1.15M101.2 271.7h1.15M97.7 272.4h1.15M91.4 279.5h1.15M97.8 278.0h1.15M105.5 282.5h1.15M98.2 278.0h1.15M96.5 275.7h1.15M92.0 279.6h1.15M99.0 280.7h1.15M106.2 273.2h1.15M99.3 275.8h1.15M103.8 275.7h1.15M105.7 286.0h1.15M107.2 284.7h1.15M100.2 276.9h1.15M92.8 277.5h1.15M91.8 272.8h1.15M103.8 280.6h1.15M94.0 285.6h1.15M94.0 272.2h1.15M104.8 283.1h1.15M97.8 279.2h1.15M92.1 279.9h1.15M96.4 280.6h1.15M96.0 274.7h1.15M101.7 279.3h1.15M97.0 270.7h1.15M100.0 282.3h1.15M101.9 271.2h1.15M99.0 277.6h1.15M105.1 276.0h1.15M97.5 283.1h1.15M93.3 273.8h1.15M94.6 281.2h1.15M95.4 279.2h1.15M95.4 282.4h1.15M100.7 274.0h1.15M101.4 278.0h1.15M98.6 272.8h1.15M106.6 277.1h1.15M97.1 277.2h1.15M98.4 271.8h1.15M103.1 270.4h1.15M102.4 269.2h1.15M92.8 281.4h1.15M92.4 276.8h1.15M99.7 282.1h1.15M106.0 280.1h1.15M100.9 281.3h1.15M102.8 270.3h1.15M101.2 273.3h1.15M109.5 281.5h1.15M95.6 284.1h1.15M94.7 278.9h1.15M93.4 275.3h1.15M99.5 271.3h1.15M101.1 280.9h1.15M105.3 281.0h1.15M100.3 280.0h1.15M95.3 274.6h1.15M104.4 272.2h1.15M96.3 280.3h1.15M98.1 271.8h1.15M96.0 273.8h1.15M93.4 274.3h1.15M101.7 274.4h1.15M99.4 273.9h1.15M97.7 279.4h1.15M100.2 275.8h1.15M97.4 280.9h1.15M97.0 270.9h1.15M101.5 279.3h1.15M98.1 274.4h1.15M104.1 281.7h1.15M100.2 276.6h1.15M101.5 283.6h1.15M95.9 280.0h1.15M89.9 274.4h1.15M101.2 277.2h1.15M93.6 279.9h1.15M101.5 279.7h1.15M97.1 276.0h1.15M97.8 277.8h1.15M99.0 276.3h1.15M101.6 281.2h1.15M99.2 281.8h1.15M91.5 286.8h1.15" stroke="#06063a" stroke-width="1.15" fill="none"/>
<path d="M134.1 257.5h1.7M129.8 263.9h1.7M118.6 267.2h1.7M125.5 268.8h1.7M130.9 270.9h1.7M128.8 273.1h1.7M124.5 274.7h1.7M121.3 276.8h1.7M129.8 275.7h1.7" stroke="#2828c8" stroke-width="1.7" fill="none"/>
<path d="M116.4 254.8h1.7M121.3 261.8h1.7M127.7 259.7h1.7M116.4 282.2h1.7M117.0 256.9h1.7" stroke="#101010" stroke-width="1.7" fill="none"/>
<rect x="73.3" y="187.7" width="126.50" height="105.00" fill="none" stroke="#000" stroke-width="1.8"/>
<line x1="63.70" y1="292.70" x2="73.30" y2="292.70" stroke="#000" stroke-width="1.3"/>
<line x1="67.50" y1="288.69" x2="73.30" y2="288.69" stroke="#000" stroke-width="1.3"/>
<line x1="67.50" y1="284.68" x2="73.30" y2="284.68" stroke="#000" stroke-width="1.3"/>
<line x1="67.50" y1="280.68" x2="73.30" y2="280.68" stroke="#000" stroke-width="1.3"/>
<line x1="67.50" y1="276.67" x2="73.30" y2="276.67" stroke="#000" stroke-width="1.3"/>
<line x1="63.70" y1="272.66" x2="73.30" y2="272.66" stroke="#000" stroke-width="1.3"/>
<line x1="67.50" y1="268.65" x2="73.30" y2="268.65" stroke="#000" stroke-width="1.3"/>
<line x1="67.50" y1="264.65" x2="73.30" y2="264.65" stroke="#000" stroke-width="1.3"/>
<line x1="67.50" y1="260.64" x2="73.30" y2="260.64" stroke="#000" stroke-width="1.3"/>
<line x1="67.50" y1="256.63" x2="73.30" y2="256.63" stroke="#000" stroke-width="1.3"/>
<line x1="63.70" y1="252.62" x2="73.30" y2="252.62" stroke="#000" stroke-width="1.3"/>
<line x1="67.50" y1="248.62" x2="73.30" y2="248.62" stroke="#000" stroke-width="1.3"/>
<line x1="67.50" y1="244.61" x2="73.30" y2="244.61" stroke="#000" stroke-width="1.3"/>
<line x1="67.50" y1="240.60" x2="73.30" y2="240.60" stroke="#000" stroke-width="1.3"/>
<line x1="67.50" y1="236.59" x2="73.30" y2="236.59" stroke="#000" stroke-width="1.3"/>
<line x1="63.70" y1="232.59" x2="73.30" y2="232.59" stroke="#000" stroke-width="1.3"/>
<line x1="67.50" y1="228.58" x2="73.30" y2="228.58" stroke="#000" stroke-width="1.3"/>
<line x1="67.50" y1="224.57" x2="73.30" y2="224.57" stroke="#000" stroke-width="1.3"/>
<line x1="67.50" y1="220.56" x2="73.30" y2="220.56" stroke="#000" stroke-width="1.3"/>
<line x1="67.50" y1="216.55" x2="73.30" y2="216.55" stroke="#000" stroke-width="1.3"/>
<line x1="63.70" y1="212.55" x2="73.30" y2="212.55" stroke="#000" stroke-width="1.3"/>
<line x1="67.50" y1="208.54" x2="73.30" y2="208.54" stroke="#000" stroke-width="1.3"/>
<line x1="67.50" y1="204.53" x2="73.30" y2="204.53" stroke="#000" stroke-width="1.3"/>
<line x1="67.50" y1="200.52" x2="73.30" y2="200.52" stroke="#000" stroke-width="1.3"/>
<line x1="67.50" y1="196.52" x2="73.30" y2="196.52" stroke="#000" stroke-width="1.3"/>
<line x1="63.70" y1="192.51" x2="73.30" y2="192.51" stroke="#000" stroke-width="1.3"/>
<line x1="67.50" y1="188.50" x2="73.30" y2="188.50" stroke="#000" stroke-width="1.3"/>
<text transform="translate(63.3,272.6618320610687) rotate(-90)" x="0" y="0" font-size="10.3" font-weight="bold" text-anchor="middle" fill="#000" textLength="11" lengthAdjust="spacingAndGlyphs" stroke="#000" stroke-width="0.35">50</text>
<text transform="translate(63.3,252.6236641221374) rotate(-90)" x="0" y="0" font-size="10.3" font-weight="bold" text-anchor="middle" fill="#000" textLength="16.4" lengthAdjust="spacingAndGlyphs" stroke="#000" stroke-width="0.35">100</text>
<text transform="translate(63.3,232.5854961832061) rotate(-90)" x="0" y="0" font-size="10.3" font-weight="bold" text-anchor="middle" fill="#000" textLength="16.4" lengthAdjust="spacingAndGlyphs" stroke="#000" stroke-width="0.35">150</text>
<text transform="translate(63.3,213.34732824427482) rotate(-90)" x="0" y="0" font-size="10.3" font-weight="bold" text-anchor="middle" fill="#000" textLength="16.4" lengthAdjust="spacingAndGlyphs" stroke="#000" stroke-width="0.35">200</text>
<text transform="translate(63.3,193.3091603053435) rotate(-90)" x="0" y="0" font-size="10.3" font-weight="bold" text-anchor="middle" fill="#000" textLength="16.4" lengthAdjust="spacingAndGlyphs" stroke="#000" stroke-width="0.35">250</text>
<text transform="translate(50.5,260.0) rotate(-90)" x="0" y="0" font-size="12.0" font-weight="bold" text-anchor="start" fill="#000" textLength="37.34" lengthAdjust="spacingAndGlyphs">SSC-A</text>
<text transform="translate(49.3,187.5) rotate(-90)" x="0" y="0" font-size="10.0" font-weight="bold" text-anchor="end" fill="#000" textLength="46.4" lengthAdjust="spacingAndGlyphs">(x 1,000)</text>
<line x1="74.46" y1="292.70" x2="74.46" y2="299.30" stroke="#000" stroke-width="1.3"/>
<line x1="78.41" y1="292.70" x2="78.41" y2="299.30" stroke="#000" stroke-width="1.3"/>
<line x1="81.48" y1="292.70" x2="81.48" y2="299.30" stroke="#000" stroke-width="1.3"/>
<line x1="83.98" y1="292.70" x2="83.98" y2="299.30" stroke="#000" stroke-width="1.3"/>
<line x1="86.10" y1="292.70" x2="86.10" y2="299.30" stroke="#000" stroke-width="1.3"/>
<line x1="87.93" y1="292.70" x2="87.93" y2="299.30" stroke="#000" stroke-width="1.3"/>
<line x1="89.55" y1="292.70" x2="89.55" y2="299.30" stroke="#000" stroke-width="1.3"/>
<line x1="91.00" y1="292.70" x2="91.00" y2="304.00" stroke="#000" stroke-width="1.4"/>
<line x1="100.52" y1="292.70" x2="100.52" y2="299.30" stroke="#000" stroke-width="1.3"/>
<line x1="106.09" y1="292.70" x2="106.09" y2="299.30" stroke="#000" stroke-width="1.3"/>
<line x1="110.05" y1="292.70" x2="110.05" y2="299.30" stroke="#000" stroke-width="1.3"/>
<line x1="113.11" y1="292.70" x2="113.11" y2="299.30" stroke="#000" stroke-width="1.3"/>
<line x1="115.62" y1="292.70" x2="115.62" y2="299.30" stroke="#000" stroke-width="1.3"/>
<line x1="117.73" y1="292.70" x2="117.73" y2="299.30" stroke="#000" stroke-width="1.3"/>
<line x1="119.57" y1="292.70" x2="119.57" y2="299.30" stroke="#000" stroke-width="1.3"/>
<line x1="121.19" y1="292.70" x2="121.19" y2="299.30" stroke="#000" stroke-width="1.3"/>
<line x1="122.63" y1="292.70" x2="122.63" y2="304.00" stroke="#000" stroke-width="1.4"/>
<line x1="132.16" y1="292.70" x2="132.16" y2="299.30" stroke="#000" stroke-width="1.3"/>
<line x1="137.73" y1="292.70" x2="137.73" y2="299.30" stroke="#000" stroke-width="1.3"/>
<line x1="141.68" y1="292.70" x2="141.68" y2="299.30" stroke="#000" stroke-width="1.3"/>
<line x1="144.74" y1="292.70" x2="144.74" y2="299.30" stroke="#000" stroke-width="1.3"/>
<line x1="147.25" y1="292.70" x2="147.25" y2="299.30" stroke="#000" stroke-width="1.3"/>
<line x1="149.37" y1="292.70" x2="149.37" y2="299.30" stroke="#000" stroke-width="1.3"/>
<line x1="151.20" y1="292.70" x2="151.20" y2="299.30" stroke="#000" stroke-width="1.3"/>
<line x1="152.82" y1="292.70" x2="152.82" y2="299.30" stroke="#000" stroke-width="1.3"/>
<line x1="154.27" y1="292.70" x2="154.27" y2="304.00" stroke="#000" stroke-width="1.4"/>
<line x1="163.79" y1="292.70" x2="163.79" y2="299.30" stroke="#000" stroke-width="1.3"/>
<line x1="169.36" y1="292.70" x2="169.36" y2="299.30" stroke="#000" stroke-width="1.3"/>
<line x1="173.31" y1="292.70" x2="173.31" y2="299.30" stroke="#000" stroke-width="1.3"/>
<line x1="176.38" y1="292.70" x2="176.38" y2="299.30" stroke="#000" stroke-width="1.3"/>
<line x1="178.88" y1="292.70" x2="178.88" y2="299.30" stroke="#000" stroke-width="1.3"/>
<line x1="181.00" y1="292.70" x2="181.00" y2="299.30" stroke="#000" stroke-width="1.3"/>
<line x1="182.83" y1="292.70" x2="182.83" y2="299.30" stroke="#000" stroke-width="1.3"/>
<line x1="184.45" y1="292.70" x2="184.45" y2="299.30" stroke="#000" stroke-width="1.3"/>
<line x1="185.90" y1="292.70" x2="185.90" y2="304.00" stroke="#000" stroke-width="1.4"/>
<line x1="195.42" y1="292.70" x2="195.42" y2="299.30" stroke="#000" stroke-width="1.3"/>
<text x="92.9" y="315.3" font-size="10.4" font-weight="bold" text-anchor="end" fill="#000" textLength="9.0" lengthAdjust="spacingAndGlyphs" stroke="#000" stroke-width="0.3">10</text>
<text x="93.4" y="309.09999999999997" font-size="8.4" font-weight="bold" text-anchor="start" fill="#000" textLength="4.8" lengthAdjust="spacingAndGlyphs">2</text>
<text x="124.4" y="315.3" font-size="10.4" font-weight="bold" text-anchor="end" fill="#000" textLength="9.0" lengthAdjust="spacingAndGlyphs" stroke="#000" stroke-width="0.3">10</text>
<text x="124.9" y="309.09999999999997" font-size="8.4" font-weight="bold" text-anchor="start" fill="#000" textLength="4.8" lengthAdjust="spacingAndGlyphs">3</text>
<text x="156.1" y="315.3" font-size="10.4" font-weight="bold" text-anchor="end" fill="#000" textLength="9.0" lengthAdjust="spacingAndGlyphs" stroke="#000" stroke-width="0.3">10</text>
<text x="156.6" y="309.09999999999997" font-size="8.4" font-weight="bold" text-anchor="start" fill="#000" textLength="4.8" lengthAdjust="spacingAndGlyphs">4</text>
<text x="187.8" y="315.3" font-size="10.4" font-weight="bold" text-anchor="end" fill="#000" textLength="9.0" lengthAdjust="spacingAndGlyphs" stroke="#000" stroke-width="0.3">10</text>
<text x="188.3" y="309.09999999999997" font-size="8.4" font-weight="bold" text-anchor="start" fill="#000" textLength="4.8" lengthAdjust="spacingAndGlyphs">5</text>
<text x="93.0" y="185.4" font-size="12.8" font-weight="normal" text-anchor="start" fill="#000" textLength="47.5" lengthAdjust="spacingAndGlyphs" stroke="#000" stroke-width="0.45">CB TIL-1</text>
<text x="97.5" y="331.0" font-size="12.4" font-weight="normal" text-anchor="start" fill="#000" textLength="78" lengthAdjust="spacingAndGlyphs" stroke="#000" stroke-width="0.55">TNF-a FITC-A</text>
<rect x="115.0" y="246.2" width="45.10" height="45.30" fill="none" stroke="#000" stroke-width="1.6"/>
<text x="133.9" y="274.6" font-size="16.0" font-weight="normal" text-anchor="start" fill="#000" textLength="15.2" lengthAdjust="spacingAndGlyphs" stroke="#000" stroke-width="0.25">P6</text>
<path d="M286.0 270.8h1.15M287.1 273.2h1.15M277.2 274.9h1.15M276.9 260.3h1.15M286.7 278.3h1.15M282.2 279.5h1.15M285.0 271.0h1.15M283.1 265.8h1.15M277.5 260.6h1.15M288.6 276.6h1.15M271.3 271.4h1.15M281.4 260.4h1.15M292.7 268.8h1.15M269.7 268.5h1.15M287.3 274.7h1.15M289.1 269.7h1.15M282.6 258.9h1.15M280.6 280.3h1.15M265.0 275.5h1.15M281.1 259.4h1.15M273.4 280.6h1.15M271.9 281.1h1.15M279.7 276.4h1.15M292.0 265.9h1.15M276.0 271.5h1.15M271.5 275.2h1.15M277.8 280.4h1.15M289.6 277.4h1.15M285.5 275.6h1.15M282.5 280.2h1.15M274.9 266.1h1.15M270.7 274.5h1.15M292.8 269.9h1.15M281.1 273.6h1.15M266.6 272.1h1.15M278.7 277.8h1.15M274.4 276.3h1.15M276.8 270.3h1.15M289.2 260.7h1.15M288.5 261.9h1.15M279.4 273.1h1.15M274.6 261.0h1.15M285.4 264.0h1.15M278.5 261.8h1.15M284.9 274.5h1.15M288.0 272.3h1.15M285.9 264.7h1.15M286.8 266.6h1.15M281.6 272.4h1.15M275.9 283.2h1.15M286.8 270.4h1.15M270.5 283.9h1.15M285.7 269.2h1.15M281.9 272.5h1.15M289.7 273.4h1.15M276.4 273.5h1.15M285.5 266.9h1.15M274.1 274.1h1.15M272.4 282.8h1.15M267.0 281.9h1.15M275.3 277.9h1.15M277.4 274.0h1.15M281.9 265.1h1.15M267.1 280.0h1.15M280.1 273.3h1.15M283.8 274.9h1.15M281.0 265.2h1.15M284.5 269.4h1.15M264.9 276.1h1.15M272.1 284.4h1.15M266.8 269.2h1.15M272.8 263.5h1.15M289.2 269.8h1.15M281.1 265.5h1.15M287.2 259.8h1.15M271.6 270.0h1.15M267.1 270.1h1.15M266.3 278.2h1.15M269.9 267.5h1.15M283.4 265.1h1.15M293.3 267.7h1.15M290.0 260.6h1.15M290.8 266.5h1.15M292.1 271.9h1.15M267.0 268.0h1.15M282.0 272.5h1.15M267.3 275.0h1.15M286.7 260.9h1.15M285.2 267.4h1.15M292.1 263.5h1.15M292.3 271.0h1.15M275.6 261.6h1.15M265.4 277.0h1.15M288.6 277.4h1.15M278.5 282.0h1.15M274.7 261.5h1.15M269.4 276.7h1.15M281.3 270.4h1.15M269.3 279.1h1.15M265.7 272.7h1.15M277.7 276.5h1.15M266.8 278.3h1.15M279.1 270.3h1.15M292.3 268.8h1.15M275.2 281.3h1.15M280.1 282.4h1.15M273.0 276.4h1.15M293.3 269.3h1.15M274.2 271.6h1.15M266.2 279.5h1.15M281.0 263.0h1.15M291.9 267.6h1.15M288.9 277.0h1.15M279.6 264.5h1.15M277.5 263.9h1.15M280.9 266.2h1.15M284.5 272.5h1.15M278.1 280.6h1.15M284.2 262.1h1.15M290.2 264.1h1.15M270.9 275.0h1.15M272.5 266.5h1.15M289.2 268.9h1.15M280.1 265.1h1.15M275.9 265.4h1.15M265.2 271.3h1.15M267.2 272.5h1.15M283.3 264.4h1.15M284.2 262.8h1.15M281.2 264.3h1.15M266.4 272.3h1.15M287.9 272.5h1.15M276.0 283.1h1.15M290.1 272.3h1.15M282.8 272.1h1.15M289.5 275.6h1.15M274.9 284.1h1.15M277.2 281.5h1.15M290.5 269.7h1.15M285.0 263.9h1.15M273.6 270.5h1.15M280.2 278.3h1.15M281.1 270.4h1.15M279.5 259.2h1.15M277.6 260.8h1.15M291.4 274.4h1.15M269.1 278.8h1.15M286.3 262.4h1.15M289.1 262.1h1.15M274.6 270.8h1.15M273.3 264.1h1.15M279.5 261.6h1.15M283.9 264.8h1.15M269.8 272.8h1.15M269.4 265.5h1.15M283.5 276.1h1.15M271.1 271.4h1.15M285.6 258.6h1.15M274.7 279.8h1.15M282.3 281.6h1.15M287.7 266.2h1.15M272.9 274.4h1.15M267.2 272.1h1.15M285.3 264.6h1.15M289.1 273.7h1.15M282.1 268.8h1.15M287.3 259.1h1.15M279.9 281.1h1.15M280.8 274.6h1.15M283.2 265.7h1.15M275.0 261.3h1.15M281.9 274.9h1.15M284.6 265.2h1.15M277.8 267.0h1.15M267.1 276.5h1.15M284.4 281.5h1.15M288.2 273.6h1.15M283.4 269.4h1.15M286.9 271.5h1.15M282.2 269.2h1.15M282.2 264.5h1.15M272.2 264.6h1.15M287.6 262.2h1.15M270.6 264.5h1.15M271.0 267.3h1.15M266.6 276.4h1.15M288.1 273.4h1.15M267.6 280.8h1.15M282.2 272.5h1.15M284.7 280.7h1.15M271.9 268.6h1.15M278.6 283.3h1.15M273.7 279.4h1.15M279.8 269.4h1.15M280.5 270.0h1.15M284.0 272.7h1.15M278.9 260.0h1.15M272.0 274.3h1.15M272.8 266.4h1.15M279.1 266.2h1.15M269.1 265.0h1.15M288.2 260.0h1.15M280.3 263.6h1.15M265.6 274.2h1.15M274.4 271.7h1.15M280.7 283.0h1.15M284.2 261.1h1.15M290.1 266.4h1.15M283.9 279.3h1.15M267.4 268.6h1.15M282.5 264.4h1.15M277.9 281.7h1.15M284.5 259.6h1.15M284.0 259.2h1.15M270.6 266.7h1.15M268.1 277.4h1.15M276.4 284.5h1.15M276.3 269.6h1.15M268.8 275.9h1.15M284.1 278.9h1.15M285.6 269.7h1.15M285.6 260.2h1.15M290.8 271.2h1.15M279.2 259.1h1.15M288.4 265.1h1.15M266.2 271.5h1.15M289.9 265.2h1.15M291.2 265.6h1.15M288.2 272.8h1.15M282.5 263.7h1.15M278.3 260.9h1.15M275.9 278.7h1.15M290.0 266.2h1.15M286.6 264.8h1.15M282.1 260.2h1.15M273.0 268.6h1.15M270.1 265.8h1.15M286.8 274.4h1.15M279.8 269.8h1.15M283.2 282.0h1.15M272.7 282.7h1.15M280.3 261.4h1.15M271.0 271.7h1.15M272.2 275.9h1.15M279.9 273.3h1.15M283.2 264.8h1.15M276.9 268.0h1.15M282.7 268.6h1.15M284.9 270.5h1.15M283.3 266.0h1.15M283.9 260.9h1.15M289.0 271.1h1.15M272.7 278.2h1.15M291.2 275.1h1.15M279.9 265.2h1.15M283.0 268.0h1.15M271.0 274.0h1.15M284.9 261.1h1.15M279.6 268.0h1.15M275.2 268.4h1.15M278.1 269.9h1.15M283.2 274.4h1.15M279.0 273.9h1.15M286.1 265.8h1.15M276.2 281.8h1.15M290.9 275.5h1.15M284.0 266.3h1.15M268.0 266.8h1.15M293.4 266.4h1.15M269.5 265.5h1.15M280.4 261.0h1.15M282.3 273.5h1.15M274.5 275.4h1.15M268.4 276.4h1.15M274.7 266.1h1.15M273.6 262.5h1.15M281.5 272.1h1.15M282.5 275.7h1.15M287.1 275.9h1.15M277.6 281.8h1.15M273.1 267.5h1.15M289.6 276.9h1.15M286.2 265.6h1.15M285.5 268.1h1.15M279.0 266.1h1.15M287.3 261.3h1.15M289.1 267.0h1.15M274.0 267.4h1.15M287.4 272.4h1.15M272.1 278.4h1.15M272.9 278.6h1.15M284.2 268.9h1.15M271.9 264.2h1.15M288.2 271.1h1.15M271.1 274.4h1.15M267.4 281.2h1.15M265.2 278.9h1.15M273.0 271.9h1.15M267.8 273.1h1.15M290.8 265.0h1.15M277.5 263.8h1.15M284.3 269.2h1.15M280.5 276.4h1.15M279.6 279.7h1.15M288.6 274.6h1.15M272.1 269.1h1.15M287.1 263.2h1.15M284.7 281.1h1.15M270.7 275.5h1.15M276.2 281.3h1.15M288.8 277.1h1.15M288.7 271.4h1.15M265.3 273.7h1.15M292.2 273.2h1.15M266.8 273.4h1.15M278.9 268.8h1.15M292.7 268.3h1.15M275.5 260.7h1.15M267.8 276.5h1.15M286.5 268.9h1.15M281.6 262.5h1.15M273.6 276.5h1.15M273.2 268.7h1.15M284.6 258.7h1.15M274.7 278.4h1.15M278.3 272.0h1.15M280.7 259.6h1.15M276.5 274.9h1.15M276.6 275.1h1.15M282.5 282.2h1.15M288.9 261.1h1.15M288.2 277.2h1.15M287.2 259.6h1.15M292.5 263.1h1.15M279.2 272.3h1.15M272.8 280.6h1.15M274.9 271.1h1.15M267.7 271.1h1.15M268.6 275.8h1.15M291.2 267.7h1.15M288.0 272.3h1.15M277.2 268.3h1.15M278.2 278.9h1.15M271.3 273.1h1.15M274.4 271.1h1.15M281.9 268.5h1.15M277.0 267.5h1.15M272.6 280.8h1.15M277.2 278.8h1.15M266.8 278.2h1.15M284.0 278.4h1.15M288.5 274.6h1.15M270.0 269.9h1.15M268.2 274.1h1.15M287.1 275.9h1.15M267.9 266.8h1.15M288.2 261.8h1.15M278.5 280.1h1.15M279.4 278.4h1.15M279.4 278.3h1.15M273.3 276.2h1.15M276.8 278.7h1.15M279.7 281.6h1.15M276.7 260.7h1.15M279.5 264.3h1.15M285.1 270.6h1.15M293.1 264.5h1.15M279.3 270.6h1.15M278.3 271.4h1.15M285.5 277.3h1.15M284.7 266.2h1.15M283.6 277.2h1.15M273.7 266.0h1.15M286.9 270.1h1.15M291.9 269.6h1.15M282.1 269.5h1.15M269.7 283.7h1.15M266.5 276.1h1.15M277.3 284.3h1.15M272.2 268.7h1.15M278.9 271.9h1.15M266.2 275.1h1.15M285.7 263.1h1.15M273.7 266.1h1.15M288.2 269.7h1.15M285.0 275.9h1.15M279.6 273.4h1.15M275.1 275.6h1.15M273.9 263.1h1.15M279.6 283.2h1.15M283.8 260.9h1.15M283.9 263.6h1.15M281.7 267.5h1.15M290.4 261.9h1.15M270.3 265.3h1.15M273.0 266.7h1.15M265.2 275.2h1.15M285.8 261.7h1.15M278.5 278.4h1.15M279.9 269.1h1.15M269.5 268.4h1.15M284.5 274.0h1.15M282.3 262.5h1.15M274.0 279.0h1.15M280.2 263.2h1.15M280.3 267.0h1.15M277.9 270.9h1.15M268.9 281.0h1.15M282.4 281.0h1.15M277.8 276.5h1.15M274.3 267.8h1.15M269.6 269.3h1.15M274.4 261.0h1.15M289.4 262.0h1.15M272.0 263.0h1.15M271.1 276.7h1.15M276.0 261.8h1.15M272.2 263.1h1.15M284.1 279.5h1.15M287.8 275.6h1.15M288.5 275.0h1.15M280.4 270.1h1.15M280.7 282.7h1.15M278.9 268.9h1.15M290.3 273.9h1.15M280.2 260.0h1.15M282.5 279.7h1.15M282.5 270.4h1.15M273.1 266.5h1.15M285.9 277.9h1.15M292.1 267.3h1.15M288.3 274.8h1.15M279.8 272.0h1.15M287.0 278.3h1.15M277.5 272.8h1.15M270.3 273.9h1.15M271.6 266.5h1.15M277.8 283.9h1.15M290.2 271.3h1.15M286.3 270.5h1.15M277.9 283.5h1.15M283.0 260.5h1.15M285.1 275.7h1.15M272.7 276.4h1.15M288.1 268.9h1.15M266.6 270.3h1.15M280.8 259.5h1.15M279.0 260.9h1.15M271.5 282.0h1.15M286.4 260.1h1.15M283.4 272.2h1.15M274.6 276.3h1.15M266.0 278.5h1.15M275.4 283.7h1.15M284.1 278.5h1.15M282.9 280.0h1.15M278.4 272.7h1.15M282.9 261.7h1.15M283.7 264.9h1.15M290.4 274.1h1.15M287.3 260.9h1.15M268.4 266.2h1.15M270.0 275.5h1.15M267.5 272.2h1.15M281.4 265.9h1.15M289.8 268.5h1.15M287.1 269.7h1.15M288.9 270.0h1.15M282.0 279.5h1.15M274.4 262.1h1.15M278.5 266.3h1.15M282.7 279.6h1.15M291.8 263.2h1.15M269.8 272.8h1.15M273.9 275.5h1.15M277.3 283.7h1.15M288.2 276.1h1.15M290.2 260.7h1.15M276.8 267.4h1.15M287.2 267.5h1.15M275.2 267.8h1.15M269.4 276.5h1.15M283.3 273.0h1.15M270.8 276.6h1.15M269.6 282.1h1.15M283.5 264.3h1.15M273.9 263.5h1.15M267.9 280.6h1.15M286.3 271.1h1.15M273.6 264.0h1.15M286.8 259.6h1.15M270.0 278.5h1.15M293.4 268.6h1.15M270.2 275.3h1.15M267.9 272.3h1.15M273.7 275.0h1.15M276.7 277.1h1.15M279.2 276.8h1.15M273.7 281.9h1.15M274.3 276.0h1.15M280.7 281.3h1.15M274.1 277.9h1.15M290.9 265.9h1.15M290.9 267.1h1.15M289.3 276.7h1.15M291.9 265.2h1.15M283.2 278.5h1.15M274.8 262.3h1.15M284.2 269.5h1.15M272.0 282.3h1.15M277.6 279.5h1.15M270.1 273.9h1.15M287.6 271.9h1.15M287.6 264.8h1.15M271.1 265.1h1.15M269.3 283.0h1.15M277.3 264.6h1.15M277.3 268.3h1.15M273.6 271.6h1.15M275.6 264.0h1.15M276.0 270.6h1.15M292.0 265.5h1.15M282.3 280.6h1.15M289.4 262.6h1.15M278.6 272.2h1.15M287.6 264.4h1.15M292.5 264.5h1.15M276.3 276.3h1.15M276.2 261.4h1.15M285.3 262.2h1.15M283.4 259.7h1.15M283.6 279.5h1.15M271.1 265.3h1.15M290.6 275.3h1.15M278.8 273.5h1.15M276.1 278.2h1.15M275.5 271.8h1.15M282.5 278.3h1.15M274.3 272.8h1.15M280.0 267.4h1.15M282.5 264.7h1.15M276.9 276.2h1.15M266.8 278.5h1.15M282.4 262.8h1.15M280.0 266.3h1.15M281.5 279.6h1.15M281.5 278.0h1.15M271.2 281.1h1.15M269.6 270.0h1.15M269.3 266.0h1.15M272.3 269.7h1.15M285.1 260.9h1.15M270.2 276.0h1.15M278.2 282.7h1.15M271.0 271.7h1.15M280.3 263.6h1.15M284.3 276.0h1.15M267.7 273.2h1.15M288.9 259.7h1.15M272.3 279.2h1.15M268.3 278.8h1.15M273.8 281.5h1.15M284.6 259.5h1.15M273.1 263.2h1.15M284.8 280.8h1.15M288.9 277.6h1.15M274.9 274.6h1.15M281.4 275.5h1.15M289.2 273.2h1.15M276.6 279.9h1.15M293.2 268.1h1.15M270.8 279.3h1.15M278.2 276.8h1.15M277.1 279.5h1.15M268.1 275.6h1.15M272.3 279.8h1.15M269.3 279.4h1.15M274.5 270.6h1.15M280.7 263.2h1.15M273.8 273.8h1.15M271.5 271.1h1.15M267.2 269.6h1.15M285.9 262.3h1.15M285.1 267.1h1.15M269.9 271.0h1.15M284.1 269.0h1.15M273.3 274.1h1.15M277.7 265.9h1.15M274.1 270.3h1.15M268.8 266.3h1.15M279.0 259.5h1.15M292.3 265.5h1.15M280.6 280.0h1.15M273.5 266.2h1.15M287.6 277.1h1.15M285.1 269.8h1.15M278.9 260.8h1.15M283.1 271.9h1.15M283.7 268.0h1.15M275.1 272.6h1.15M290.3 275.2h1.15M277.9 282.2h1.15M269.8 280.3h1.15M281.5 266.6h1.15M287.7 264.4h1.15M287.5 262.9h1.15M290.8 267.3h1.15M279.9 270.9h1.15M276.6 262.2h1.15M275.9 283.6h1.15M268.0 269.9h1.15M275.5 273.2h1.15M264.9 276.7h1.15M292.0 267.6h1.15M270.4 277.3h1.15M280.5 261.9h1.15M268.7 274.8h1.15M270.5 268.6h1.15M274.2 281.5h1.15M280.9 264.6h1.15M273.4 267.4h1.15M285.5 266.4h1.15M275.1 277.4h1.15M281.9 263.6h1.15M283.8 280.2h1.15M275.5 267.1h1.15M286.7 274.7h1.15M276.0 269.0h1.15M277.7 261.8h1.15M275.6 274.4h1.15M273.4 273.2h1.15M282.9 275.5h1.15M288.3 274.1h1.15M289.9 274.8h1.15M275.8 266.6h1.15M280.2 277.6h1.15M266.0 275.9h1.15M282.6 259.7h1.15M293.4 268.6h1.15M272.3 278.8h1.15M281.1 264.5h1.15M284.6 263.8h1.15M276.3 274.7h1.15M276.3 262.7h1.15M283.6 262.6h1.15M277.4 278.7h1.15M283.8 273.9h1.15M273.4 265.8h1.15M273.5 275.9h1.15M287.1 264.9h1.15M278.0 263.1h1.15M282.1 265.3h1.15M281.0 271.9h1.15M267.8 277.3h1.15M268.8 271.6h1.15M271.6 269.7h1.15M269.8 273.5h1.15M280.1 281.8h1.15M279.1 260.6h1.15M293.6 266.7h1.15M287.1 273.8h1.15M274.2 275.9h1.15M291.3 271.8h1.15M280.6 260.0h1.15M273.1 261.9h1.15M274.8 268.2h1.15M282.5 279.6h1.15M278.4 282.9h1.15M283.7 259.5h1.15M287.6 272.2h1.15M290.5 274.1h1.15M280.6 267.0h1.15M281.8 276.4h1.15M273.5 266.7h1.15M279.3 277.0h1.15M280.6 274.1h1.15M267.4 270.4h1.15M284.1 261.5h1.15M279.7 273.5h1.15M276.4 282.0h1.15M287.6 279.2h1.15M271.2 263.4h1.15M287.1 261.7h1.15M278.2 280.0h1.15M273.9 265.9h1.15M266.5 271.0h1.15M268.0 268.5h1.15M291.2 272.0h1.15M266.1 278.0h1.15M286.9 271.9h1.15M286.0 277.4h1.15M270.3 275.2h1.15M282.7 275.4h1.15M278.4 275.2h1.15M285.4 279.8h1.15M286.0 272.1h1.15M273.3 264.7h1.15M278.9 266.2h1.15M280.4 271.5h1.15M278.0 268.1h1.15M276.7 269.2h1.15M280.1 276.9h1.15M278.6 267.7h1.15M284.5 264.1h1.15M266.8 275.6h1.15M269.1 274.9h1.15M287.8 263.3h1.15M284.5 273.7h1.15M267.9 266.4h1.15M269.8 280.2h1.15M280.0 272.5h1.15M283.3 281.0h1.15M269.2 279.2h1.15M285.1 269.3h1.15M276.6 269.8h1.15M272.4 275.7h1.15M274.6 264.0h1.15M275.5 276.5h1.15M268.3 268.6h1.15M269.7 270.6h1.15M283.2 259.9h1.15M289.5 270.3h1.15M274.6 270.3h1.15M270.7 281.3h1.15M286.6 277.7h1.15M275.8 279.8h1.15M288.9 262.1h1.15M286.6 270.6h1.15M281.3 263.6h1.15M293.6 266.3h1.15M272.1 277.7h1.15M265.1 275.7h1.15M286.7 264.6h1.15M284.6 260.4h1.15M290.1 262.5h1.15M275.7 262.5h1.15M270.7 268.4h1.15M289.0 260.2h1.15M267.8 267.5h1.15M273.3 280.4h1.15M285.6 264.3h1.15M277.1 262.0h1.15M290.8 270.1h1.15M277.4 280.3h1.15M268.1 266.4h1.15M270.8 276.7h1.15M265.7 278.5h1.15M276.1 282.6h1.15M275.6 264.8h1.15M273.7 269.7h1.15M290.8 262.9h1.15M268.7 272.1h1.15M276.2 260.1h1.15M266.0 278.6h1.15M279.1 267.0h1.15M276.1 269.4h1.15M278.2 265.1h1.15M268.2 278.4h1.15M280.6 279.7h1.15M264.4 276.9h1.15M292.8 271.3h1.15M280.9 272.2h1.15M286.0 265.9h1.15M274.0 274.4h1.15M280.7 282.6h1.15M284.1 275.4h1.15M275.6 272.4h1.15M285.9 277.0h1.15M269.1 278.4h1.15M284.9 279.1h1.15M281.2 265.3h1.15M274.1 263.4h1.15M270.4 273.5h1.15M271.9 268.7h1.15M266.7 281.2h1.15M272.1 267.4h1.15M276.2 280.8h1.15M278.9 269.7h1.15M280.5 262.3h1.15M282.2 263.9h1.15M286.1 279.1h1.15M291.7 265.9h1.15M275.8 262.8h1.15M281.6 281.3h1.15M285.8 274.4h1.15M265.2 274.0h1.15M267.8 280.2h1.15M285.5 263.7h1.15M272.0 262.9h1.15M283.8 261.0h1.15M279.2 278.6h1.15M268.5 267.9h1.15M270.9 265.3h1.15M288.0 271.3h1.15M282.7 260.0h1.15M279.4 280.6h1.15M289.1 276.4h1.15M272.6 273.2h1.15M275.0 264.7h1.15M280.1 270.1h1.15M272.1 276.5h1.15M278.3 273.7h1.15M286.2 263.2h1.15M285.1 271.8h1.15M286.8 259.9h1.15M269.3 277.3h1.15M268.6 282.1h1.15M272.8 279.8h1.15M281.2 276.9h1.15M287.9 268.8h1.15M276.2 264.1h1.15M292.0 271.8h1.15M281.5 263.6h1.15M279.7 283.6h1.15M279.6 266.1h1.15M272.1 270.0h1.15M285.2 280.7h1.15M271.0 273.9h1.15M275.1 274.1h1.15M272.0 280.9h1.15M268.4 268.5h1.15M278.4 262.2h1.15M283.4 273.3h1.15M285.3 273.8h1.15M281.3 259.2h1.15M273.3 283.9h1.15M287.6 260.3h1.15M280.7 260.2h1.15M290.2 264.6h1.15M282.4 277.2h1.15M268.3 275.1h1.15M284.5 281.1h1.15M291.8 274.0h1.15M279.7 282.5h1.15M268.4 271.9h1.15M275.8 272.4h1.15M283.7 279.7h1.15M274.6 272.0h1.15M285.0 273.8h1.15M271.8 273.6h1.15M275.3 280.6h1.15M282.1 274.1h1.15M273.7 281.7h1.15M278.7 266.3h1.15M277.6 281.2h1.15M264.9 278.2h1.15M274.3 275.6h1.15M280.0 264.9h1.15M292.0 268.2h1.15M274.6 270.1h1.15M279.8 280.2h1.15M288.4 272.5h1.15M269.0 274.7h1.15M265.2 272.4h1.15M289.9 266.5h1.15M268.6 275.0h1.15M279.8 281.5h1.15M269.6 265.0h1.15M289.2 262.7h1.15M292.5 272.1h1.15M265.6 278.4h1.15M289.8 265.5h1.15M278.3 268.6h1.15M286.5 265.5h1.15M265.0 277.9h1.15M267.8 273.3h1.15M278.1 262.6h1.15M278.1 284.3h1.15M275.1 280.0h1.15M282.5 272.4h1.15M276.0 267.7h1.15M272.8 272.5h1.15M271.7 284.2h1.15M285.6 281.0h1.15M286.9 272.6h1.15M276.1 276.6h1.15M267.7 269.3h1.15M285.9 269.4h1.15M278.8 275.1h1.15M288.7 264.8h1.15M275.0 270.4h1.15M286.0 268.6h1.15M292.2 268.1h1.15M291.5 266.7h1.15M268.1 281.5h1.15M284.5 275.6h1.15M271.7 283.0h1.15M279.2 280.9h1.15M279.6 276.7h1.15M275.3 267.1h1.15M275.0 261.8h1.15M278.3 278.5h1.15M268.2 282.4h1.15M290.1 267.3h1.15M270.2 282.1h1.15M273.4 276.5h1.15M277.8 277.4h1.15M273.3 278.9h1.15M286.1 273.7h1.15M266.1 278.2h1.15M270.5 271.3h1.15M279.8 275.2h1.15M271.7 277.6h1.15M269.6 282.6h1.15M269.8 272.7h1.15M279.4 282.5h1.15M276.1 282.4h1.15M281.0 271.0h1.15M277.6 274.5h1.15M272.1 273.9h1.15M270.0 281.5h1.15M280.6 281.7h1.15M279.0 266.1h1.15M285.8 277.1h1.15M282.2 263.7h1.15M279.7 268.3h1.15M280.6 267.1h1.15M289.2 271.7h1.15M275.7 278.4h1.15M276.5 262.7h1.15M287.2 278.5h1.15M275.5 263.5h1.15M278.4 266.3h1.15M271.8 272.8h1.15M269.0 276.5h1.15M291.5 272.8h1.15M284.8 266.0h1.15M284.4 261.3h1.15M279.2 277.5h1.15M275.8 263.3h1.15M289.5 268.8h1.15M275.7 264.6h1.15M292.7 269.0h1.15M283.8 263.6h1.15M266.9 272.0h1.15M273.7 275.5h1.15M270.5 277.4h1.15M289.3 269.7h1.15M270.2 282.4h1.15M272.8 271.8h1.15M286.9 271.8h1.15M289.6 265.5h1.15M265.0 275.7h1.15M283.9 265.3h1.15M289.4 265.2h1.15M291.4 266.8h1.15M271.3 273.9h1.15M287.7 262.2h1.15M289.5 275.7h1.15M289.7 270.3h1.15M271.6 282.0h1.15M290.8 268.0h1.15M272.3 280.1h1.15M276.4 270.9h1.15M272.2 262.4h1.15M293.3 269.5h1.15M267.3 274.2h1.15M277.6 263.6h1.15M288.4 269.7h1.15M281.0 261.2h1.15M270.6 271.3h1.15M283.6 267.6h1.15M292.5 263.4h1.15M286.2 261.7h1.15M289.5 269.1h1.15M267.8 279.4h1.15M287.5 268.5h1.15M278.7 265.8h1.15M269.3 276.4h1.15M274.9 282.1h1.15M271.4 264.8h1.15M277.1 271.4h1.15M276.8 273.0h1.15M279.4 259.4h1.15M284.1 264.8h1.15M274.8 268.9h1.15M291.5 265.8h1.15M271.7 275.0h1.15M291.3 275.1h1.15M283.3 262.7h1.15M279.4 266.3h1.15M276.7 261.5h1.15M270.6 272.5h1.15M280.5 275.8h1.15M291.8 270.8h1.15M289.8 269.3h1.15M267.0 270.2h1.15M280.8 267.0h1.15M268.3 270.2h1.15M279.1 268.1h1.15M274.5 282.5h1.15M277.7 268.6h1.15M277.5 266.2h1.15M275.7 281.6h1.15M281.6 279.0h1.15M282.9 262.2h1.15M274.7 281.4h1.15M288.9 262.8h1.15M272.7 273.7h1.15M265.3 276.8h1.15M284.4 274.1h1.15M266.7 275.0h1.15M283.0 271.2h1.15M271.0 274.8h1.15M280.8 279.2h1.15M271.8 272.9h1.15M274.9 283.2h1.15M271.9 267.5h1.15M276.2 265.1h1.15M279.2 272.0h1.15M289.8 271.0h1.15M276.1 271.7h1.15M269.3 269.8h1.15M279.2 283.1h1.15M282.0 259.1h1.15M280.7 283.2h1.15M278.0 268.8h1.15M285.4 269.3h1.15M270.1 266.6h1.15M290.7 270.6h1.15M285.0 279.3h1.15M270.7 268.5h1.15M277.2 279.3h1.15M267.3 269.2h1.15M292.2 266.3h1.15M288.8 276.1h1.15M271.6 270.3h1.15M267.0 270.4h1.15M268.8 276.4h1.15M286.4 277.0h1.15M273.4 279.0h1.15M276.0 275.6h1.15M290.2 264.4h1.15M284.4 264.4h1.15M292.2 271.8h1.15M286.8 259.5h1.15M286.5 277.1h1.15M288.0 272.9h1.15M289.7 270.1h1.15M287.4 272.5h1.15M277.1 282.3h1.15M279.3 260.0h1.15M275.8 268.3h1.15M283.2 280.6h1.15M292.3 267.0h1.15M272.8 268.5h1.15M288.1 261.0h1.15M272.9 265.4h1.15M288.1 259.7h1.15M273.4 278.4h1.15M266.8 278.4h1.15M281.1 267.9h1.15M286.9 273.3h1.15M287.1 267.3h1.15M291.9 272.9h1.15M279.2 271.4h1.15M271.2 271.6h1.15M278.2 279.4h1.15M271.3 263.6h1.15M279.1 264.3h1.15M282.4 260.0h1.15M273.2 279.6h1.15M268.4 282.1h1.15M270.5 271.8h1.15M267.5 278.2h1.15M282.5 268.9h1.15M272.8 272.9h1.15M287.3 268.3h1.15M275.3 277.7h1.15M282.1 271.1h1.15M274.0 280.9h1.15M279.2 274.4h1.15M280.4 265.4h1.15M283.6 258.9h1.15M267.6 281.4h1.15M272.5 271.3h1.15M283.0 265.7h1.15M272.1 273.1h1.15M290.4 270.1h1.15M268.6 280.4h1.15M267.0 276.9h1.15M291.6 270.7h1.15M273.6 269.4h1.15M276.9 275.5h1.15M290.3 272.7h1.15M272.5 267.7h1.15M279.6 277.1h1.15M280.9 262.2h1.15M280.8 262.2h1.15M288.9 270.8h1.15M270.0 283.0h1.15M273.7 273.2h1.15M287.7 265.6h1.15M286.6 271.8h1.15M279.2 279.4h1.15M293.1 265.6h1.15M286.7 267.5h1.15M277.4 279.6h1.15M285.3 274.5h1.15M279.5 264.4h1.15M265.7 278.7h1.15M284.2 278.6h1.15M292.6 264.0h1.15M269.0 276.9h1.15M285.4 262.8h1.15M289.9 271.2h1.15M274.2 272.4h1.15M278.3 273.3h1.15M269.0 281.3h1.15M267.5 282.4h1.15M287.5 269.9h1.15M273.5 280.0h1.15M266.6 274.3h1.15M267.9 281.4h1.15M288.3 270.7h1.15M279.1 282.4h1.15M270.5 269.4h1.15M287.4 275.2h1.15M289.7 273.4h1.15M291.3 262.6h1.15M266.8 281.7h1.15M270.3 274.4h1.15M286.5 278.4h1.15M277.8 281.9h1.15M288.0 268.8h1.15M277.9 282.5h1.15M268.4 276.9h1.15M271.4 263.9h1.15M287.0 261.1h1.15M291.0 273.5h1.15M283.5 259.3h1.15M280.8 276.3h1.15M283.8 260.1h1.15M277.8 268.9h1.15M269.4 282.5h1.15M282.2 276.0h1.15M280.2 265.2h1.15M284.1 280.2h1.15M278.5 260.9h1.15M282.3 264.9h1.15M290.5 267.9h1.15M278.1 279.7h1.15M272.9 271.4h1.15M285.8 263.9h1.15M269.2 274.5h1.15M291.7 263.2h1.15M283.0 264.4h1.15M280.0 261.2h1.15M278.2 268.6h1.15M279.4 277.8h1.15M281.4 256.2h1.15M263.6 267.5h1.15M268.0 265.1h1.15M293.0 276.3h1.15M289.2 280.8h1.15M291.9 280.2h1.15M265.0 279.4h1.15M274.5 259.4h1.15M290.6 260.4h1.15M278.6 258.5h1.15M277.3 258.4h1.15M262.2 286.3h1.15M263.7 261.6h1.15M268.4 260.5h1.15M262.3 278.1h1.15M275.1 259.9h1.15M290.1 252.1h1.15M295.0 264.4h1.15M281.6 284.1h1.15M258.7 278.1h1.15M286.7 257.2h1.15M265.1 265.6h1.15M265.6 280.6h1.15M261.8 271.4h1.15M290.0 256.8h1.15M286.7 280.9h1.15M286.4 282.6h1.15M291.8 277.0h1.15M268.2 283.5h1.15M286.8 255.3h1.15M283.1 282.6h1.15M265.1 263.8h1.15M292.4 258.3h1.15M269.7 261.8h1.15M292.5 273.1h1.15M289.2 279.1h1.15M283.1 283.0h1.15M293.0 256.4h1.15M294.3 263.8h1.15M281.7 285.6h1.15M267.7 262.5h1.15M264.8 278.7h1.15M284.8 257.9h1.15M255.7 272.5h1.15M294.1 267.5h1.15M270.3 260.2h1.15M263.3 267.7h1.15M263.9 285.3h1.15M283.2 285.6h1.15M293.7 267.8h1.15M289.1 255.5h1.15M268.2 286.1h1.15M265.5 282.7h1.15M265.9 281.0h1.15M258.0 278.6h1.15M263.7 266.7h1.15M279.1 252.0h1.15M276.7 255.9h1.15M257.8 282.2h1.15M278.9 256.9h1.15M261.3 277.6h1.15M263.3 271.6h1.15M293.8 274.7h1.15" stroke="#1414f0" stroke-width="1.15" fill="none"/>
<path d="M276.4 270.7h1.15M278.0 269.8h1.15M278.6 275.2h1.15M282.3 277.9h1.15M274.1 278.1h1.15M275.3 273.3h1.15M277.6 278.8h1.15M276.0 279.7h1.15M281.1 274.2h1.15M280.5 269.7h1.15M273.1 278.0h1.15M273.9 269.0h1.15M284.0 277.4h1.15M275.1 276.7h1.15M281.1 273.3h1.15M274.6 269.7h1.15M279.8 273.7h1.15M276.1 273.9h1.15M278.7 274.9h1.15M270.7 280.0h1.15M282.0 276.3h1.15M276.9 273.2h1.15M282.2 274.9h1.15M273.9 275.9h1.15M276.8 274.6h1.15M273.3 273.6h1.15M280.7 277.6h1.15M283.5 276.9h1.15M278.9 280.4h1.15M273.8 272.3h1.15M279.0 280.8h1.15M275.2 271.4h1.15M278.9 275.6h1.15M277.0 280.8h1.15M277.4 282.2h1.15M283.9 271.4h1.15M283.8 278.3h1.15M283.5 268.1h1.15M283.9 277.6h1.15M278.8 280.4h1.15M270.9 280.2h1.15M280.7 277.1h1.15M277.0 268.5h1.15M273.7 270.6h1.15M285.5 277.2h1.15M276.7 275.0h1.15M280.3 278.2h1.15M282.3 275.4h1.15M275.4 274.2h1.15M274.0 277.7h1.15M280.0 275.7h1.15M275.9 274.8h1.15M277.7 276.0h1.15M275.1 275.0h1.15M274.0 270.3h1.15M287.5 273.5h1.15M273.7 271.8h1.15M283.7 274.9h1.15M274.3 275.8h1.15M277.7 277.0h1.15M278.9 270.2h1.15M281.8 275.3h1.15M278.6 278.8h1.15M277.4 277.7h1.15M276.0 272.4h1.15M282.3 277.0h1.15M277.1 275.1h1.15M271.8 269.5h1.15M272.1 272.1h1.15M279.9 276.0h1.15M279.0 268.5h1.15M280.1 278.1h1.15M278.5 281.4h1.15M278.8 283.7h1.15M278.8 272.1h1.15M270.6 273.0h1.15M278.5 278.3h1.15M265.9 268.0h1.15M281.0 279.5h1.15M281.4 275.9h1.15M282.6 266.9h1.15M278.1 278.9h1.15M283.7 278.9h1.15M271.8 279.3h1.15M276.7 279.9h1.15M279.0 273.9h1.15M278.7 283.1h1.15M287.5 270.6h1.15M280.7 273.8h1.15M278.2 279.0h1.15M283.1 278.8h1.15M277.3 277.0h1.15M278.3 272.5h1.15M275.1 278.7h1.15M273.9 268.6h1.15M282.7 274.2h1.15M282.7 269.7h1.15M274.7 273.1h1.15M283.0 276.2h1.15M282.1 275.2h1.15M286.8 274.4h1.15M280.9 266.9h1.15M269.6 275.0h1.15M271.9 272.2h1.15M280.1 276.3h1.15M278.3 273.5h1.15M277.6 276.5h1.15M286.1 271.8h1.15M289.3 273.0h1.15M274.2 275.5h1.15M277.5 279.9h1.15M275.4 281.3h1.15M278.6 284.7h1.15M276.3 275.2h1.15M277.4 277.9h1.15M272.6 272.0h1.15M274.5 281.8h1.15M282.5 279.6h1.15M282.1 276.6h1.15M273.8 271.3h1.15M271.0 277.4h1.15M273.5 278.4h1.15M283.7 279.7h1.15M274.1 279.1h1.15M275.3 275.8h1.15M281.0 270.6h1.15M277.5 275.8h1.15M285.5 278.9h1.15M275.3 276.6h1.15M279.2 274.4h1.15M276.3 277.5h1.15M282.8 274.5h1.15M277.9 274.0h1.15M276.7 276.0h1.15M271.2 272.4h1.15M275.0 271.8h1.15M279.1 270.3h1.15M284.7 277.5h1.15M278.7 270.0h1.15M266.6 272.2h1.15M274.8 282.0h1.15M273.6 274.9h1.15M277.0 276.5h1.15M276.2 270.8h1.15M280.1 266.1h1.15M283.4 275.3h1.15M277.9 277.2h1.15M278.0 270.1h1.15M278.9 265.3h1.15M278.6 277.9h1.15M280.4 277.0h1.15M280.8 273.9h1.15M276.2 280.2h1.15M284.8 276.3h1.15M278.1 275.2h1.15M282.6 278.7h1.15M282.9 273.4h1.15M279.7 277.2h1.15M280.4 277.7h1.15M285.5 277.4h1.15M278.1 270.3h1.15M284.0 278.7h1.15M275.3 278.0h1.15M276.2 272.2h1.15M280.0 275.8h1.15M288.2 274.1h1.15M275.9 268.2h1.15M276.2 272.7h1.15M274.2 273.8h1.15M280.0 277.3h1.15M282.4 272.3h1.15M276.9 272.9h1.15M278.4 277.1h1.15M268.5 277.6h1.15M283.5 272.4h1.15M281.2 271.6h1.15M277.3 270.2h1.15M275.9 275.6h1.15M274.8 274.7h1.15M281.8 268.9h1.15M278.0 271.7h1.15M278.8 276.2h1.15M280.0 277.9h1.15M278.4 275.6h1.15M279.8 276.1h1.15M271.9 276.2h1.15M279.7 267.6h1.15M283.7 276.4h1.15M273.2 275.4h1.15M280.8 277.0h1.15M280.2 270.4h1.15M278.2 280.3h1.15M281.0 271.2h1.15M280.1 279.2h1.15M286.2 271.4h1.15M274.2 272.3h1.15M284.2 280.6h1.15M279.0 282.4h1.15M270.3 274.8h1.15M275.3 278.7h1.15M279.0 281.1h1.15M273.5 273.6h1.15M281.9 284.2h1.15M278.9 278.9h1.15M283.1 278.1h1.15M285.6 278.3h1.15M284.9 281.3h1.15M274.4 273.1h1.15M283.9 269.1h1.15M280.0 279.5h1.15M279.9 276.9h1.15M284.8 271.1h1.15M274.9 283.5h1.15M272.7 273.5h1.15M285.6 270.5h1.15M285.6 275.8h1.15M282.2 276.1h1.15M283.6 281.8h1.15M286.3 281.8h1.15M280.2 276.3h1.15M279.3 271.8h1.15M274.6 278.5h1.15M281.4 273.2h1.15M280.4 270.1h1.15M269.9 277.0h1.15M282.4 271.4h1.15M284.4 283.0h1.15M280.1 285.5h1.15M269.9 272.6h1.15M274.4 270.5h1.15M280.7 271.1h1.15M270.7 279.1h1.15M290.8 278.1h1.15M276.0 280.4h1.15M279.6 275.6h1.15M278.9 276.4h1.15M278.0 274.9h1.15M276.4 270.9h1.15M276.1 275.2h1.15M283.2 277.3h1.15M283.3 277.6h1.15M281.1 270.0h1.15M287.1 280.5h1.15M276.3 275.7h1.15M286.8 275.4h1.15M281.0 272.1h1.15M279.8 274.9h1.15M278.7 271.1h1.15M281.6 270.3h1.15M281.2 270.7h1.15M282.9 285.8h1.15M281.6 282.5h1.15M269.2 278.1h1.15M272.9 276.6h1.15M282.9 270.0h1.15M279.5 270.7h1.15M276.8 271.5h1.15M281.6 274.5h1.15M276.1 276.4h1.15M279.1 276.7h1.15M276.8 276.7h1.15M277.1 275.8h1.15M279.4 275.0h1.15M278.6 277.0h1.15M274.8 272.7h1.15M279.2 274.4h1.15M275.0 278.6h1.15M273.8 275.2h1.15M285.9 273.1h1.15M279.4 274.3h1.15M281.1 281.1h1.15M284.2 279.5h1.15M276.9 282.0h1.15M276.6 279.8h1.15M277.2 275.8h1.15M272.7 278.5h1.15M288.3 284.0h1.15M282.9 280.4h1.15M276.5 271.8h1.15M277.3 277.3h1.15M281.0 280.5h1.15M275.5 277.0h1.15M278.4 274.7h1.15M277.4 276.5h1.15M279.1 276.4h1.15M272.2 274.6h1.15M273.7 280.5h1.15M281.5 271.6h1.15M275.2 282.0h1.15M288.0 281.1h1.15M279.7 270.4h1.15M278.3 276.7h1.15M282.1 270.6h1.15M275.3 272.5h1.15M278.9 270.1h1.15M273.8 272.6h1.15M277.9 272.0h1.15M286.6 277.0h1.15M281.8 276.6h1.15M287.0 271.4h1.15M274.6 278.3h1.15M279.7 277.3h1.15M281.4 269.2h1.15M283.2 270.5h1.15M277.9 278.0h1.15M270.8 276.8h1.15M276.6 276.1h1.15M287.0 272.8h1.15M272.6 269.6h1.15M279.8 278.2h1.15M271.5 276.9h1.15M279.4 280.0h1.15M269.9 272.7h1.15M280.6 278.2h1.15M276.7 276.7h1.15M278.9 273.1h1.15M274.8 272.6h1.15M278.4 278.3h1.15M288.0 280.6h1.15M278.7 272.5h1.15M281.8 273.8h1.15M276.0 280.5h1.15M284.8 276.8h1.15M271.7 281.6h1.15M286.7 276.9h1.15M276.2 280.1h1.15M279.6 276.2h1.15M287.0 273.7h1.15M278.2 275.5h1.15M276.5 277.4h1.15M288.3 273.7h1.15M278.4 284.1h1.15M277.3 273.1h1.15M269.6 277.1h1.15M282.7 277.7h1.15M279.5 271.4h1.15M276.4 278.6h1.15M281.1 275.6h1.15M274.1 269.9h1.15M276.0 275.9h1.15M277.1 276.7h1.15M283.2 276.1h1.15M280.2 274.4h1.15M281.4 264.8h1.15M270.2 275.5h1.15M276.7 274.4h1.15M269.4 276.5h1.15M274.4 275.8h1.15M281.3 280.7h1.15M286.9 271.1h1.15M276.9 275.7h1.15M273.6 280.3h1.15M277.3 274.5h1.15M269.9 277.3h1.15M281.5 283.8h1.15M280.6 269.3h1.15M282.6 273.2h1.15M282.3 282.1h1.15M277.1 276.5h1.15M279.2 273.8h1.15M290.5 271.7h1.15M278.0 279.0h1.15M283.8 274.0h1.15M278.3 273.0h1.15M275.9 273.4h1.15M276.0 273.0h1.15M277.7 279.6h1.15M274.0 277.3h1.15M270.3 277.5h1.15M285.2 276.8h1.15M277.0 277.7h1.15M280.9 277.4h1.15M281.7 268.2h1.15M274.6 267.4h1.15M276.4 271.1h1.15M282.9 269.7h1.15M287.8 276.3h1.15M273.8 278.9h1.15M275.5 270.2h1.15M275.1 275.4h1.15M283.6 277.2h1.15M273.1 277.4h1.15M273.2 278.5h1.15M279.7 272.5h1.15M278.9 279.1h1.15M272.3 276.9h1.15M279.4 274.7h1.15M278.1 269.8h1.15M288.8 267.4h1.15M288.2 286.0h1.15M275.1 276.5h1.15M275.9 277.6h1.15M278.4 272.7h1.15M279.5 276.2h1.15M284.9 268.9h1.15M277.5 275.3h1.15M277.4 277.1h1.15M279.0 273.5h1.15M276.5 282.2h1.15M275.9 277.0h1.15M284.4 267.5h1.15M273.4 278.6h1.15M282.0 277.7h1.15M284.4 278.2h1.15M284.0 272.3h1.15M278.1 274.9h1.15M276.5 272.1h1.15M273.3 279.9h1.15M280.3 283.6h1.15M281.5 280.9h1.15M274.8 272.5h1.15M277.0 276.4h1.15M274.0 275.8h1.15M278.9 276.3h1.15M273.7 278.7h1.15M273.7 282.3h1.15M271.7 273.3h1.15M275.7 272.3h1.15M278.3 272.2h1.15" stroke="#06063a" stroke-width="1.15" fill="none"/>
<path d="M302.9 276.8h1.7" stroke="#2828c8" stroke-width="1.7" fill="none"/>
<path d="M300.7 265.2h1.7M313.0 273.1h1.7" stroke="#101010" stroke-width="1.7" fill="none"/>
<rect x="253.6" y="187.9" width="126.30" height="104.80" fill="none" stroke="#000" stroke-width="1.8"/>
<line x1="244.00" y1="292.70" x2="253.60" y2="292.70" stroke="#000" stroke-width="1.3"/>
<line x1="247.80" y1="288.70" x2="253.60" y2="288.70" stroke="#000" stroke-width="1.3"/>
<line x1="247.80" y1="284.70" x2="253.60" y2="284.70" stroke="#000" stroke-width="1.3"/>
<line x1="247.80" y1="280.70" x2="253.60" y2="280.70" stroke="#000" stroke-width="1.3"/>
<line x1="247.80" y1="276.70" x2="253.60" y2="276.70" stroke="#000" stroke-width="1.3"/>
<line x1="244.00" y1="272.70" x2="253.60" y2="272.70" stroke="#000" stroke-width="1.3"/>
<line x1="247.80" y1="268.70" x2="253.60" y2="268.70" stroke="#000" stroke-width="1.3"/>
<line x1="247.80" y1="264.70" x2="253.60" y2="264.70" stroke="#000" stroke-width="1.3"/>
<line x1="247.80" y1="260.70" x2="253.60" y2="260.70" stroke="#000" stroke-width="1.3"/>
<line x1="247.80" y1="256.70" x2="253.60" y2="256.70" stroke="#000" stroke-width="1.3"/>
<line x1="244.00" y1="252.70" x2="253.60" y2="252.70" stroke="#000" stroke-width="1.3"/>
<line x1="247.80" y1="248.70" x2="253.60" y2="248.70" stroke="#000" stroke-width="1.3"/>
<line x1="247.80" y1="244.70" x2="253.60" y2="244.70" stroke="#000" stroke-width="1.3"/>
<line x1="247.80" y1="240.70" x2="253.60" y2="240.70" stroke="#000" stroke-width="1.3"/>
<line x1="247.80" y1="236.70" x2="253.60" y2="236.70" stroke="#000" stroke-width="1.3"/>
<line x1="244.00" y1="232.70" x2="253.60" y2="232.70" stroke="#000" stroke-width="1.3"/>
<line x1="247.80" y1="228.70" x2="253.60" y2="228.70" stroke="#000" stroke-width="1.3"/>
<line x1="247.80" y1="224.70" x2="253.60" y2="224.70" stroke="#000" stroke-width="1.3"/>
<line x1="247.80" y1="220.70" x2="253.60" y2="220.70" stroke="#000" stroke-width="1.3"/>
<line x1="247.80" y1="216.70" x2="253.60" y2="216.70" stroke="#000" stroke-width="1.3"/>
<line x1="244.00" y1="212.70" x2="253.60" y2="212.70" stroke="#000" stroke-width="1.3"/>
<line x1="247.80" y1="208.70" x2="253.60" y2="208.70" stroke="#000" stroke-width="1.3"/>
<line x1="247.80" y1="204.70" x2="253.60" y2="204.70" stroke="#000" stroke-width="1.3"/>
<line x1="247.80" y1="200.70" x2="253.60" y2="200.70" stroke="#000" stroke-width="1.3"/>
<line x1="247.80" y1="196.70" x2="253.60" y2="196.70" stroke="#000" stroke-width="1.3"/>
<line x1="244.00" y1="192.70" x2="253.60" y2="192.70" stroke="#000" stroke-width="1.3"/>
<line x1="247.80" y1="188.70" x2="253.60" y2="188.70" stroke="#000" stroke-width="1.3"/>
<text transform="translate(243.6,272.7) rotate(-90)" x="0" y="0" font-size="10.3" font-weight="bold" text-anchor="middle" fill="#000" textLength="11" lengthAdjust="spacingAndGlyphs" stroke="#000" stroke-width="0.35">50</text>
<text transform="translate(243.6,252.7) rotate(-90)" x="0" y="0" font-size="10.3" font-weight="bold" text-anchor="middle" fill="#000" textLength="16.4" lengthAdjust="spacingAndGlyphs" stroke="#000" stroke-width="0.35">100</text>
<text transform="translate(243.6,232.7) rotate(-90)" x="0" y="0" font-size="10.3" font-weight="bold" text-anchor="middle" fill="#000" textLength="16.4" lengthAdjust="spacingAndGlyphs" stroke="#000" stroke-width="0.35">150</text>
<text transform="translate(243.6,213.5) rotate(-90)" x="0" y="0" font-size="10.3" font-weight="bold" text-anchor="middle" fill="#000" textLength="16.4" lengthAdjust="spacingAndGlyphs" stroke="#000" stroke-width="0.35">200</text>
<text transform="translate(243.6,193.50000000000003) rotate(-90)" x="0" y="0" font-size="10.3" font-weight="bold" text-anchor="middle" fill="#000" textLength="16.4" lengthAdjust="spacingAndGlyphs" stroke="#000" stroke-width="0.35">250</text>
<text transform="translate(230.8,259.5) rotate(-90)" x="0" y="0" font-size="12.0" font-weight="bold" text-anchor="start" fill="#000" textLength="35.79" lengthAdjust="spacingAndGlyphs">SSC-A</text>
<text transform="translate(229.60000000000002,190) rotate(-90)" x="0" y="0" font-size="10.0" font-weight="bold" text-anchor="end" fill="#000" textLength="44.48" lengthAdjust="spacingAndGlyphs">(x 1,000)</text>
<line x1="258.35" y1="292.70" x2="258.35" y2="299.30" stroke="#000" stroke-width="1.3"/>
<line x1="261.43" y1="292.70" x2="261.43" y2="299.30" stroke="#000" stroke-width="1.3"/>
<line x1="263.95" y1="292.70" x2="263.95" y2="299.30" stroke="#000" stroke-width="1.3"/>
<line x1="266.07" y1="292.70" x2="266.07" y2="299.30" stroke="#000" stroke-width="1.3"/>
<line x1="267.92" y1="292.70" x2="267.92" y2="299.30" stroke="#000" stroke-width="1.3"/>
<line x1="269.54" y1="292.70" x2="269.54" y2="299.30" stroke="#000" stroke-width="1.3"/>
<line x1="271.00" y1="292.70" x2="271.00" y2="304.00" stroke="#000" stroke-width="1.4"/>
<line x1="280.57" y1="292.70" x2="280.57" y2="299.30" stroke="#000" stroke-width="1.3"/>
<line x1="286.17" y1="292.70" x2="286.17" y2="299.30" stroke="#000" stroke-width="1.3"/>
<line x1="290.15" y1="292.70" x2="290.15" y2="299.30" stroke="#000" stroke-width="1.3"/>
<line x1="293.23" y1="292.70" x2="293.23" y2="299.30" stroke="#000" stroke-width="1.3"/>
<line x1="295.75" y1="292.70" x2="295.75" y2="299.30" stroke="#000" stroke-width="1.3"/>
<line x1="297.87" y1="292.70" x2="297.87" y2="299.30" stroke="#000" stroke-width="1.3"/>
<line x1="299.72" y1="292.70" x2="299.72" y2="299.30" stroke="#000" stroke-width="1.3"/>
<line x1="301.34" y1="292.70" x2="301.34" y2="299.30" stroke="#000" stroke-width="1.3"/>
<line x1="302.80" y1="292.70" x2="302.80" y2="304.00" stroke="#000" stroke-width="1.4"/>
<line x1="312.37" y1="292.70" x2="312.37" y2="299.30" stroke="#000" stroke-width="1.3"/>
<line x1="317.97" y1="292.70" x2="317.97" y2="299.30" stroke="#000" stroke-width="1.3"/>
<line x1="321.95" y1="292.70" x2="321.95" y2="299.30" stroke="#000" stroke-width="1.3"/>
<line x1="325.03" y1="292.70" x2="325.03" y2="299.30" stroke="#000" stroke-width="1.3"/>
<line x1="327.55" y1="292.70" x2="327.55" y2="299.30" stroke="#000" stroke-width="1.3"/>
<line x1="329.67" y1="292.70" x2="329.67" y2="299.30" stroke="#000" stroke-width="1.3"/>
<line x1="331.52" y1="292.70" x2="331.52" y2="299.30" stroke="#000" stroke-width="1.3"/>
<line x1="333.14" y1="292.70" x2="333.14" y2="299.30" stroke="#000" stroke-width="1.3"/>
<line x1="334.60" y1="292.70" x2="334.60" y2="304.00" stroke="#000" stroke-width="1.4"/>
<line x1="344.17" y1="292.70" x2="344.17" y2="299.30" stroke="#000" stroke-width="1.3"/>
<line x1="349.77" y1="292.70" x2="349.77" y2="299.30" stroke="#000" stroke-width="1.3"/>
<line x1="353.75" y1="292.70" x2="353.75" y2="299.30" stroke="#000" stroke-width="1.3"/>
<line x1="356.83" y1="292.70" x2="356.83" y2="299.30" stroke="#000" stroke-width="1.3"/>
<line x1="359.35" y1="292.70" x2="359.35" y2="299.30" stroke="#000" stroke-width="1.3"/>
<line x1="361.47" y1="292.70" x2="361.47" y2="299.30" stroke="#000" stroke-width="1.3"/>
<line x1="363.32" y1="292.70" x2="363.32" y2="299.30" stroke="#000" stroke-width="1.3"/>
<line x1="364.94" y1="292.70" x2="364.94" y2="299.30" stroke="#000" stroke-width="1.3"/>
<line x1="366.40" y1="292.70" x2="366.40" y2="304.00" stroke="#000" stroke-width="1.4"/>
<line x1="375.97" y1="292.70" x2="375.97" y2="299.30" stroke="#000" stroke-width="1.3"/>
<text x="272.9" y="315.3" font-size="10.4" font-weight="bold" text-anchor="end" fill="#000" textLength="9.0" lengthAdjust="spacingAndGlyphs" stroke="#000" stroke-width="0.3">10</text>
<text x="273.4" y="309.09999999999997" font-size="8.4" font-weight="bold" text-anchor="start" fill="#000" textLength="4.8" lengthAdjust="spacingAndGlyphs">2</text>
<text x="303.7" y="315.3" font-size="10.4" font-weight="bold" text-anchor="end" fill="#000" textLength="9.0" lengthAdjust="spacingAndGlyphs" stroke="#000" stroke-width="0.3">10</text>
<text x="304.2" y="309.09999999999997" font-size="8.4" font-weight="bold" text-anchor="start" fill="#000" textLength="4.8" lengthAdjust="spacingAndGlyphs">3</text>
<text x="335.9" y="315.3" font-size="10.4" font-weight="bold" text-anchor="end" fill="#000" textLength="9.0" lengthAdjust="spacingAndGlyphs" stroke="#000" stroke-width="0.3">10</text>
<text x="336.4" y="309.09999999999997" font-size="8.4" font-weight="bold" text-anchor="start" fill="#000" textLength="4.8" lengthAdjust="spacingAndGlyphs">4</text>
<text x="368.29999999999995" y="315.3" font-size="10.4" font-weight="bold" text-anchor="end" fill="#000" textLength="9.0" lengthAdjust="spacingAndGlyphs" stroke="#000" stroke-width="0.3">10</text>
<text x="368.79999999999995" y="309.09999999999997" font-size="8.4" font-weight="bold" text-anchor="start" fill="#000" textLength="4.8" lengthAdjust="spacingAndGlyphs">5</text>
<text x="273.0" y="185.6" font-size="12.8" font-weight="normal" text-anchor="start" fill="#000" textLength="47.5" lengthAdjust="spacingAndGlyphs" stroke="#000" stroke-width="0.45">PB TIL-1</text>
<text x="277.5" y="331.0" font-size="12.4" font-weight="normal" text-anchor="start" fill="#000" textLength="78" lengthAdjust="spacingAndGlyphs" stroke="#000" stroke-width="0.55">TNF-a FITC-A</text>
<rect x="296.8" y="247.4" width="43.60" height="44.10" fill="none" stroke="#000" stroke-width="1.6"/>
<text x="315.4" y="274.4" font-size="16.0" font-weight="normal" text-anchor="start" fill="#000" textLength="15.4" lengthAdjust="spacingAndGlyphs" stroke="#000" stroke-width="0.25">P6</text>
<rect x="432.00" y="24.10" width="28.90" height="127.30" stroke="#000" stroke-width="1.8" fill="#9e9e9e"/>
<line x1="446.40" y1="18.90" x2="446.40" y2="29.50" stroke="#000" stroke-width="1.8"/>
<line x1="438.50" y1="18.90" x2="454.30" y2="18.90" stroke="#000" stroke-width="1.6"/>
<line x1="438.50" y1="29.50" x2="454.30" y2="29.50" stroke="#000" stroke-width="1.6"/>
<line x1="446.40" y1="151.40" x2="446.40" y2="153.90" stroke="#000" stroke-width="1.3"/>
<rect x="476.00" y="26.00" width="29.90" height="125.40" stroke="#000" stroke-width="1.8" fill="#f1b87c"/>
<line x1="491.00" y1="20.80" x2="491.00" y2="31.60" stroke="#000" stroke-width="1.8"/>
<line x1="482.85" y1="20.80" x2="499.15" y2="20.80" stroke="#000" stroke-width="1.6"/>
<line x1="482.85" y1="31.60" x2="499.15" y2="31.60" stroke="#000" stroke-width="1.6"/>
<line x1="491.00" y1="151.40" x2="491.00" y2="153.90" stroke="#000" stroke-width="1.3"/>
<line x1="424.30" y1="5.00" x2="424.30" y2="152.30" stroke="#000" stroke-width="1.8"/>
<line x1="423.40" y1="151.40" x2="513.50" y2="151.40" stroke="#000" stroke-width="1.8"/>
<line x1="422.10" y1="151.40" x2="424.30" y2="151.40" stroke="#000" stroke-width="1.4"/>
<text x="421.3" y="155.26000000000002" font-size="10.2" font-weight="bold" text-anchor="end" fill="#000" textLength="5.41" lengthAdjust="spacingAndGlyphs" stroke="#000" stroke-width="0.25">0</text>
<line x1="422.10" y1="115.00" x2="424.30" y2="115.00" stroke="#000" stroke-width="1.4"/>
<text x="421.3" y="118.86" font-size="10.2" font-weight="bold" text-anchor="end" fill="#000" textLength="5.41" lengthAdjust="spacingAndGlyphs" stroke="#000" stroke-width="0.25">1</text>
<line x1="422.10" y1="78.60" x2="424.30" y2="78.60" stroke="#000" stroke-width="1.4"/>
<text x="421.3" y="82.46" font-size="10.2" font-weight="bold" text-anchor="end" fill="#000" textLength="5.41" lengthAdjust="spacingAndGlyphs" stroke="#000" stroke-width="0.25">2</text>
<line x1="422.10" y1="42.20" x2="424.30" y2="42.20" stroke="#000" stroke-width="1.4"/>
<text x="421.3" y="46.06" font-size="10.2" font-weight="bold" text-anchor="end" fill="#000" textLength="5.41" lengthAdjust="spacingAndGlyphs" stroke="#000" stroke-width="0.25">3</text>
<line x1="422.10" y1="5.80" x2="424.30" y2="5.80" stroke="#000" stroke-width="1.4"/>
<text x="421.3" y="9.66" font-size="10.2" font-weight="bold" text-anchor="end" fill="#000" textLength="5.41" lengthAdjust="spacingAndGlyphs" stroke="#000" stroke-width="0.25">4</text>
<text x="446.3" y="162.7" font-size="10" font-weight="bold" text-anchor="middle" fill="#000" textLength="14.4" lengthAdjust="spacingAndGlyphs" stroke="#000" stroke-width="0.25">CB</text>
<text x="491.0" y="162.7" font-size="10" font-weight="bold" text-anchor="middle" fill="#000" textLength="14.2" lengthAdjust="spacingAndGlyphs" stroke="#000" stroke-width="0.25">PB</text>
<text x="439.0" y="11.4" font-size="9.3" font-weight="bold" text-anchor="start" fill="#000" textLength="59.3" lengthAdjust="spacingAndGlyphs" stroke="#000" stroke-width="0.25">IFN-&#947;; p=NS</text>
<text transform="translate(402.6,74.7) rotate(-90)" x="0" y="0" font-size="11.6" font-weight="bold" text-anchor="middle" fill="#000" textLength="89.6" lengthAdjust="spacingAndGlyphs" stroke="#000" stroke-width="0.25">% of CD8 T cells</text>
<rect x="434.70" y="224.80" width="28.80" height="97.80" stroke="#000" stroke-width="1.8" fill="#9e9e9e"/>
<line x1="448.80" y1="217.20" x2="448.80" y2="231.90" stroke="#000" stroke-width="1.8"/>
<line x1="440.90" y1="217.20" x2="456.70" y2="217.20" stroke="#000" stroke-width="1.6"/>
<line x1="440.90" y1="231.90" x2="456.70" y2="231.90" stroke="#000" stroke-width="1.6"/>
<line x1="448.80" y1="322.60" x2="448.80" y2="325.10" stroke="#000" stroke-width="1.3"/>
<rect x="478.50" y="276.70" width="28.80" height="45.90" stroke="#000" stroke-width="1.8" fill="#f1b87c"/>
<line x1="492.90" y1="270.40" x2="492.90" y2="283.00" stroke="#000" stroke-width="1.8"/>
<line x1="485.10" y1="270.40" x2="500.70" y2="270.40" stroke="#000" stroke-width="1.6"/>
<line x1="485.10" y1="283.00" x2="500.70" y2="283.00" stroke="#000" stroke-width="1.6"/>
<line x1="492.90" y1="322.60" x2="492.90" y2="325.10" stroke="#000" stroke-width="1.3"/>
<line x1="427.20" y1="177.70" x2="427.20" y2="323.50" stroke="#000" stroke-width="1.8"/>
<line x1="426.30" y1="322.60" x2="515.60" y2="322.60" stroke="#000" stroke-width="1.8"/>
<line x1="425.00" y1="322.60" x2="427.20" y2="322.60" stroke="#000" stroke-width="1.4"/>
<text x="423.8" y="326.68" font-size="9.6" font-weight="bold" text-anchor="end" fill="#000" stroke="#000" stroke-width="0.25">0.0</text>
<line x1="425.00" y1="274.70" x2="427.20" y2="274.70" stroke="#000" stroke-width="1.4"/>
<text x="423.8" y="278.78" font-size="9.6" font-weight="bold" text-anchor="end" fill="#000" stroke="#000" stroke-width="0.25">0.5</text>
<line x1="425.00" y1="226.30" x2="427.20" y2="226.30" stroke="#000" stroke-width="1.4"/>
<text x="423.8" y="230.38000000000002" font-size="9.6" font-weight="bold" text-anchor="end" fill="#000" stroke="#000" stroke-width="0.25">1.0</text>
<line x1="425.00" y1="178.50" x2="427.20" y2="178.50" stroke="#000" stroke-width="1.4"/>
<text x="423.8" y="182.58" font-size="9.6" font-weight="bold" text-anchor="end" fill="#000" stroke="#000" stroke-width="0.25">1.5</text>
<text x="448.9" y="334.3" font-size="10" font-weight="bold" text-anchor="middle" fill="#000" textLength="14.4" lengthAdjust="spacingAndGlyphs" stroke="#000" stroke-width="0.25">CB</text>
<text x="492.8" y="334.3" font-size="10" font-weight="bold" text-anchor="middle" fill="#000" textLength="14.2" lengthAdjust="spacingAndGlyphs" stroke="#000" stroke-width="0.25">PB</text>
<text x="433.3" y="195.0" font-size="10.7" font-weight="bold" text-anchor="start" fill="#000" textLength="81.4" lengthAdjust="spacingAndGlyphs" stroke="#000" stroke-width="0.25">TNF-&#945;; p&lt;0.0001</text>
<text transform="translate(404.4,248.2) rotate(-90)" x="0" y="0" font-size="11.6" font-weight="bold" text-anchor="middle" fill="#000" textLength="94.2" lengthAdjust="spacingAndGlyphs" stroke="#000" stroke-width="0.25">% of CD8 T cells</text>
<rect x="298.90" y="391.10" width="28.00" height="108.90" stroke="#000" stroke-width="1.8" fill="#9e9e9e"/>
<line x1="313.10" y1="386.70" x2="313.10" y2="395.70" stroke="#000" stroke-width="1.8"/>
<line x1="305.20" y1="386.70" x2="321.00" y2="386.70" stroke="#000" stroke-width="1.6"/>
<line x1="305.20" y1="395.70" x2="321.00" y2="395.70" stroke="#000" stroke-width="1.6"/>
<line x1="313.10" y1="500.00" x2="313.10" y2="502.50" stroke="#000" stroke-width="1.3"/>
<rect x="342.00" y="414.70" width="28.00" height="85.30" stroke="#000" stroke-width="1.8" fill="#f1b87c"/>
<line x1="355.80" y1="407.50" x2="355.80" y2="422.10" stroke="#000" stroke-width="1.8"/>
<line x1="348.10" y1="407.50" x2="363.50" y2="407.50" stroke="#000" stroke-width="1.6"/>
<line x1="348.10" y1="422.10" x2="363.50" y2="422.10" stroke="#000" stroke-width="1.6"/>
<line x1="355.80" y1="500.00" x2="355.80" y2="502.50" stroke="#000" stroke-width="1.3"/>
<line x1="291.60" y1="353.80" x2="291.60" y2="500.90" stroke="#000" stroke-width="1.8"/>
<line x1="290.70" y1="500.00" x2="378.20" y2="500.00" stroke="#000" stroke-width="1.8"/>
<line x1="289.40" y1="500.00" x2="291.60" y2="500.00" stroke="#000" stroke-width="1.4"/>
<text x="288.4" y="503.8" font-size="10.0" font-weight="bold" text-anchor="end" fill="#000" textLength="5.3" lengthAdjust="spacingAndGlyphs" stroke="#000" stroke-width="0.25">0</text>
<line x1="289.40" y1="470.80" x2="291.60" y2="470.80" stroke="#000" stroke-width="1.4"/>
<text x="288.4" y="474.6" font-size="10.0" font-weight="bold" text-anchor="end" fill="#000" textLength="10.6" lengthAdjust="spacingAndGlyphs" stroke="#000" stroke-width="0.25">20</text>
<line x1="289.40" y1="441.70" x2="291.60" y2="441.70" stroke="#000" stroke-width="1.4"/>
<text x="288.4" y="445.5" font-size="10.0" font-weight="bold" text-anchor="end" fill="#000" textLength="10.6" lengthAdjust="spacingAndGlyphs" stroke="#000" stroke-width="0.25">40</text>
<line x1="289.40" y1="412.60" x2="291.60" y2="412.60" stroke="#000" stroke-width="1.4"/>
<text x="288.4" y="416.40000000000003" font-size="10.0" font-weight="bold" text-anchor="end" fill="#000" textLength="10.6" lengthAdjust="spacingAndGlyphs" stroke="#000" stroke-width="0.25">60</text>
<line x1="289.40" y1="383.70" x2="291.60" y2="383.70" stroke="#000" stroke-width="1.4"/>
<text x="288.4" y="387.5" font-size="10.0" font-weight="bold" text-anchor="end" fill="#000" textLength="10.6" lengthAdjust="spacingAndGlyphs" stroke="#000" stroke-width="0.25">80</text>
<line x1="289.40" y1="354.60" x2="291.60" y2="354.60" stroke="#000" stroke-width="1.4"/>
<text x="288.4" y="358.40000000000003" font-size="10.0" font-weight="bold" text-anchor="end" fill="#000" textLength="15.9" lengthAdjust="spacingAndGlyphs" stroke="#000" stroke-width="0.25">100</text>
<text x="313.5" y="510.9" font-size="10" font-weight="bold" text-anchor="middle" fill="#000" textLength="14.4" lengthAdjust="spacingAndGlyphs" stroke="#000" stroke-width="0.25">CB</text>
<text x="355.9" y="510.9" font-size="10" font-weight="bold" text-anchor="middle" fill="#000" textLength="14.2" lengthAdjust="spacingAndGlyphs" stroke="#000" stroke-width="0.25">PB</text>
<text x="294.2" y="369.9" font-size="10.3" font-weight="bold" text-anchor="start" fill="#000" textLength="90.0" lengthAdjust="spacingAndGlyphs" stroke="#000" stroke-width="0.25">perforin; p&lt;0.0003</text>
<text transform="translate(265.2,423.5) rotate(-90)" x="0" y="0" font-size="11.6" font-weight="bold" text-anchor="middle" fill="#000" textLength="93.0" lengthAdjust="spacingAndGlyphs" stroke="#000" stroke-width="0.25">% of CD8 T cells</text>
<rect x="439.00" y="370.30" width="25.50" height="129.10" stroke="#000" stroke-width="1.8" fill="#9e9e9e"/>
<line x1="451.70" y1="365.80" x2="451.70" y2="375.20" stroke="#000" stroke-width="1.8"/>
<line x1="444.70" y1="365.80" x2="458.70" y2="365.80" stroke="#000" stroke-width="1.6"/>
<line x1="444.70" y1="375.20" x2="458.70" y2="375.20" stroke="#000" stroke-width="1.6"/>
<line x1="451.70" y1="499.40" x2="451.70" y2="501.90" stroke="#000" stroke-width="1.3"/>
<rect x="477.80" y="393.30" width="26.30" height="106.10" stroke="#000" stroke-width="1.8" fill="#f1b87c"/>
<line x1="490.80" y1="389.10" x2="490.80" y2="397.30" stroke="#000" stroke-width="1.8"/>
<line x1="483.70" y1="389.10" x2="497.90" y2="389.10" stroke="#000" stroke-width="1.6"/>
<line x1="483.70" y1="397.30" x2="497.90" y2="397.30" stroke="#000" stroke-width="1.6"/>
<line x1="490.80" y1="499.40" x2="490.80" y2="501.90" stroke="#000" stroke-width="1.3"/>
<line x1="432.00" y1="353.20" x2="432.00" y2="500.30" stroke="#000" stroke-width="1.8"/>
<line x1="431.10" y1="499.40" x2="510.80" y2="499.40" stroke="#000" stroke-width="1.8"/>
<line x1="429.80" y1="499.40" x2="432.00" y2="499.40" stroke="#000" stroke-width="1.4"/>
<text x="429.2" y="503.14" font-size="9.8" font-weight="bold" text-anchor="end" fill="#000" textLength="5.19" lengthAdjust="spacingAndGlyphs" stroke="#000" stroke-width="0.25">0</text>
<line x1="429.80" y1="470.20" x2="432.00" y2="470.20" stroke="#000" stroke-width="1.4"/>
<text x="429.2" y="473.94" font-size="9.8" font-weight="bold" text-anchor="end" fill="#000" textLength="15.58" lengthAdjust="spacingAndGlyphs" stroke="#000" stroke-width="0.25">100</text>
<line x1="429.80" y1="441.00" x2="432.00" y2="441.00" stroke="#000" stroke-width="1.4"/>
<text x="429.2" y="444.74" font-size="9.8" font-weight="bold" text-anchor="end" fill="#000" textLength="15.58" lengthAdjust="spacingAndGlyphs" stroke="#000" stroke-width="0.25">200</text>
<line x1="429.80" y1="411.90" x2="432.00" y2="411.90" stroke="#000" stroke-width="1.4"/>
<text x="429.2" y="415.64" font-size="9.8" font-weight="bold" text-anchor="end" fill="#000" textLength="15.58" lengthAdjust="spacingAndGlyphs" stroke="#000" stroke-width="0.25">300</text>
<line x1="429.80" y1="383.10" x2="432.00" y2="383.10" stroke="#000" stroke-width="1.4"/>
<text x="429.2" y="386.84000000000003" font-size="9.8" font-weight="bold" text-anchor="end" fill="#000" textLength="15.58" lengthAdjust="spacingAndGlyphs" stroke="#000" stroke-width="0.25">400</text>
<line x1="429.80" y1="354.00" x2="432.00" y2="354.00" stroke="#000" stroke-width="1.4"/>
<text x="429.2" y="357.74" font-size="9.8" font-weight="bold" text-anchor="end" fill="#000" textLength="15.58" lengthAdjust="spacingAndGlyphs" stroke="#000" stroke-width="0.25">500</text>
<text x="451.5" y="510.6" font-size="10" font-weight="bold" text-anchor="middle" fill="#000" textLength="14.4" lengthAdjust="spacingAndGlyphs" stroke="#000" stroke-width="0.25">CB</text>
<text x="491.0" y="510.6" font-size="10" font-weight="bold" text-anchor="middle" fill="#000" textLength="14.2" lengthAdjust="spacingAndGlyphs" stroke="#000" stroke-width="0.25">PB</text>
<text x="438.3" y="359.7" font-size="10.6" font-weight="bold" text-anchor="start" fill="#000" textLength="80.8" lengthAdjust="spacingAndGlyphs" stroke="#000" stroke-width="0.25">perforin; p&lt;0.0001</text>
<text transform="translate(399.2,421.7) rotate(-90)" x="0" y="0" font-size="9.0" font-weight="bold" text-anchor="middle" fill="#000" textLength="127.6" lengthAdjust="spacingAndGlyphs" stroke="#000" stroke-width="0.25">Median flourescence intensity</text>
<text transform="translate(408.0,422.4) rotate(-90)" x="0" y="0" font-size="9.0" font-weight="bold" text-anchor="middle" fill="#000" textLength="46.7" lengthAdjust="spacingAndGlyphs" stroke="#000" stroke-width="0.25">CD8 T cells</text>
<line x1="74.60" y1="357.80" x2="233.60" y2="357.80" stroke="#8a8a8a" stroke-width="1.3"/>
<line x1="233.60" y1="357.80" x2="233.60" y2="478.60" stroke="#8a8a8a" stroke-width="1.3"/>
<line x1="74.60" y1="357.20" x2="74.60" y2="478.60" stroke="#555" stroke-width="1.3"/>
<line x1="74.60" y1="478.60" x2="233.60" y2="478.60" stroke="#555" stroke-width="1.3"/>
<line x1="70.60" y1="478.60" x2="74.60" y2="478.60" stroke="#555" stroke-width="1"/>
<line x1="72.60" y1="472.84" x2="74.60" y2="472.84" stroke="#777" stroke-width="0.8"/>
<line x1="72.60" y1="467.08" x2="74.60" y2="467.08" stroke="#777" stroke-width="0.8"/>
<line x1="72.60" y1="461.32" x2="74.60" y2="461.32" stroke="#777" stroke-width="0.8"/>
<line x1="72.60" y1="455.56" x2="74.60" y2="455.56" stroke="#777" stroke-width="0.8"/>
<line x1="70.60" y1="449.80" x2="74.60" y2="449.80" stroke="#555" stroke-width="1"/>
<line x1="72.60" y1="444.04" x2="74.60" y2="444.04" stroke="#777" stroke-width="0.8"/>
<line x1="72.60" y1="438.28" x2="74.60" y2="438.28" stroke="#777" stroke-width="0.8"/>
<line x1="72.60" y1="432.52" x2="74.60" y2="432.52" stroke="#777" stroke-width="0.8"/>
<line x1="72.60" y1="426.76" x2="74.60" y2="426.76" stroke="#777" stroke-width="0.8"/>
<line x1="70.60" y1="421.00" x2="74.60" y2="421.00" stroke="#555" stroke-width="1"/>
<line x1="72.60" y1="415.24" x2="74.60" y2="415.24" stroke="#777" stroke-width="0.8"/>
<line x1="72.60" y1="409.48" x2="74.60" y2="409.48" stroke="#777" stroke-width="0.8"/>
<line x1="72.60" y1="403.72" x2="74.60" y2="403.72" stroke="#777" stroke-width="0.8"/>
<line x1="72.60" y1="397.96" x2="74.60" y2="397.96" stroke="#777" stroke-width="0.8"/>
<line x1="70.60" y1="392.20" x2="74.60" y2="392.20" stroke="#555" stroke-width="1"/>
<line x1="72.60" y1="386.44" x2="74.60" y2="386.44" stroke="#777" stroke-width="0.8"/>
<line x1="72.60" y1="380.68" x2="74.60" y2="380.68" stroke="#777" stroke-width="0.8"/>
<line x1="72.60" y1="374.92" x2="74.60" y2="374.92" stroke="#777" stroke-width="0.8"/>
<line x1="72.60" y1="369.16" x2="74.60" y2="369.16" stroke="#777" stroke-width="0.8"/>
<line x1="70.60" y1="363.40" x2="74.60" y2="363.40" stroke="#555" stroke-width="1"/>
<text x="69.6" y="480.8" font-size="6.2" font-weight="normal" text-anchor="end" fill="#444" textLength="3.6" lengthAdjust="spacingAndGlyphs">0</text>
<text x="69.6" y="452.0" font-size="6.2" font-weight="normal" text-anchor="end" fill="#444" textLength="7.2" lengthAdjust="spacingAndGlyphs">50</text>
<text x="69.6" y="423.2" font-size="6.2" font-weight="normal" text-anchor="end" fill="#444" textLength="10.8" lengthAdjust="spacingAndGlyphs">100</text>
<text x="69.6" y="394.4" font-size="6.2" font-weight="normal" text-anchor="end" fill="#444" textLength="10.8" lengthAdjust="spacingAndGlyphs">150</text>
<text x="69.6" y="365.59999999999997" font-size="6.2" font-weight="normal" text-anchor="end" fill="#444" textLength="10.8" lengthAdjust="spacingAndGlyphs">200</text>
<text transform="translate(51.4,418.3) rotate(-90)" x="0" y="0" font-size="6.8" font-weight="normal" text-anchor="middle" fill="#444" textLength="17.8" lengthAdjust="spacingAndGlyphs">Count</text>
<line x1="82.60" y1="478.60" x2="82.60" y2="482.60" stroke="#333" stroke-width="1.1"/>
<line x1="137.80" y1="478.60" x2="137.80" y2="482.60" stroke="#333" stroke-width="1.1"/>
<line x1="181.10" y1="478.60" x2="181.10" y2="482.60" stroke="#333" stroke-width="1.1"/>
<line x1="217.00" y1="478.60" x2="217.00" y2="482.60" stroke="#333" stroke-width="1.1"/>
<line x1="150.83" y1="478.60" x2="150.83" y2="481.00" stroke="#444" stroke-width="0.8"/>
<line x1="158.46" y1="478.60" x2="158.46" y2="481.00" stroke="#444" stroke-width="0.8"/>
<line x1="163.87" y1="478.60" x2="163.87" y2="481.00" stroke="#444" stroke-width="0.8"/>
<line x1="168.07" y1="478.60" x2="168.07" y2="481.00" stroke="#444" stroke-width="0.8"/>
<line x1="171.49" y1="478.60" x2="171.49" y2="481.00" stroke="#444" stroke-width="0.8"/>
<line x1="174.39" y1="478.60" x2="174.39" y2="481.00" stroke="#444" stroke-width="0.8"/>
<line x1="176.90" y1="478.60" x2="176.90" y2="481.00" stroke="#444" stroke-width="0.8"/>
<line x1="179.12" y1="478.60" x2="179.12" y2="481.00" stroke="#444" stroke-width="0.8"/>
<line x1="191.91" y1="478.60" x2="191.91" y2="481.00" stroke="#444" stroke-width="0.8"/>
<line x1="198.23" y1="478.60" x2="198.23" y2="481.00" stroke="#444" stroke-width="0.8"/>
<line x1="202.71" y1="478.60" x2="202.71" y2="481.00" stroke="#444" stroke-width="0.8"/>
<line x1="206.19" y1="478.60" x2="206.19" y2="481.00" stroke="#444" stroke-width="0.8"/>
<line x1="209.04" y1="478.60" x2="209.04" y2="481.00" stroke="#444" stroke-width="0.8"/>
<line x1="211.44" y1="478.60" x2="211.44" y2="481.00" stroke="#444" stroke-width="0.8"/>
<line x1="213.52" y1="478.60" x2="213.52" y2="481.00" stroke="#444" stroke-width="0.8"/>
<line x1="215.36" y1="478.60" x2="215.36" y2="481.00" stroke="#444" stroke-width="0.8"/>
<line x1="227.84" y1="478.60" x2="227.84" y2="481.00" stroke="#444" stroke-width="0.8"/>
<line x1="84.90" y1="478.60" x2="84.90" y2="481.00" stroke="#444" stroke-width="0.8"/>
<line x1="87.20" y1="478.60" x2="87.20" y2="481.00" stroke="#444" stroke-width="0.8"/>
<line x1="89.50" y1="478.60" x2="89.50" y2="481.00" stroke="#444" stroke-width="0.8"/>
<line x1="91.80" y1="478.60" x2="91.80" y2="481.00" stroke="#444" stroke-width="0.8"/>
<line x1="94.10" y1="478.60" x2="94.10" y2="481.00" stroke="#444" stroke-width="0.8"/>
<line x1="96.40" y1="478.60" x2="96.40" y2="481.00" stroke="#444" stroke-width="0.8"/>
<line x1="98.70" y1="478.60" x2="98.70" y2="481.00" stroke="#444" stroke-width="0.8"/>
<line x1="101.00" y1="478.60" x2="101.00" y2="481.00" stroke="#444" stroke-width="0.8"/>
<line x1="103.30" y1="478.60" x2="103.30" y2="481.00" stroke="#444" stroke-width="0.8"/>
<line x1="115.20" y1="478.60" x2="115.20" y2="481.00" stroke="#444" stroke-width="0.8"/>
<line x1="117.50" y1="478.60" x2="117.50" y2="481.00" stroke="#444" stroke-width="0.8"/>
<line x1="119.80" y1="478.60" x2="119.80" y2="481.00" stroke="#444" stroke-width="0.8"/>
<line x1="122.10" y1="478.60" x2="122.10" y2="481.00" stroke="#444" stroke-width="0.8"/>
<line x1="124.40" y1="478.60" x2="124.40" y2="481.00" stroke="#444" stroke-width="0.8"/>
<line x1="126.70" y1="478.60" x2="126.70" y2="481.00" stroke="#444" stroke-width="0.8"/>
<line x1="129.00" y1="478.60" x2="129.00" y2="481.00" stroke="#444" stroke-width="0.8"/>
<line x1="131.30" y1="478.60" x2="131.30" y2="481.00" stroke="#444" stroke-width="0.8"/>
<line x1="133.60" y1="478.60" x2="133.60" y2="481.00" stroke="#444" stroke-width="0.8"/>
<line x1="135.90" y1="478.60" x2="135.90" y2="481.00" stroke="#444" stroke-width="0.8"/>
<rect x="106.3" y="479.2" width="6.8" height="2.6" fill="#222"/>
<text x="80.3" y="493.9" font-size="6.0" font-weight="normal" text-anchor="start" fill="#555">&#183;</text>
<text x="82.0" y="493.9" font-size="6.0" font-weight="normal" text-anchor="start" fill="#555">10</text>
<text x="88.773828125" y="490.3" font-size="4.6" font-weight="normal" text-anchor="start" fill="#555">3</text>
<text x="110.2" y="493.9" font-size="6.0" font-weight="normal" text-anchor="middle" fill="#555">0</text>
<text x="136.2" y="493.9" font-size="6.0" font-weight="normal" text-anchor="start" fill="#555">10</text>
<text x="142.97382812499998" y="490.3" font-size="4.6" font-weight="normal" text-anchor="start" fill="#555">3</text>
<text x="180.6" y="493.9" font-size="6.0" font-weight="normal" text-anchor="start" fill="#555">10</text>
<text x="187.373828125" y="490.3" font-size="4.6" font-weight="normal" text-anchor="start" fill="#555">4</text>
<text x="216.5" y="493.9" font-size="6.0" font-weight="normal" text-anchor="start" fill="#555">10</text>
<text x="223.273828125" y="490.3" font-size="4.6" font-weight="normal" text-anchor="start" fill="#555">5</text>
<text x="153.5" y="504.2" font-size="7.2" font-weight="normal" text-anchor="middle" fill="#444" textLength="18" lengthAdjust="spacingAndGlyphs">PE-A</text>
<polyline points="74.0,478.6 104.0,478.6 106.5,478.0 108.5,476.0 110.0,470.0 111.6,460.0 112.6,445.0 113.4,425.0 113.9,400.0 114.3,382.0 114.8,376.0 115.8,375.2 116.5,377.0 116.6,382.0 116.8,400.0 117.1,425.0 117.7,450.0 118.6,466.0 119.8,473.0 121.5,477.0 124.0,478.4 130.0,478.6" fill="none" stroke="#b01018" stroke-width="2.8" stroke-linejoin="bevel"/>
<polyline points="104.0,478.6 112.0,478.4 115.0,477.5 117.5,474.0 119.0,467.0 120.3,455.0 121.2,440.0 122.0,425.0 122.9,407.0 123.8,395.0 125.0,386.0 126.5,379.0 127.6,376.0 128.5,375.8 129.5,382.0 130.5,389.0 131.5,391.5 132.2,397.0 132.7,403.0 133.4,415.0 134.2,425.0 135.5,435.0 137.3,445.0 139.6,460.0 142.5,470.0 147.2,476.0 154.0,478.2 165.0,478.6 233.0,478.6" fill="none" stroke="#b01018" stroke-width="2.8" stroke-linejoin="bevel"/>
<polyline points="106.5,478.0 108.5,476.0 110.0,470.0 111.6,460.0 112.5,445.0 113.4,425.0 114.2,410.0 115.3,402.5 116.3,410.0 117.0,425.0" fill="none" stroke="#5a1458" stroke-width="2.6" stroke-linejoin="bevel" opacity="0.85"/>
<polyline points="104.0,478.6 106.5,478.0 108.5,476.0 110.0,470.0 111.6,460.0 112.5,445.0 113.4,425.0 114.2,410.0 115.3,402.5 116.3,410.0 117.0,425.0 117.7,450.0 118.4,465.0 119.5,472.5 121.5,476.5 124.0,478.3 130.0,478.6" fill="none" stroke="#3a2ab0" stroke-width="2.0" stroke-dasharray="0.9 0.8" stroke-linejoin="round"/>
<polyline points="104.0,478.6 112.0,478.4 114.5,477.5 116.5,474.0 118.0,468.0 119.3,458.0 120.3,445.0 121.5,425.0 122.7,405.0 123.5,395.0 124.1,389.8 125.0,392.0 126.0,397.0 126.8,401.0 127.8,412.0 129.1,425.0 131.5,445.0 133.2,460.0 136.1,472.0 141.4,478.0 150.0,478.6 233.0,478.6" fill="none" stroke="#3a2ab0" stroke-width="2.0" stroke-dasharray="0.9 0.8" stroke-linejoin="round"/>
<line x1="74.60" y1="478.60" x2="104.00" y2="478.60" stroke="#4a1850" stroke-width="2.4"/>
<line x1="150.00" y1="478.60" x2="233.60" y2="478.60" stroke="#4a1850" stroke-width="2.4"/>
<rect x="152.50" y="375.00" width="75.40" height="18.00" stroke="#8c8c8c" stroke-width="1.1" fill="#fff"/>
<text x="157.7" y="388.0" font-size="10.2" font-weight="bold" text-anchor="start" fill="#000" textLength="65" lengthAdjust="spacingAndGlyphs">CB CD8 T-cells</text>
<rect x="150.00" y="409.60" width="78.50" height="18.10" stroke="#8c8c8c" stroke-width="1.1" fill="#fff"/>
<text x="155.4" y="422.4" font-size="10.2" font-weight="bold" text-anchor="start" fill="#000" textLength="64.4" lengthAdjust="spacingAndGlyphs">PB CD8 T-cells</text>
<line x1="149.00" y1="389.50" x2="132.20" y2="405.00" stroke="#000" stroke-width="2.4"/>
<polygon points="132.20,405.00 134.67,398.09 139.28,403.09" fill="#000"/>
<line x1="148.50" y1="425.60" x2="131.50" y2="440.80" stroke="#000" stroke-width="2.4"/>
<polygon points="131.50,440.80 134.08,433.93 138.61,439.00" fill="#000"/>
</svg>
</body></html>
